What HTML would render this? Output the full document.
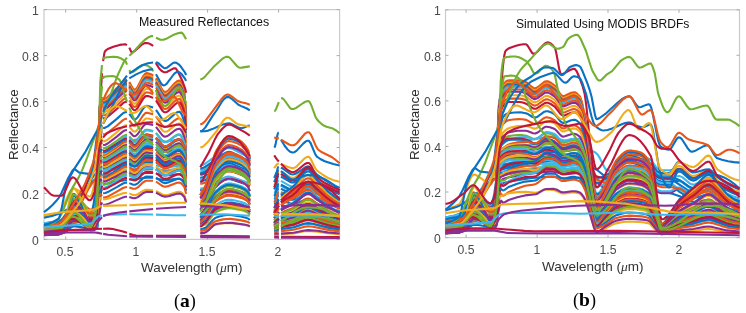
<!DOCTYPE html><html><head><meta charset="utf-8"><style>
html,body{margin:0;padding:0;background:#fff;width:746px;height:313px;overflow:hidden}
body{position:relative;font-family:"Liberation Sans",sans-serif;color:#262626}
.t{position:absolute;white-space:nowrap;line-height:1;will-change:transform}
.tk{font-size:12.2px;color:#4a4a4a}
svg{position:absolute;left:0;top:0}
svg g.l path{fill:none;stroke-width:2.1;stroke-linejoin:round;stroke-linecap:butt}
</style></head><body>
<svg width="746" height="313" viewBox="0 0 746 313">
<g><rect x="44.0" y="9.6" width="295.6" height="229.8" fill="none" stroke="#cacaca" stroke-width="1.2"/>
<path d="M65.7 239.4V236.4M65.7 9.6V12.6" stroke="#aaaaaa" stroke-width="1"/>
<path d="M136.7 239.4V236.4M136.7 9.6V12.6" stroke="#aaaaaa" stroke-width="1"/>
<path d="M207.6 239.4V236.4M207.6 9.6V12.6" stroke="#aaaaaa" stroke-width="1"/>
<path d="M278.6 239.4V236.4M278.6 9.6V12.6" stroke="#aaaaaa" stroke-width="1"/>
<path d="M44.0 239.4H47.0M339.6 239.4H336.6" stroke="#aaaaaa" stroke-width="1"/>
<path d="M44.0 193.4H47.0M339.6 193.4H336.6" stroke="#aaaaaa" stroke-width="1"/>
<path d="M44.0 147.5H47.0M339.6 147.5H336.6" stroke="#aaaaaa" stroke-width="1"/>
<path d="M44.0 101.5H47.0M339.6 101.5H336.6" stroke="#aaaaaa" stroke-width="1"/>
<path d="M44.0 55.6H47.0M339.6 55.6H336.6" stroke="#aaaaaa" stroke-width="1"/>
<path d="M44.0 9.6H47.0M339.6 9.6H336.6" stroke="#aaaaaa" stroke-width="1"/></g><g><rect x="445.5" y="9.8" width="294.0" height="227.8" fill="none" stroke="#cacaca" stroke-width="1.2"/>
<path d="M466.1 237.6V234.6M466.1 9.8V12.8" stroke="#aaaaaa" stroke-width="1"/>
<path d="M537.1 237.6V234.6M537.1 9.8V12.8" stroke="#aaaaaa" stroke-width="1"/>
<path d="M608.0 237.6V234.6M608.0 9.8V12.8" stroke="#aaaaaa" stroke-width="1"/>
<path d="M679.0 237.6V234.6M679.0 9.8V12.8" stroke="#aaaaaa" stroke-width="1"/>
<path d="M445.5 237.6H448.5M739.5 237.6H736.5" stroke="#aaaaaa" stroke-width="1"/>
<path d="M445.5 192.0H448.5M739.5 192.0H736.5" stroke="#aaaaaa" stroke-width="1"/>
<path d="M445.5 146.5H448.5M739.5 146.5H736.5" stroke="#aaaaaa" stroke-width="1"/>
<path d="M445.5 100.9H448.5M739.5 100.9H736.5" stroke="#aaaaaa" stroke-width="1"/>
<path d="M445.5 55.3H448.5M739.5 55.3H736.5" stroke="#aaaaaa" stroke-width="1"/>
<path d="M445.5 9.8H448.5M739.5 9.8H736.5" stroke="#aaaaaa" stroke-width="1"/></g>
<g class="l"><path d="M44 223.5 53.7 221.8 61.1 219.9 66.7 217.7 70.1 215.6 73 212.2 76.4 206.3 87.2 182.6 91.8 174.1 94 171 95.7 169.3 98 167.9 102 166.3M103.1 165.9 114.5 162.9 127 160.3M129.3 159.9 146.3 157.4 150.9 157.2 153.1 157.4M156 158.2 161.1 159.8 164.5 160.4 168.5 160.2 176.5 159 179.9 158.9 182.1 160.4 186.1 165.1M200.3 177.8 202.6 177.4 205.4 176.2 223.1 165.2 225.9 163.9 228.2 163.3 230.5 163.4 233.3 164.3 245.2 169.6 249.8 172.4M274.2 196.5 274.8 196 275.4 194.7 277.6 186.4 278.2 185.2 278.8 185M281 185.5 289.6 190 291.3 190.6 293 190.7 294.7 190.5 297 189.7 304.9 185.7 307.2 185.1 308.9 185 311.2 186.1 316.3 190.4 322 193.5 330.5 197.4 339.6 200.8" stroke="#0A72C4"/>
<path d="M44 227.8 53.7 226.6 59.3 225.4 62.2 223.4 69.6 215.3 71.3 214 73 213.4 76.4 213.8 88.3 217.2 90.6 217.5 91.2 217.1 92.9 214.1 94 207.5 98.6 161 99.7 156.2 102 154.2M103.1 153.5 106 152.2 113.9 149.6 127 146.5M129.3 146 146.3 143.2 150.9 142.9 153.1 143.1M156 144 161.1 146 164.5 146.7 168.5 146.4 176.5 145 179.9 144.9 182.1 146.5 186.1 152M200.3 174.5 202.6 174.1 205.4 172.8 223.1 161.2 225.9 159.8 228.2 159.2 230.5 159.3 233.3 160.3 245.2 165.8 249.8 168.8M274.2 192.8 274.8 192.3 275.4 190.8 277.6 181.8 278.2 180.6 278.8 180.4M281 180.9 289.6 185.8 291.8 186.5 293.6 186.5 295.3 185.8 297 184.4 304.9 176.1 307.2 174.9 308.9 174.8 310 175.7 311.2 177.2 315.7 185.3 318 187.5 324.3 191 333.3 195.1 339.6 197.5" stroke="#3CB8EC"/>
<path d="M44 226 53.7 224.6 59.3 223.2 62.2 220.8 69.6 211.5 71.3 210 73 209.3 76.4 209.7 88.3 213.7 90.6 214 91.2 213.6 92.9 210.2 94 205.1 98.6 173.5 99.7 170.1 102 168.5M103.1 167.9 106 166.8 113.9 164.6 127 162M129.3 161.7 146.3 159.3 150.9 159 153.1 159.3M156 160 161.1 161.6 164.5 162.2 168.5 162 177 160.7 179.9 160.7 182.1 162.3 186.1 167M200.3 174.8 202.6 174.4 205.4 173.1 223.1 161.6 225.9 160.2 228.2 159.6 230.5 159.8 233.3 160.7 245.2 166.2 249.8 169.2M274.2 199.1 274.8 198.7 275.4 197.4 277.6 189.6 278.2 188.6 278.8 188.4M281 188.8 289.6 193 291.3 193.6 293 193.7 297 192.8 305.5 189 307.8 188.6 309.5 188.7 311.7 189.9 316.3 193.4 322.5 196.6 330.5 200 339.6 203.1" stroke="#0A72C4"/>
<path d="M44 223.4 54.2 221.5 62.2 219.4 67.9 217 70.7 214.8 73.6 210.8 76.4 205.3 87.2 179.5 91.8 170.2 94 166.8 95.7 164.9 98 163.5 102 161.7M103.1 161.3 114.5 158.1 127 155.4M129.3 155 146.3 152.3 150.9 152.1 153.1 152.3M156 153.1 161.1 154.9 164.5 155.5 168.5 155.2 177 153.9 179.9 153.9 181 154.6 182.1 155.8 186.1 161.1M200.3 165.4 202.6 165 205.4 163.5 216.8 155.3 223.1 150.4 225.9 148.7 228.2 148.1 230.5 148.2 233.3 149.3 245.2 155.6 249.8 159M274.2 187.5 274.8 186.9 275.4 185.3 277.6 175.3 278.2 173.9 278.8 173.6M281 174.2 289.6 179.7 291.8 180.5 293.6 180.4 295.3 179.6 297 178 304.9 168.3 307.2 166.8 308.9 166.8 310.6 168.7 315.2 178.1 316.3 179.9 317.4 181.1 320.3 183.2 323.7 185.2 332.8 189.7 339.6 192.7" stroke="#3CB8EC"/>
<path d="M44 231.2 53.7 230.4 59.3 229.5 62.2 228.1 69.6 222.3 71.3 221.5 73 221 76.4 221.3 88.3 223.7 90.6 223.9 91.2 223.6 92.9 221.6 94 217.4 98.6 189.1 99.7 186.2 102 184.9M103.1 184.4 113.9 181.9 127 180M129.3 179.7 146.3 177.8 153.1 177.8M156 178.4 161.1 179.6 164.5 180.1 168.5 179.9 177 178.9 179.9 178.9 182.1 180.1 186.1 183.8M200.3 190.5 202.6 190.2 205.4 189.3 223.1 180.6 225.9 179.5 228.2 179.1 230.5 179.2 233.3 179.9 245.2 184.1 249.8 186.3M274.2 208 274.8 207.6 275.4 206.6 277.6 200.6 278.2 199.7 278.8 199.6M281 199.9 289.6 203.2 293 203.8 297 203 304.9 199.9 307.2 199.5 308.9 199.4 311.2 200.3 316.3 203.5 321.4 205.6 329.9 208.5 339.6 211.1" stroke="#0A72C4"/>
<path d="M44 225.8 53.7 224.4 59.3 223 62.2 220.6 69.6 211.1 71.3 209.6 73 208.9 76.4 209.3 88.3 213.4 90.6 213.7 91.2 213.2 92.9 209.9 94 206 97.4 188.8 98.6 184.3 99.7 181.9 102 180.6M103.1 180.1 113.9 177.4 127 175.2M129.3 175 146.3 173 150.9 172.8 153.1 173M156 173.5 161.1 174.9 164.5 175.4 168.5 175.2 176.5 174.2 179.9 174.1 182.1 175.3 186.1 179.2M200.3 190.3 202.6 190 205.4 189 223.1 180.3 225.9 179.2 228.2 178.8 230.5 178.9 233.3 179.6 245.2 183.8 249.8 186M274.2 202.7 274.8 202.2 275.4 200.9 277.6 194 278.2 193.1 278.8 192.9M281 193.3 289.6 197.2 291.8 197.7 293.6 197.7 295.3 197.1 297 195.9 304.9 188.6 307.2 187.4 308.9 187.4 310 188.2 311.2 189.6 315.7 196.7 317.4 198.2 323.7 201.1 339.6 206.4" stroke="#8A2E96"/>
<path d="M44 228.8 54.2 227.5 62.8 226 68.4 224.3 70.7 222.8 73.6 219.1 76.4 213.8 87.8 186.7 91.8 178.7 94 175.4 95.7 173.6 98 172.2 102 170.7M103.1 170.3 114.5 167.5 127 165.1M129.3 164.8 146.3 162.4 150.9 162.2 153.1 162.4M156 163.1 161.1 164.6 164.5 165.2 168.5 165 177 163.8 179.9 163.8 182.1 165.3 186.1 169.8M200.3 178.6 202.6 178.2 205.4 177.1 223.1 166.2 225.9 164.9 228.2 164.3 230.5 164.5 233.3 165.3 245.2 170.5 249.8 173.3M274.2 204.5 274.8 204.1 275.4 203 277.6 196.3 278.2 195.4 278.8 195.2M281 195.6 289.6 199.3 291.8 199.8 293.6 199.8 297 198.6 304.9 193.8 307.2 193.1 308.9 193.1 311.2 194.4 315.7 199 318.6 200.7 327.1 204.1 339.6 208" stroke="#0A72C4"/>
<path d="M44 225.6 53.7 224.2 59.3 222.8 62.2 220.3 69.6 210.7 71.3 209.2 73 208.4 76.4 208.9 88.3 213 90.6 213.3 91.2 212.9 92.9 209.5 94 204.9 97.4 183.3 98.6 177.6 99.7 174.7 102 173.1M103.1 172.6 106 171.6 113.9 169.5 127 167.1M129.3 166.8 146.3 164.6 150.9 164.3 153.1 164.5M156 165.2 161.1 166.7 164.5 167.3 168.5 167.1 176.5 165.9 179.9 165.9 182.1 167.1 186.1 171.4M200.3 188.6 202.6 188.2 205.4 187.3 223.1 178.2 225.9 177.1 228.2 176.6 230.5 176.7 233.3 177.5 245.2 181.8 249.8 184.1M274.2 201.6 274.8 201 275.4 199.7 277.6 192.6 278.2 191.6 278.8 191.4M281 191.9 289.6 195.8 291.8 196.4 293.6 196.4 295.3 195.9 297 194.9 304.9 188.6 307.2 187.6 308.9 187.5 310 188.2 311.2 189.4 315.7 195.5 318 197.2 324.8 200.3 339.6 205.3" stroke="#3CB8EC"/>
<path d="M44 216.7 53.7 214.5 57.1 213.3 59.3 212.1 60.5 210.9 62.2 208.1 69.6 192.3 71.3 189.8 73 188.6 74.1 188.5 75.8 189.1 81 191.7 87.2 195.6 88.9 196.3 90.6 196.5 91.8 194.2 93.5 188.1 97.4 165.8 98.6 160.8 99.7 158.1 102 156.2M103.1 155.5 106.5 154 113.4 151.8 127 148.6M129.3 148.2 146.3 145.4 150.9 145.1 153.1 145.3M156 146.2 161.1 148.1 164.5 148.8 168.5 148.5 176.5 147.1 179.9 147 181 147.7 182.1 148.7 186.1 154.1M200.3 169.5 202.6 169.1 205.4 167.8 216.8 160 223.1 155.3 225.9 153.8 228.2 153.2 230.5 153.3 233.3 154.3 245.2 160.3 249.8 163.4M274.2 185.2 274.8 184.3 275.4 182.4 277.6 172.3 278.2 171 278.8 170.7M281 171.3 289.6 177 291.8 177.9 293.6 177.9 295.3 177.2 297 175.9 304.9 168.1 307.2 166.9 308.9 166.9 310 167.7 311.2 169.1 315.7 176.7 318.6 179.3 322 181.7 326.5 184.3 333.3 187.8 339.6 190.6" stroke="#F0AC1C"/>
<path d="M44 217.8 52 215.9 58.8 213.8 63.9 211.5 69 208.4 71.9 206.1 75.3 202.4 86.6 187.9 91.2 182.8 93.5 180.7 95.7 179.2 102 176.7M103.1 176.4 114.5 173.8 127 171.6M129.3 171.2 146.3 169.1 150.9 168.9 153.1 169.1M156 169.7 161.1 171.1 164.5 171.6 168.5 171.4 177 170.4 179.9 170.4 182.1 171.8 186.1 176M200.3 181.4 202.6 181.1 205.4 179.9 223.1 169.6 225.9 168.3 228.2 167.8 230.5 167.9 233.3 168.8 245.2 173.7 249.8 176.4M274.2 189.4 275.4 186.4 277.6 177.3 278.2 176.1 278.8 175.9M281 176.5 289.6 181.7 291.8 182.5 293.6 182.5 295.3 181.6 297 180.1 304.9 170.5 307.2 169 308.9 169 310.6 170.8 315.2 180.2 316.3 182 317.4 183.1 320.3 185.2 323.7 187.1 332.8 191.4 339.6 194.3" stroke="#0A72C4"/>
<path d="M44 229.6 54.8 228.5 59.9 227.4 62.8 225.4 69 219.5 70.7 218.3 72.4 217.6 75.8 217.7 88.9 220.8 90.6 220.9 91.8 220 92.9 218.1 94 210.9 98.6 157.2 99.1 153.5 99.7 151.6 102 149.5M103.1 148.8 106 147.4 113.9 144.7 127 141.4M129.3 140.9 146.3 137.9 150.9 137.6 153.1 137.9M156 138.8 161.1 140.8 164.5 141.6 168.5 141.3 176.5 139.8 179.9 139.7 181 140.3 182.1 141.4 186.1 147.2M200.3 171.2 202.6 170.8 205.4 169.4 216.8 161.8 223.1 157.3 225.9 155.8 228.2 155.2 230.5 155.3 233.3 156.3 245.2 162.1 249.8 165.2M274.2 196.1 274.8 195.7 275.4 194.3 277.6 185.9 278.2 184.8 278.8 184.6M281 185 289.6 189.6 291.8 190.3 293.6 190.3 295.3 189.7 297 188.8 304.9 182.7 307.2 181.8 308.9 181.7 310 182.3 311.2 183.4 315.7 189.3 318.6 191.4 326.5 195.4 339.6 200.4" stroke="#3CB8EC"/>
<path d="M44 224.8 53.7 223.4 59.3 221.8 62.2 219.2 69.6 209 71.3 207.5 73 206.7 74.7 206.7 76.4 207.2 88.3 211.5 90.6 211.8 91.2 211.4 92.9 207.7 94 201.8 98.6 164.4 99.7 160.5 102 158.6M103.1 157.9 106 156.7 113.9 154.2 127 151.2M129.3 150.8 146.3 148.1 150.9 147.8 153.1 148.1M156 148.9 161.1 150.8 164.5 151.4 168.5 151.2 177 149.7 179.9 149.7 181 150.4 182.1 151.5 186.1 156.8M200.3 168.6 202.6 168.1 205.4 166.7 216.8 158.8 223.1 154.1 225.9 152.6 228.2 151.9 230.5 152.1 233.3 153.1 245.2 159.2 249.8 162.4M274.2 182.2 275.4 179 277.6 168.5 278.2 167.1 278.8 166.9M281 167.5 283.3 168.9 289.6 173.5 291.3 174.3 293 174.5 294.7 174.1 297 173 304.9 167.5 307.2 166.6 308.9 166.6 311.2 168.1 316.3 174 321.4 177.9 329.9 183.1 339.6 187.9" stroke="#0A72C4"/>
<path d="M44 230.9 55.9 229.7 65 228.2 69 227.1 71.3 225 74.1 219.9 77 212.9 87.8 178.9 91.8 168.4 94 164 95.7 161.8 98 160.1 102 158.3M103.1 157.9 114.5 154.6 127 151.7M129.3 151.3 146.3 148.5 150.9 148.2 153.1 148.5M156 149.3 161.1 151.2 164.5 151.8 168.5 151.6 176.5 150.2 179.9 150.1 182.1 151.7 186.1 156.9M200.3 173.9 202.6 173.5 205.4 172.2 223.1 160.6 225.9 159.1 228.2 158.5 230.5 158.7 233.3 159.6 245.2 165.2 249.8 168.2M274.2 187.3 275.4 184.5 277.6 174.8 278.2 173.6 278.8 173.3M281 173.9 289.6 179.4 291.8 180.2 293.6 180.2 295.3 179.4 297 177.9 304.9 168.9 307.2 167.5 308.9 167.4 310 168.4 311.2 170 315.7 178.9 318 181.2 320.8 183.3 324.3 185.2 332.8 189.5 339.6 192.5" stroke="#C0163A"/>
<path d="M44 227 53.7 225.8 59.3 224.5 62.2 222.3 69.6 213.7 71.3 212.4 73 211.7 76.4 212.1 88.3 215.8 90.6 216 91.2 215.7 92.9 212.6 94 207.5 98.6 174.7 99.7 171.3 102 169.7M103.1 169.1 106 168 113.9 165.9 127 163.3M129.3 163 146.3 160.6 150.9 160.4 153.1 160.6M156 161.3 161.1 162.9 164.5 163.5 168.5 163.3 177 162.1 179.9 162.1 182.1 163.8 186.1 168.5M200.3 173.1 202.6 172.7 205.4 171.4 216.8 164 223.1 159.6 225.9 158.1 228.2 157.6 230.5 157.7 233.3 158.6 245.2 164.3 249.8 167.3M274.2 195.8 274.8 195.3 275.4 193.9 277.6 185.5 278.2 184.3 278.8 184.1M281 184.6 289.6 189.2 291.3 189.8 293 189.9 294.7 189.7 297 188.9 305.5 184.7 307.8 184.2 309.5 184.4 311.7 185.7 316.3 189.6 322 192.8 330.5 196.7 339.6 200.1" stroke="#0A72C4"/>
<path d="M44 231.3 54.8 230.4 59.9 229.4 62.8 227.8 69 222.9 72.4 221.3 75.8 221.4 88.9 224 90.6 224.1 91.8 223.3 92.9 221.7 94 216.8 98.6 181.1 99.7 177.4 102 175.9M103.1 175.3 113.9 172.4 127 170.1M129.3 169.8 146.3 167.7 150.9 167.4 153.1 167.6M156 168.3 161.1 169.7 164.5 170.3 168.5 170.1 177 168.9 179.9 169 182.1 170.5 186.1 174.8M200.3 179.3 202.6 178.9 205.4 177.7 223.1 167 225.9 165.7 228.2 165.2 230.5 165.3 233.3 166.2 245.2 171.3 249.8 174M274.2 202.6 274.8 202.3 275.4 201.1 277.6 194 278.2 193 278.8 192.9M281 193.2 289.6 197.1 291.8 197.7 293.6 197.7 295.3 197 297 195.7 304.9 188 307.2 186.8 308.9 186.8 310 187.6 311.2 189.1 315.7 196.6 317.4 198.1 323.1 200.8 339.6 206.3" stroke="#3CB8EC"/>
<path d="M44 226.9 54.2 225.4 62.2 223.8 67.9 221.9 70.7 220.1 73.6 216.9 76.4 212.4 87.2 191.3 91.8 183.6 94 180.8 95.7 179.3 98 178.2 102 176.8M103.1 176.4 114.5 173.9 127 171.7M129.3 171.3 146.3 169.2 150.9 169 153.1 169.2M156 169.8 161.1 171.2 164.5 171.7 168.5 171.5 177 170.4 179.9 170.4 182.1 171.8 186.1 175.9M200.3 183.9 202.6 183.5 205.4 182.4 223.1 172.6 225.9 171.3 228.2 170.8 230.5 170.9 233.3 171.7 245.2 176.5 249.8 179M274.2 202.3 274.8 201.9 275.4 200.7 277.6 193.5 278.2 192.5 278.8 192.4M281 192.8 289.6 196.7 291.8 197.3 293.6 197.3 297 196 304.9 191 307.2 190.2 308.9 190.1 311.2 191.6 315.7 196.5 318.6 198.3 327.1 201.8 339.6 206" stroke="#E8561A"/>
<path d="M44 234.3 58.8 233.3 61.1 232.5 63.3 231 66.2 228 69.6 217 71.9 212.1 73 210.6 73.6 210.4 77 211.6 81 214.3 84.4 217.2 88.3 222.3 89.5 223.3 90.6 223.7 92.9 223.5 97.4 222.6 98 219.7 98.6 207.6 100.8 121.7 101.4 105.4 102 97.2M103.1 99 103.7 99.1 104.8 98.9 107.7 97.1 116.8 88.1 123 81.4 125.3 79.9 127 79.7M129.3 82.1 132.7 88.2 133.8 89.4 135 89.6 136.1 88.8 137.8 86.6 142.9 76.7 145.2 73.7 146.3 73.1 148 73.2 150.3 73.9 153.1 75.3M156 78.2 162.2 89.8 163.9 91.6 165.1 92 166.8 91.5 168.5 90.3 174.7 83.2 177 81.3 179.3 80.5 180.4 81.4 182.1 85 184.4 93.1 186.1 113.1M200.3 197.5 204.9 197.7 205.4 197.5 206.6 196.1 208.9 190.5 214 173.5 215.7 169.6 221.9 161.7 224.2 159.5 226.5 158.1 228.8 157.5 232.7 158 239 160.1 242.4 161.9 245.2 164.5 248.1 168.3 248.6 169.6 249.8 174.4M274.2 215.3 275.9 213.1 278.8 208.4M281 205.4 284.5 202.9 293 198.4 295.3 196.6 303.8 188.4 306.1 187 308.3 186.5 310 187 311.7 188.1 316.3 192.5 327.1 201.5 333.3 205.5 339.6 208.9" stroke="#E8561A"/>
<path d="M44 234.8 57.6 234.1 62.8 233.1 66.2 231.4 69.6 226.1 71.9 223.8 73 223.1 79.2 222.1 84.4 220.8 90 218.9 95.7 217.9 96.3 217.7 96.9 216.8 98 192.1 100.3 110.5 100.8 99.8 101.4 97.8 102 98.5M103.1 100.1 105.4 99.7 107.7 98.1 116.8 89.2 123 82.6 125.3 81.1 127 80.8M129.3 83.3 132.7 89.3 133.8 90.5 135 90.6 136.1 89.9 137.8 87.7 142.9 77.9 145.2 74.9 146.3 74.3 148 74.4 150.3 75.1 153.1 76.5M156 79.3 162.2 90.9 163.9 92.7 165.1 93.1 166.8 92.6 168.5 91.4 174.7 84.4 177 82.4 179.3 81.7 180.4 82.5 182.1 86.1 184.4 94.2 186.1 114M200.3 195 204.9 189.2 206.6 185.6 208.3 180.3 213.4 161.6 215.7 155.6 221.4 146.8 223.6 144.1 225.9 142.1 227.6 141.3 228.8 141.1 232.2 141.5 237.8 143.6 241.8 145.9 245.2 149.4 248.1 154 248.6 155.6 249.8 161.2M274.2 213 278.8 205.5M281 202.2 284.5 199.5 293 194.6 295.3 192.6 301.5 185.8 303.8 183.6 306.1 182.2 308.3 181.6 310 182.1 311.7 183.4 316.3 188.1 327.1 197.9 333.3 202.4 339.6 206.1" stroke="#E8561A"/>
<path d="M44 229.1 57.6 227.4 61.1 226.5 63.9 225.2 66.2 223.5 69.6 216 71.9 212.6 73 211.6 73.6 211.4 77 212.7 81 215.4 84.4 218.4 88.3 223.6 90 224.9 92.3 224.9 95.2 224.3 96.3 224 96.9 223 98 197.3 100.3 112.2 100.8 100.9 101.4 98.8 102 99.5M103.1 101.1 105.4 100.7 107.7 99.2 116.8 90.3 123 83.7 125.3 82.3 127 82M129.3 84.4 132.7 90.4 133.8 91.6 135 91.7 136.1 91 137.8 88.8 142.9 79.1 145.2 76.1 146.3 75.5 148 75.6 150.3 76.3 153.1 77.7M156 80.5 162.2 92 163.9 93.8 165.1 94.1 166.8 93.6 168.5 92.4 174.7 85.5 177 83.6 179.3 82.8 180.4 83.6 182.1 87.2 184.4 95.2 186.1 114.9M200.3 194.6 204.9 187.2 206.6 183.2 212.8 160.3 215.1 153.5 217.4 149.3 221.4 143.2 223.6 140.3 225.9 138.3 227.6 137.4 228.8 137.2 232.2 137.6 237.8 139.8 241.8 142.2 245.2 145.9 248.1 150.6 248.6 152.3 249.8 158.1M274.2 209.9 278.8 201.5M281 197.9 284.5 194.9 293 189.4 295.3 187.2 301.5 179.5 303.8 177.1 306.1 175.4 308.3 174.8 310 175.4 311.7 176.8 316.3 182.1 327.1 193.1 333.3 198 339.6 202.1" stroke="#F0AC1C"/>
<path d="M44 227.6 53.1 226.5 58.2 225.5 61.1 224.5 63.9 222.4 66.2 219.7 69.6 208 71.9 202.7 73 201.1 73.6 200.9 77 201.7 81 203.5 84.4 205.4 89.5 209.4 92.3 209.5 96.3 208.6 96.9 207.3 97.4 198.5 100.3 110 100.8 101.1 101.4 99.9 102 100.6M103.1 102.2 105.4 101.7 107.7 100.2 116.8 91.4 123 84.8 125.3 83.4 127 83.2M129.3 85.6 132.7 91.5 133.8 92.6 135 92.8 136.1 92.1 137.8 89.9 142.9 80.3 145.2 77.3 146.3 76.7 148 76.8 150.3 77.5 153.1 78.9M156 81.7 162.2 93 163.9 94.8 165.1 95.2 166.8 94.7 168.5 93.5 174.7 86.6 177 84.7 179.3 84 180.4 84.8 182.1 88.3 184.4 96.3 186.1 115.9M200.3 197.6 204.9 196.3 206 195.1 208.3 189.9 212.8 174.6 215.1 168.3 216.2 166.3 221.4 159.6 224.2 156.8 226.5 155.3 228.8 154.7 232.7 155.2 239 157.3 242.4 159.3 245.2 161.9 248.1 165.8 248.6 167.2 249.8 172.1M274.2 211.4 278.8 203.5M281 200 284.5 197.2 293 192 295.3 189.9 301.5 182.6 303.8 180.4 306.1 178.8 308.3 178.2 310 178.7 311.7 180.1 316.3 185.1 327.1 195.5 333.3 200.2 339.6 204.1" stroke="#E8561A"/>
<path d="M44 232.1 53.1 231.5 58.8 230.7 61.1 229.8 63.3 228.1 65 226.4 66.2 224.7 69.6 212.3 71.9 206.8 73 205 73.6 204.8 74.7 205.2 77 206.9 81 211.4 84.4 216.2 88.3 224.7 89.5 226.4 90 226.8 91.8 226.9 95.7 225.8 96.3 221.3 96.9 207.8 99.7 107.2 100.3 100.9 100.8 101 102 102.2M103.1 103.2 105.4 102.7 107.7 101.2 116.8 92.5 123 86 125.3 84.6 127 84.3M129.3 86.7 132.7 92.6 133.8 93.7 135 93.9 136.1 93.2 137.8 91 142.9 81.4 145.2 78.5 146.3 77.9 148 78 150.3 78.7 153.1 80.1M156 82.8 162.2 94.1 163.9 95.9 165.1 96.3 166.8 95.8 168.5 94.6 174.7 87.7 177 85.8 179.3 85.1 180.4 85.9 182.1 89.4 184.4 97.3 186.1 116.8M200.3 195.3 204.9 188 206.6 183.9 212.8 161.4 215.1 154.7 217.4 150.6 221.4 144.5 223.6 141.7 225.9 139.7 227.6 138.8 228.8 138.6 232.2 139.1 237.8 141.2 241.8 143.6 245.2 147.2 248.1 151.9 248.6 153.5 249.8 159.2M274.2 208.3 278.8 199.4M281 195.6 284.5 192.5 293 186.7 295.3 184.3 301.5 176.2 303.8 173.7 306.1 172 308.3 171.3 310 171.9 311.7 173.4 316.3 179 327.1 190.6 333.3 195.8 339.6 200.1" stroke="#0A72C4"/>
<path d="M44 231 58.2 229.5 61.1 228.8 63.9 227.5 66.2 225.8 69.6 218.2 71.9 214.8 73 213.8 73.6 213.6 77 215 81 217.9 84.4 221.1 88.3 226.6 89.5 227.7 90.6 228.1 91.8 228 95.7 227 96.3 223.1 96.9 210.2 99.7 109.1 100.3 102 100.8 102 102 103.2M103.1 104.2 105.4 103.7 107.7 102.3 116.8 93.6 123 87.1 125.3 85.7 127 85.5M129.3 87.8 132.7 93.7 133.8 94.8 135 95 136.1 94.3 137.8 92.2 142.9 82.6 145.2 79.7 146.3 79.1 148 79.2 150.3 79.9 153.1 81.3M156 84 162.2 95.2 163.9 97 165.1 97.3 166.8 96.9 168.5 95.7 174.7 88.9 177 87 179.3 86.3 180.4 87.1 182.1 90.6 184.4 98.4 186.1 117.7M200.3 195.3 204.9 187.1 206.6 182.9 212.8 160 215.1 153.2 216.2 150.9 220.8 143.7 223.1 140.7 225.3 138.4 227 137.4 228.2 137 231.6 137.2 236.7 139 239.6 140.4 241.8 142 245.2 145.6 248.1 150.4 248.6 152.1 249.8 157.9M274.2 213.3 278.8 205.9M281 202.6 284.5 200 293 195.2 295.3 193.2 303.8 184.3 306.1 182.8 308.3 182.2 310 182.7 311.7 184 316.3 188.7 327.1 198.4 333.3 202.8 339.6 206.4" stroke="#E8561A"/>
<path d="M44 229 57.6 227.3 61.6 226.3 64.5 225.1 66.2 223.9 69.6 217.5 71.9 214.7 73 213.8 88.9 212.7 93.5 212.2 95.7 211.5 96.3 209.5 96.9 199.8 99.7 111.5 100.3 103.6 100.8 103 102 104.2M103.1 105.2 105.4 104.8 107.7 103.3 116.8 94.7 123 88.3 125.3 86.9 127 86.6M129.3 89 132.7 94.8 133.8 95.9 135 96.1 136.1 95.4 137.8 93.3 142.9 83.8 145.2 80.9 146.3 80.3 148 80.4 150.3 81.1 153.1 82.4M156 85.2 162.2 96.3 163.9 98 165.1 98.4 166.8 97.9 168.5 96.8 174.7 90 177 88.1 179.3 87.4 180.4 88.2 182.1 91.7 184.4 99.5 186.1 118.6M200.3 198.7 204.9 197.3 206 196.1 208.3 191 212.8 176 215.1 169.9 216.2 167.9 221.4 161.4 224.2 158.7 226.5 157.2 228.8 156.6 232.7 157.1 239 159.2 242.4 161.1 245.2 163.7 248.1 167.5 248.6 168.9 249.8 173.6M274.2 217.7 275.9 215.8 278.8 211.7M281 208.9 284.5 206.7 293 202.7 295.8 200.6 303.8 193.7 306.1 192.5 308.3 192 310 192.4 311.7 193.5 316.3 197.4 327.1 205.4 333.3 209 339.6 212" stroke="#3CB8EC"/>
<path d="M44 232.1 53.1 231.5 58.8 230.8 61.1 230 63.3 228.6 66.2 225.7 69.6 215.2 71.9 210.5 73 209 73.6 208.9 75.3 209.1 79.8 210.5 84.4 212.7 88.3 215.5 90 216.2 91.8 216.2 94 215.7 95.2 215.3 95.7 214.4 96.9 192 98.6 133.1 99.7 107 100.3 105 102 106.4M103.1 107.3 105.4 106.8 107.7 105.4 116.8 96.9 123 90.6 125.3 89.2 127 88.9M129.3 91.3 132.7 97 133.8 98.1 135 98.2 136.1 97.6 137.8 95.5 142.9 86.2 145.2 83.3 146.3 82.7 148 82.8 150.3 83.5 153.1 84.8M156 87.5 162.2 98.5 163.9 100.2 165.1 100.5 166.8 100.1 168.5 98.9 174.7 92.3 177 90.4 179.3 89.7 180.4 90.5 182.1 93.9 184.4 101.6 186.1 120.4M200.3 197.5 204.9 191.4 206.6 187.8 213.4 164.7 215.7 158.9 221.4 150.6 223.6 148 225.9 146.1 227.6 145.3 228.8 145.1 232.2 145.5 237.3 147.3 241.8 149.8 245.2 153.2 248.1 157.5 248.6 159.1 249.8 164.4M274.2 214.9 278.8 208M281 205 284.5 202.5 293 198 295.8 195.6 303.8 187.8 306.1 186.4 308.3 185.9 310 186.3 311.7 187.5 316.3 191.9 327.1 201 333.3 205.1 339.6 208.5" stroke="#E8561A"/>
<path d="M44 234 53.7 233.5 58.8 232.9 61.1 231.7 63.3 229.1 65.6 225.4 66.2 223.9 69.6 205.3 71.9 196.9 73 194.3 73.6 194 74.7 194.6 77 196.9 78.7 199.3 81 203.3 84.4 210.3 88.3 222.3 89.5 224.7 90 225.4 91.8 225.5 94.6 224.8 95.7 224 96.3 216.2 96.9 201.1 98.6 138.4 99.7 109.7 100.3 107.1 102 108.5M103.1 109.3 105.4 108.8 107.7 107.4 116.8 99.1 123 92.9 125.3 91.5 127 91.3M129.3 93.5 132.7 99.2 133.8 100.3 135 100.4 136.1 99.8 137.8 97.7 142.9 88.5 145.2 85.7 146.3 85.1 148 85.2 150.3 85.9 153.1 87.2M156 89.9 162.2 100.6 163.9 102.3 165.1 102.7 166.8 102.2 168.5 101.1 174.7 94.5 177 92.7 179.3 92 180.4 92.8 182.1 96.1 184.4 103.7 186.1 122.2M200.3 198.3 204.9 192.4 206.6 188.9 213.4 166.2 215.7 160.6 221.4 152.4 223.6 149.9 225.9 148.1 227.6 147.3 228.8 147.1 232.2 147.5 237.3 149.3 241.8 151.7 245.2 155 248.1 159.2 248.6 160.7 249.8 166M274.2 218.3 275.9 216.4 278.8 212.4M281 209.8 284.5 207.6 293 203.7 295.8 201.7 303.8 194.9 306.1 193.7 308.3 193.3 310 193.7 311.7 194.7 316.3 198.5 327.1 206.3 333.3 209.8 339.6 212.8" stroke="#8A2E96"/>
<path d="M44 227.3 53.1 226.2 58.2 225.2 61.1 224.1 63.9 221.9 66.2 219.1 69.6 206.7 71.9 201.2 73 199.5 73.6 199.3 74.7 199.6 77 201.2 81 205.4 84.4 210 88.3 217.9 89.5 219.6 90 220 91.8 220.1 95.7 219 96.3 216.4 96.9 205.8 99.7 117.5 100.3 110.5 100.8 110.3 102 111.4M103.1 112.3 105.4 111.9 107.7 110.5 116.8 102.4 123 96.3 125.3 95 127 94.7M129.3 97 132.7 102.5 133.8 103.5 135 103.7 136.1 103 137.8 101 142.9 92 145.2 89.3 146.3 88.7 148 88.9 150.3 89.5 153.1 90.8M156 93.4 162.2 103.9 163.9 105.5 165.1 105.9 166.8 105.4 168.5 104.3 174.7 97.9 177 96.2 179.3 95.5 180.4 96.2 182.1 99.5 184.4 106.9 186.1 125M200.3 201.1 204.9 198.8 206.6 196.4 208.9 190.6 213.4 176.3 215.7 171.1 221.4 164 223.6 161.8 225.9 160.2 228.8 159.4 232.2 159.8 237.3 161.3 241.8 163.4 245.2 166.3 248.1 170 248.6 171.3 249.8 175.9M274.2 218.5 275.9 216.7 278.8 212.7M281 210.1 284.5 208.1 293 204.2 295.8 202.2 303.8 195.5 306.1 194.3 308.3 193.9 310 194.3 311.7 195.3 316.3 199 327.1 206.7 333.3 210.2 339.6 213.1" stroke="#F0AC1C"/>
<path d="M44 235.3 58.8 234.5 60.5 233.8 62.8 231.9 65 228.8 66.2 226.6 69.6 210.4 71.9 203.2 73 200.9 73.6 200.6 74.7 201.1 77 203.1 78.7 205 81 208.4 84.4 214.2 88.3 224.3 89.5 226.3 90 226.9 91.2 227 93.5 226.7 95.7 226 96.3 223.8 96.9 213.5 99.7 121.9 100.3 113.9 100.8 113.3 102 114.4M103.1 115.4 105.4 115 107.7 113.6 116.8 105.7 123 99.7 125.3 98.4 127 98.2M129.3 100.4 132.7 105.7 133.8 106.8 135 106.9 136.1 106.3 137.8 104.3 142.9 95.6 145.2 92.9 146.3 92.4 148 92.5 150.3 93.1 153.1 94.3M156 96.9 162.2 107.1 163.9 108.8 165.1 109.1 166.8 108.6 168.5 107.6 174.7 101.3 177 99.6 179.3 98.9 180.4 99.7 182.1 102.9 184.4 110.1 186.1 127.7M200.3 203 204.9 202.5 206 201.7 208.3 197.2 213.4 182.1 215.7 177.2 221.9 170.2 224.2 168.3 226.5 167.1 228.8 166.6 232.7 167 239 168.9 242.4 170.6 245.2 172.8 248.1 176.2 249.8 181.6M274.2 212.8 278.8 205.4M281 202.2 284.5 199.6 293 194.7 295.8 192.1 301.5 185.8 303.8 183.6 306.1 182.1 308.3 181.5 310 182 311.7 183.3 316.3 188 327.1 197.8 333.3 202.3 339.6 205.9" stroke="#E8561A"/>
<path d="M44 234.9 58.8 234.1 61.1 233.2 63.3 231.5 66.2 228 69.6 215.5 71.9 209.9 73 208.2 73.6 207.9 77 209 81 211.4 84.4 214 88.3 218.5 89.5 219.4 90.6 219.7 92.3 219.6 95.7 218.6 96.3 216.5 96.9 207 99.7 124 100.3 116.9 100.8 116.4 102 117.5M103.1 118.4 105.4 118 107.7 116.7 116.8 109 123 103.2 125.3 101.9 127 101.7M129.3 103.8 132.7 109 133.8 110 135 110.2 136.1 109.6 137.8 107.7 142.9 99.1 145.2 96.5 146.3 96 148 96.1 150.3 96.7 153.1 97.9M156 100.4 162.2 110.4 163.9 112 165.1 112.3 166.8 111.9 168.5 110.8 174.7 104.7 177 103 179.3 102.4 180.4 103.1 182.1 106.2 184.4 113.2 186.1 130.4M200.3 204.7 204.9 204.9 205.4 204.7 206.6 203.5 208.9 198.8 214 184.4 215.7 181.1 221.9 174.6 224.2 172.9 226.5 171.7 228.8 171.2 232.7 171.6 239 173.4 242.4 175 245.2 177.1 248.1 180.2 249.8 185.3M274.2 212.9 278.8 205.6M281 202.5 284.5 199.9 293 195.1 295.8 192.5 301.5 186.2 303.8 184 306.1 182.5 308.3 182 310 182.5 311.7 183.7 316.3 188.4 327.1 198.2 333.3 202.5 339.6 206.2" stroke="#C0163A"/>
<path d="M44 234.6 57.6 233.8 63.9 232.8 66.2 232 69.6 228.4 73 226.3 79.8 226.9 90 229 94 228.7 97.4 227.9 98 223.3 98.6 211.6 100.8 141.4 101.4 129.9 102 125.6M103.1 128 104.8 127.9 107.7 126.4 116.8 118.9 123 113.3 125.3 112.1 127 111.9M129.3 113.8 132.7 118.5 133.8 119.4 135 119.5 136.1 118.9 137.8 117.1 142.9 108.9 145.2 106.4 146.3 105.9 148 106 153.1 107.6M156 109.8 162.2 119.2 163.9 120.6 165.1 120.9 166.8 120.6 168.5 119.6 174.7 113.9 177 112.3 179.3 111.7 180.4 112.4 182.1 115.3 184.4 121.8 186.1 137.8M200.3 205.3 204.9 200 206.6 196.9 212.8 179 215.1 173.7 216.2 171.9 220.8 166.5 223.1 164.3 225.3 162.6 228.2 161.6 231.6 161.7 236.7 163.2 241.8 165.5 245.2 168.2 248.1 171.8 249.8 177.5M274.2 217.8 278.8 212M281 209.5 284.5 207.4 293 203.5 295.8 201.4 303.8 194.5 306.1 193.2 308.3 192.8 310 193.2 311.7 194.2 316.3 197.9 327.7 206.2 333.9 209.7 339.6 212.4" stroke="#0A72C4"/>
<path d="M44 232.4 58.8 231.2 61.6 230.4 63.9 229.3 66.2 227.6 69.6 220.4 71.9 217.1 73 216.1 90.6 215.4 94 215 96.3 214.4 96.9 212.6 97.4 204.8 100.3 137.8 100.8 132.2 101.4 132 102 132.8M103.1 134.3 105.4 134 107.7 132.7 116.8 125.5 123 120.1 125.3 118.9 127 118.7M129.3 120.5 132.7 124.9 133.8 125.7 135 125.8 136.1 125.3 137.8 123.5 142.9 115.7 145.2 113.3 146.3 112.8 148 112.9 153.1 114.3M156 116.4 162.2 125.3 163.9 126.7 165.1 127 166.8 126.6 168.5 125.7 174.7 120.3 177 118.8 179.3 118.3 180.4 118.9 182.1 121.6 184.4 127.8 186.1 143M200.3 205.2 206 192.8 212.8 171.6 215.1 166 220.2 158.8 222.5 156.2 224.8 154.1 227.6 152.7 231 152.7 235.6 154 241.3 156.6 244.7 159.5 247.5 163.2 248.6 165.5 249.8 170.3M274.2 220.4 278.8 215.3M281 213.2 284.5 211.3 293 207.9 295.8 206.1 303.8 200 306.1 198.9 308.3 198.5 310 198.9 311.7 199.7 316.3 203 327.7 210.3 333.9 213.4 339.6 215.7" stroke="#E8561A"/>
<path d="M44 228.2 55.9 226.7 65 224.8 66.7 223.8 70.1 219.9 72.4 218.3 73.6 218 77 218.7 81 220.1 84.4 221.7 88.3 224.4 90 225.1 94 224.9 97.4 224 98 219.9 98.6 209.9 100.8 150.9 101.4 141.4 102 138.1M103.1 141.2 104.8 141.1 107.7 139.6 116.8 132.2 123 126.7 125.3 125.5 127 125.2M129.3 126.8 132.7 130.7 133.8 131.5 135 131.6 136.1 131 137.8 129.2 142.9 121.4 145.2 118.9 146.3 118.5 148 118.5 153.1 119.7M156 121.6 162.2 130.2 163.9 131.5 165.1 131.8 166.8 131.5 168.5 130.6 174.7 125.4 177 124 179.3 123.5 180.4 124.1 182.1 126.7 184.4 132.6 186.1 147.1M200.3 209.6 204.9 205 206.6 202.3 212.8 186.3 215.1 181.6 216.2 180 220.8 175.3 223.1 173.4 225.3 172 228.2 171 231.6 171.2 236.7 172.5 241.8 174.6 245.2 177 248.1 180.1 249.8 185.1M274.2 222.1 278.8 217.6M281 215.7 284.5 214 293 211 295.8 209.3 303.8 203.8 306.1 202.8 308.3 202.4 310 202.7 311.7 203.5 316.3 206.5 327.7 213 333.9 215.8 339.6 217.9" stroke="#F0AC1C"/>
<path d="M44 230.2 53.1 229.4 58.8 228.5 61.1 227.5 63.3 225.7 65 223.8 66.2 222 69.6 208.5 71.9 202.5 73 200.6 73.6 200.4 74.7 200.7 77 201.9 81 205.4 84.4 209.1 88.3 215.6 89.5 216.9 90.6 217.4 91.8 217.3 95.7 216.3 96.3 214 96.9 206.3 99.7 146.5 100.3 142.3 100.8 142.4 102 143.9M103.1 145.1 105.4 144.7 107.7 143.5 116.8 136.6 123 131.4 125.3 130.2 127 130M129.3 131.6 132.7 135.3 133.8 136.1 135 136.2 136.1 135.6 137.8 134 142.9 126.6 145.2 124.3 146.3 123.8 148 123.9 153.1 125.1M156 126.9 162.2 135.1 163.9 136.4 165.1 136.6 166.8 136.3 168.5 135.4 174.7 130.5 177 129.2 179.3 128.7 180.4 129.2 182.1 131.7 184.4 137.4 186.1 151.2M200.3 209.9 206 200.4 212.8 182.1 215.1 177.2 220.2 171.2 222.5 169 224.8 167.4 227.6 166.2 231 166.2 235.6 167.3 241.3 169.6 244.7 172 247.5 175.1 248.6 177 249.8 181.1M274.2 218.1 278.8 212.6M281 210.3 284.5 208.3 293 204.6 295.8 202.5 303.8 195.7 306.1 194.5 308.3 194 310 194.4 311.7 195.4 316.3 199 327.7 207.1 333.9 210.4 339.6 213" stroke="#8A2E96"/>
<path d="M44 234.1 58.8 233.1 61.1 232.4 63.3 231 66.2 228.2 69.6 218.1 71.9 213.6 73 212.2 73.6 212 77 212.8 81 214.5 84.4 216.4 89.5 220.3 90.6 220.5 92.9 220.3 95.2 219.5 95.7 219.1 96.3 214.2 96.9 204.8 98.6 165.8 99.7 148 100.3 146.3 102 147.8M103.1 148.6 105.4 148.2 107.7 147.2 116.8 140.9 123 136.1 125.3 135.1 127 134.9M129.3 136.4 132.7 140.2 133.8 140.9 135 141 136.1 140.5 137.8 139 142.9 132.2 145.2 130.1 146.3 129.7 148 129.7 153.1 131M156 132.8 162.2 140.5 163.9 141.7 165.1 142 166.8 141.7 168.5 140.8 174.7 136.2 177 134.9 179.3 134.4 180.4 134.9 182.1 137.3 184.4 142.7 186.1 155.7M200.3 211.7 206 201.8 212.8 184 215.1 179.3 220.2 173.5 224.8 169.9 227.6 168.7 231 168.7 235.6 169.8 241.3 172.1 244.7 174.4 247.5 177.4 248.6 179.3 249.8 183.1M274.2 220.6 278.8 215.9M281 213.9 284.5 212.2 293 208.9 295.8 207.2 303.8 201.1 306.1 200.1 308.3 199.7 310 200 311.7 200.8 327.7 211 333.9 214 339.6 216.2" stroke="#72B030"/>
<path d="M44 233.9 53.7 233.4 58.8 232.9 61.1 231.7 63.3 229.1 65.6 225.3 66.2 223.9 69.6 205.2 71.9 196.8 73 194.2 73.6 193.9 74.7 194.5 77 197.3 78.7 200 81 204.7 84.4 212.8 88.3 226.8 89.5 229.6 90 230.4 91.2 230.6 93.5 230.2 95.7 229.3 96.3 224.6 96.9 214.6 98.6 171.5 99.7 150.8 100.3 148.4 100.8 148.8 102 150.3M103.1 151.5 105.4 151.2 107.7 150 116.8 143.2 123 138.1 125.3 137 127 136.8M129.3 138.2 132.7 141.6 133.8 142.3 135 142.3 136.1 141.8 137.8 140.2 142.9 133 145.2 130.8 146.3 130.4 148 130.4 153.1 131.4M156 133.1 162.2 140.9 163.9 142.1 165.1 142.3 166.8 142 168.5 141.2 174.7 136.6 177 135.3 179.3 134.8 180.4 135.3 182.1 137.7 184.4 143.1 186.1 156M200.3 214.2 204.9 211.4 206.6 209.4 208.3 206.2 213.4 194.8 215.7 191.2 221.4 186.4 225.3 184.1 228.2 183.4 231.6 183.5 236.7 184.7 241.8 186.4 245.2 188.3 248.1 190.9 249.8 194.9M274.2 223.4 278.8 219.5M281 217.7 284.5 216.3 293 213.5 295.8 212 303.8 206.9 306.1 206 308.3 205.6 310 205.9 311.7 206.6 327.7 215.3 333.9 217.8 339.6 219.7" stroke="#3CB8EC"/>
<path d="M44 229.3 57.1 227.8 61.6 226.8 64.5 225.7 66.2 224.7 69.6 218.9 71.9 216.4 73 215.6 75.3 215.6 79.8 216.4 84.4 217.5 90 219.5 92.9 219.3 95.7 218.5 96.3 217.5 96.9 211.9 99.7 155.8 100.3 150.2 100.8 149.5 102 150.3M103.1 151 105.4 150.7 107.7 149.7 123 139.8 125.3 138.8 127 138.7M129.3 140.2 132.7 144 133.8 144.8 135 144.9 136.1 144.4 137.8 143 142.9 136.7 145.2 134.8 146.3 134.4 148 134.5 153.1 135.8M156 137.6 162.2 144.9 163.9 146.1 165.1 146.3 166.8 146 168.5 145.2 174.7 140.8 177 139.6 179.3 139.1 180.4 139.6 182.1 141.9 184.4 147 186.1 159.4M200.3 216.3 204.9 214.8 206.6 213.3 208.9 209.5 213.4 200.1 215.7 196.8 221.4 192.6 225.9 190.4 228.8 190 232.2 190.2 237.3 191.3 241.8 192.6 245.2 194.4 248.1 196.6 249.8 200.2M274.2 222.7 278.8 218.5M281 216.8 284.5 215.3 293 212.4 295.8 210.8 303.8 205.5 306.1 204.5 308.3 204.1 310 204.4 311.7 205.1 327.7 214.2 333.9 216.8 339.6 218.8" stroke="#C0163A"/>
<path d="M44 234.4 58.8 233.5 61.1 232.7 63.3 231 66.2 227.7 69.6 215.9 71.9 210.6 73 208.9 73.6 208.7 74.7 209 77 210.1 81 213 84.4 216.2 88.3 221.7 89.5 222.8 90.6 223.2 92.3 223.1 96.3 222.1 96.9 218.8 97.4 210.6 100.3 153.5 100.8 150.5 102 151.3M103.1 152.2 105.4 151.9 107.7 150.9 116.8 145.2 123 140.9 125.3 139.9 127 139.8M129.3 141.3 132.7 145 133.8 145.7 135 145.8 136.1 145.3 137.8 143.9 142.9 137.6 145.2 135.7 146.3 135.3 148 135.4 153.1 136.7M156 138.4 162.2 145.7 163.9 146.9 165.1 147.1 166.8 146.8 168.5 146 174.7 141.6 177 140.4 179.3 139.9 180.4 140.4 182.1 142.7 184.4 147.8 186.1 160.1M200.3 215.8 204.9 212.5 206.6 210.5 208.3 207.3 213.4 196.3 215.7 192.9 221.4 188.3 225.3 186.1 228.2 185.5 231.6 185.6 236.7 186.7 241.8 188.3 245.2 190.3 248.1 192.7 249.8 196.6M274.2 222.6 278.8 218.5M281 216.8 284.5 215.3 293 212.4 295.8 210.8 303.8 205.4 306.1 204.5 308.3 204.1 310 204.4 311.7 205.1 327.7 214.2 333.9 216.8 339.6 218.8" stroke="#0A72C4"/>
<path d="M44 232.4 53.1 231.8 58.8 231.2 61.1 230.5 63.3 229.2 66.2 226.6 69.6 217.2 71.9 213 73 211.7 74.7 211.7 79.8 212.7 84.4 214.1 88.3 216 90 216.5 93.5 216.3 96.9 215.2 97.4 211.6 98 203.8 100.3 160.8 100.8 154.4 101.4 152.6 102 153.4M103.1 155.6 105.4 155.3 107.7 154.2 116.8 147.6 123 142.7 125.3 141.6 127 141.4M129.3 142.7 132.7 145.9 133.8 146.5 135 146.6 136.1 146.1 137.8 144.5 142.9 137.6 145.2 135.4 146.3 135 148 135.1 153.1 136M156 137.6 162.2 145 163.9 146.2 165.1 146.4 166.8 146.1 168.5 145.4 174.7 140.9 177 139.7 179.3 139.2 180.4 139.7 182.1 142 184.4 147.1 186.1 159.5M200.3 216.2 204.9 214.5 206.6 212.9 208.9 209 213.4 199.5 215.7 196.2 221.4 192 225.9 189.8 228.8 189.3 232.2 189.5 237.3 190.6 241.8 192 245.2 193.8 248.1 196.1 249.8 199.6M274.2 226 278.8 222.8M281 221.4 284.5 220.2 293 217.9 303.8 212.3 306.1 211.6 308.3 211.3 311.7 212.1 327.7 219.3 339.6 223" stroke="#E8561A"/>
<path d="M44 226.7 53.1 225.6 58.8 224.3 61.6 222.9 63.9 220.8 66.2 217.5 69.6 203.5 71.9 197.2 73 195.2 73.6 195 74.7 195.4 77 197.6 78.7 199.7 81 203.3 84.4 209.5 88.3 220.4 89.5 222.5 90 223.1 91.2 223.3 93.5 223 95.7 222.2 96.3 219.9 96.9 212.9 99.7 158.4 100.3 154.7 100.8 154.8 102 155.9M103.1 156.8 105.4 156.5 107.7 155.5 116.8 149.7 123 145.3 125.3 144.3 127 144.1M129.3 145.5 132.7 148.9 133.8 149.5 135 149.6 136.1 149.2 137.8 147.7 142.9 141.4 145.2 139.5 146.3 139.1 148 139.1 153.1 140.2M156 141.9 162.2 148.9 163.9 150.1 165.1 150.3 166.8 150 168.5 149.3 174.7 145 177 143.8 179.3 143.4 180.4 143.9 182.1 146 184.4 151 186.1 162.8M200.3 215.4 206 207.3 212.8 191.7 215.1 187.6 220.2 182.7 224.8 179.6 227.6 178.7 231 178.7 235.6 179.7 241.3 181.6 244.7 183.6 247.5 186.2 248.6 187.8 249.8 191.1M274.2 223.1 278.8 219.2M281 217.6 284.5 216.1 293 213.4 295.8 211.8 303.8 206.6 306.1 205.7 308.3 205.3 310 205.6 311.7 206.3 327.7 215 333.9 217.5 339.6 219.5" stroke="#F0AC1C"/>
<path d="M44 235 58.8 234.2 60.5 233.6 62.8 231.7 65 228.7 66.2 226.6 69.6 211 71.9 204 73 201.8 73.6 201.5 74.7 201.9 77 203.5 81 207.8 84.4 212.4 88.3 220.5 89.5 222.1 90.6 222.7 92.3 222.6 95.2 221.9 96.3 221.1 97.4 207.6 99.7 162.8 100.3 156.9 100.8 155.7 102 157M103.1 158.4 105.4 158.1 107.7 157 116.8 150.9 123 146.2 125.3 145.2 127 145M129.3 146.3 132.7 149.5 133.8 150.1 135 150.2 136.1 149.7 137.8 148.2 142.9 141.7 145.2 139.7 146.3 139.3 148 139.3 153.1 140.3M156 141.9 162.2 149 163.9 150.1 165.1 150.3 166.8 150 168.5 149.3 174.7 145 177 143.8 179.3 143.4 180.4 143.9 182.1 146.1 184.4 151 186.1 162.8M200.3 215.4 206 207.4 212.8 191.8 215.1 187.7 220.2 182.8 224.8 179.7 227.6 178.7 231 178.8 235.6 179.7 241.3 181.7 244.7 183.7 247.5 186.2 248.6 187.8 249.8 191.1M274.2 222.7 278.8 218.6M281 216.9 284.5 215.5 293 212.6 295.8 211.1 303.8 205.7 306.1 204.7 308.3 204.4 310 204.6 311.7 205.4 327.7 214.3 333.9 216.9 339.6 218.9" stroke="#8A2E96"/>
<path d="M44 233.1 58.2 232 61.1 231.5 63.9 230.5 66.2 229.3 69.6 223.9 71.9 221.5 73.6 220.6 77 221.1 81 222.1 84.4 223.2 88.3 225.1 90 225.6 93.5 225.4 96.9 224.5 97.4 221.5 98 213.8 100.8 159.6 101.4 156.7 102 157.2M103.1 159 105.4 158.8 107.7 157.8 116.8 151.9 123 147.5 125.3 146.5 127 146.3M129.3 147.6 132.7 150.9 133.8 151.5 135 151.6 136.1 151.1 137.8 149.7 142.9 143.4 145.2 141.5 146.3 141.1 148 141.2 153.1 142.2M156 143.8 162.2 150.7 163.9 151.8 165.1 152 166.8 151.7 168.5 151 174.7 146.8 177 145.7 179.3 145.2 180.4 145.7 182.1 147.9 184.4 152.7 186.1 164.3M200.3 217.1 204.9 213 206.6 210.7 212.8 197.8 215.1 194.1 220.2 189.7 224.8 187.1 227.6 186.2 231 186.2 235.6 187.1 241.3 188.8 244.7 190.6 247.5 192.8 248.6 194.2 249.8 197.1M274.2 225.9 278.8 222.7M281 221.3 284.5 220.1 293 217.9 303.8 212.3 306.1 211.5 308.3 211.2 311.7 212 327.7 219.2 339.6 222.9" stroke="#72B030"/>
<path d="M44 233.2 53.7 232.6 58.8 232 61.1 231.1 63.3 229.4 65.6 226.8 66.2 225.8 69.6 212.9 71.9 207.1 73 205.4 73.6 205.1 74.7 205.5 77 207.1 81 211.4 84.4 216 88.3 224.1 89.5 225.7 90.6 226.3 92.3 226.2 95.2 225.8 97.4 225 98 220.8 98.6 212.4 100.8 167 101.4 160.5 102 158.8M103.1 160.7 104.8 160.6 107.7 159.5 123 149.9 125.3 149 127 148.8M129.3 150.1 132.7 153.4 133.8 154 135 154.1 136.1 153.6 137.8 152.3 142.9 146.3 145.2 144.5 146.3 144.1 148 144.2 153.1 145.2M156 146.8 162.2 153.5 163.9 154.6 165.1 154.8 166.8 154.5 168.5 153.8 174.7 149.8 177 148.6 179.3 148.2 180.4 148.7 182.1 150.8 184.4 155.4 186.1 166.6M200.3 217.5 206 210.5 212.8 196.1 215.1 192.3 220.2 187.9 224.8 185.1 227.6 184.3 231 184.3 235.6 185.2 241.3 187 244.7 188.8 247.5 191.1 248.6 192.6 249.8 195.6M274.2 226.4 278.8 223.4M281 222.1 284.5 221 293 218.8 303.8 213.4 306.1 212.7 308.3 212.4 311.7 213.2 327.7 220.1 339.6 223.6" stroke="#3CB8EC"/>
<path d="M44 230.1 53.1 229.3 58.8 228.4 61.1 227.4 63.3 225.6 65 223.6 66.2 221.8 69.6 208.1 71.9 202 73 200.1 73.6 199.9 74.7 200.2 77 201.7 81 205.9 84.4 210.3 88.3 218 89.5 219.6 90.6 220.1 91.8 220 95.7 219 96.3 216.1 96.9 209.4 99.7 163.1 100.3 160.8 102 161.9M103.1 162.7 105.4 162.4 107.7 161.5 123 152.2 125.3 151.3 127 151.2M129.3 152.5 132.7 155.7 133.8 156.3 135 156.4 136.1 156 137.8 154.7 142.9 149 145.2 147.2 146.3 146.8 148 146.9 153.1 148M156 149.5 162.2 156 163.9 157 165.1 157.2 166.8 157 168.5 156.3 174.7 152.3 177 151.3 179.3 150.8 180.4 151.3 182.1 153.3 184.4 157.8 186.1 168.7M200.3 219.9 204.9 217.5 206.6 215.8 208.3 213.2 213.4 203.8 215.7 200.8 220.8 197.5 225.3 195.4 228.2 194.9 231.6 195 236.1 195.8 241.8 197.3 245.2 198.9 248.1 201 249.8 204.1M274.2 223.2 278.8 219.4M281 217.9 284.5 216.5 293 213.8 295.8 212.3 303.8 207.1 306.1 206.1 308.3 205.8 310 206 311.7 206.7 327.7 215.3 333.9 217.8 339.6 219.7" stroke="#C0163A"/>
<path d="M44 230.2 56.5 228.8 62.2 227.9 65 227.2 66.7 226.2 70.1 222.5 72.4 220.9 73.6 220.7 77 221.2 81 222.2 84.4 223.4 88.3 225.4 90 226 93.5 225.8 96.9 224.9 97.4 222.7 98 215.9 100.8 165.2 101.4 161.9 102 162.3M103.1 164.5 105.4 164.2 107.7 163.3 116.8 157.4 123 153.1 125.3 152.1 127 151.9M129.3 153.1 132.7 156 133.8 156.6 135 156.6 136.1 156.2 137.8 154.8 142.9 148.6 145.2 146.7 146.3 146.4 148 146.4 153.1 147.3M156 148.7 162.2 155.3 163.9 156.4 165.1 156.6 166.8 156.3 168.5 155.6 174.7 151.7 177 150.6 179.3 150.2 180.4 150.6 182.1 152.6 184.4 157.2 186.1 168.2M200.3 218 206 210.8 212.8 196.5 215.1 192.8 220.2 188.4 224.8 185.7 227.6 184.8 231 184.9 235.6 185.8 241.3 187.6 244.7 189.3 247.5 191.6 248.6 193.1 249.8 196M274.2 224.1 278.8 220.5M281 219.1 284.5 217.7 293 215.2 295.8 213.8 303.8 208.9 306.1 208 308.3 207.6 310 207.9 311.7 208.5 327.7 216.6 339.6 220.8" stroke="#0A72C4"/>
<path d="M44 228.2 52.5 227.2 58.2 226.2 61.6 225.2 64.5 223.7 66.2 222.3 69.6 214.4 71.9 210.9 73 209.8 75.3 209.8 79.8 211 84.4 212.8 88.3 215.1 90 215.7 92.9 215.6 96.3 214.6 96.9 212.7 97.4 207.2 100.3 165.6 100.8 162.9 102 163.5M103.1 164.4 105.4 164.1 107.7 163.3 123 154.6 125.3 153.8 127 153.6M129.3 154.9 132.7 158.1 133.8 158.7 135 158.8 136.1 158.4 137.8 157.2 142.9 151.8 145.2 150.1 146.3 149.8 148 149.8 153.1 150.9M156 152.4 162.2 158.7 163.9 159.7 165.1 159.9 166.8 159.6 168.5 159 174.7 155.2 177 154.1 179.3 153.7 180.4 154.2 182.1 156.1 184.4 160.5 186.1 171M200.3 220.7 204.9 217.9 206.6 216.1 212.8 205.2 215.1 202 220.2 198.5 224.8 196.3 227.6 195.7 231 195.7 235.6 196.4 241.3 197.9 244.7 199.3 247.5 201.1 248.6 202.3 249.8 204.7M274.2 225.1 278.8 221.8M281 220.5 284.5 219.3 293 217 295.8 215.6 303.8 211 306.1 210.2 308.3 209.9 311.7 210.7 327.7 218.2 339.6 222" stroke="#E8561A"/>
<path d="M44 227 53.1 225.9 58.8 224.7 61.6 223.2 63.9 221.2 66.2 218 69.6 204 71.9 197.8 73 195.9 73.6 195.6 74.7 195.9 77 197.2 81 200.7 84.4 204.4 88.3 211 89.5 212.3 90 212.7 91.8 212.7 96.3 211.7 96.9 210.7 97.4 206.4 100.3 168.5 100.8 165.2 101.4 165.1 102 165.7M103.1 167 105.4 166.8 107.7 165.9 123 156.7 125.3 155.8 127 155.7M129.3 156.8 132.7 159.8 133.8 160.3 135 160.4 136.1 160 137.8 158.7 142.9 153.1 145.2 151.4 146.3 151 148 151.1 153.1 152M156 153.4 162.2 159.7 163.9 160.7 165.1 160.9 166.8 160.6 168.5 160 174.7 156.2 177 155.2 179.3 154.8 180.4 155.2 182.1 157.1 184.4 161.5 186.1 171.8M200.3 220.4 204.9 216.5 206 215.2 208.3 211.5 212.8 202.9 215.1 199.5 220.2 195.8 224.8 193.6 227.6 192.8 231 192.9 235.6 193.7 241.3 195.2 244.7 196.7 247.5 198.7 248.6 199.9 249.8 202.4M274.2 225.1 278.8 221.9M281 220.6 283.9 219.6 293 217.1 295.8 215.8 303.8 211.2 306.1 210.4 308.3 210.1 311.7 210.9 327.7 218.3 339.6 222.1" stroke="#F0AC1C"/>
<path d="M44 234.9 58.8 234.1 61.1 233.3 63.3 231.6 66.2 228.3 69.6 216.5 71.9 211.2 73 209.5 73.6 209.3 77 210.4 81 212.8 84.4 215.3 88.3 219.8 90 220.9 92.3 220.9 94.6 220.5 96.3 220 96.9 219.3 98 207.9 100.3 172.2 100.8 167.8 101.4 167.1 102 167.8M103.1 169.5 105.4 169.2 107.7 168.3 116.8 162.9 123 158.8 125.3 157.9 127 157.8M129.3 158.9 132.7 161.6 133.8 162.1 135 162.2 136.1 161.8 137.8 160.5 142.9 154.7 145.2 153 146.3 152.6 148 152.7 153.1 153.5M156 154.8 162.2 161 163.9 162 165.1 162.2 166.8 161.9 168.5 161.3 174.7 157.6 177 156.5 179.3 156.2 180.4 156.6 182.1 158.5 184.4 162.7 186.1 172.9M200.3 220.6 206 214.6 212.8 201.8 215.1 198.5 220.2 194.7 224.8 192.4 227.6 191.7 231 191.7 235.6 192.5 241.3 194.1 244.7 195.7 247.5 197.7 248.6 199 249.8 201.5M274.2 225.4 278.8 222.2M281 221 283.9 220 293 217.6 295.8 216.2 303.8 211.7 306.1 210.9 308.3 210.6 311.7 211.4 327.7 218.7 339.6 222.4" stroke="#8A2E96"/>
<path d="M44 234.5 58.8 233.5 61.1 232.4 63.3 230.1 65.6 226.7 66.2 225.4 69.6 208.6 71.9 201.1 73 198.8 73.6 198.5 74.7 199 77 201.2 78.7 203.4 81 207.1 84.4 213.5 88.3 224.6 89.5 226.8 90 227.4 91.2 227.6 94 227.2 96.3 226.5 96.9 225.4 97.4 220.2 100.3 172.7 100.8 168.5 101.4 168.2 102 168.7M103.1 169.9 105.4 169.6 107.7 168.8 123 160.2 125.3 159.4 127 159.2M129.3 160.4 132.7 163.3 133.8 163.8 135 163.9 136.1 163.5 137.8 162.3 142.9 157 145.2 155.4 146.3 155.1 148 155.1 153.1 156.1M156 157.4 162.2 163.4 163.9 164.3 165.1 164.5 166.8 164.3 168.5 163.6 174.7 160.1 177 159.1 179.3 158.7 180.4 159.1 182.1 160.9 184.4 165.1 186.1 174.9M200.3 223 204.9 221.8 206.6 220.5 208.9 217.6 213.4 210.4 215.7 207.9 220.8 205.2 225.3 203.6 228.2 203.2 231.6 203.3 241.8 205.3 245.2 206.5 248.1 208.2 249.8 210.7M274.2 226.8 278.8 224.1M281 223 293 220 295.8 218.8 303.8 214.8 306.1 214 308.3 213.7 311.7 214.4 327.7 221 339.6 224.3" stroke="#72B030"/>
<path d="M44 227.2 57.1 225.3 62.2 224.2 65 223.1 66.7 221.7 69.6 217 71.9 214.5 73 213.8 79.2 214 90.6 215.1 94.6 214.6 96.3 214.1 96.9 213.5 98 203.9 100.3 173.6 100.8 169.7 101.4 169.1 102 169.5M103.1 170.5 105.4 170.2 107.7 169.4 123 161.5 125.3 160.7 127 160.6M129.3 161.8 132.7 164.7 133.8 165.3 135 165.4 136.1 165 137.8 163.9 142.9 158.9 145.2 157.4 146.3 157.1 148 157.1 153.1 158.1M156 159.5 162.2 165.3 163.9 166.2 165.1 166.4 168.5 165.5 174.7 162.1 177 161.1 179.3 160.7 180.4 161.1 182.1 162.9 184.4 166.9 186.1 176.5M200.3 223 204.9 220.2 206.6 218.5 212.8 208.4 215.1 205.5 220.2 202.3 224.8 200.4 227.6 199.9 231 199.9 235 200.5 241.3 202 244.7 203.2 247.5 204.9 248.6 205.9 249.8 208M274.2 227.7 278.8 225.2M281 224.2 293 221.4 303.8 216.6 306.1 215.9 308.3 215.6 311.7 216.2 327.7 222.3 339.6 225.3" stroke="#3CB8EC"/>
<path d="M44 230.5 53.1 229.8 58.8 228.9 61.1 227.7 63.3 225.5 65 223.1 66.2 220.9 69.6 204.3 71.9 196.9 73 194.6 73.6 194.3 74.7 194.8 77 197.2 78.7 199.6 81 203.7 84.4 210.7 88.3 222.8 89.5 225.3 90 226 91.2 226.2 94 225.8 96.3 225.1 96.9 224.1 97.4 219.4 100.3 175.6 100.8 171.6 101.4 171.3 102 172.1M103.1 173.6 105.4 173.4 107.7 172.5 123 163.4 125.3 162.5 127 162.4M129.3 163.4 132.7 165.9 133.8 166.4 135 166.5 136.1 166.1 137.8 164.8 142.9 159.4 145.2 157.7 146.3 157.4 148 157.4 153.1 158.1M156 159.4 162.2 165.2 163.9 166.1 165.1 166.3 168.5 165.5 174.7 162 177 161 179.3 160.7 180.4 161.1 182.1 162.9 184.4 166.9 186.1 176.5M200.3 223.8 204.9 223 206.6 222 208.9 219.3 213.4 212.4 215.7 210.1 220.8 207.6 225.3 206.1 228.2 205.7 231.6 205.8 241.8 207.6 245.2 208.8 248.1 210.4 249.8 212.7M274.2 229.8 278.8 227.8M281 227 293 224.7 303.8 220.7 308.3 219.9 311.7 220.4 327.7 225.4 339.6 227.9" stroke="#C0163A"/>
<path d="M44 235.1 58.8 234.3 60.5 233.5 62.8 231.3 65 227.8 66.2 225.3 69.6 206.7 71.9 198.4 73 195.8 73.6 195.5 74.7 196 77 198.3 78.7 200.6 81 204.4 84.4 211 88.3 222.5 89.5 224.9 90 225.5 91.2 225.7 93.5 225.3 95.7 224.6 96.3 223.6 96.9 219.1 99.7 177.4 100.3 173.6 100.8 173.4 102 175.8M103.1 177.9 105.4 177.6 107.7 176.4 116.8 169.9 123 164.9 125.3 163.8 127 163.6M129.3 164.3 133.2 166.3 134.4 166.5 135.5 166.3 137.8 164.6 142.9 158 145.2 155.9 146.9 155.5 153.1 155.8M156 156.8 162.2 162.9 163.9 164 165.1 164.2 166.8 163.9 168.5 163.3 174.7 159.7 177 158.7 179.3 158.3 180.4 158.7 182.1 160.6 184.4 164.7 186.1 174.6M200.3 222.8 204.9 221.4 206.6 220.1 208.9 217.1 213.4 209.8 215.7 207.3 220.8 204.6 225.3 202.9 228.2 202.5 231.6 202.6 241.8 204.6 245.2 205.9 248.1 207.6 249.8 210.1M274.2 227.7 278.8 225.2M281 224.2 293 221.3 303.8 216.5 306.1 215.8 308.3 215.5 311.7 216.2 327.7 222.2 339.6 225.3" stroke="#0A72C4"/>
<path d="M44 230.2 53.1 229.4 58.2 228.7 61.1 227.9 63.9 226.6 66.2 224.8 69.6 217.1 71.9 213.6 73 212.6 73.6 212.4 77 213.5 81 216 84.4 218.6 88.3 223.2 89.5 224.1 90.6 224.5 92.3 224.4 96.3 223.4 96.9 222.3 97.4 217.7 100.3 178.8 100.8 175.5 101.4 175.6 102 176.6M103.1 178.8 105.4 178.5 107.7 177.5 116.8 171.9 123 167.6 125.3 166.6 127 166.5M129.3 167.3 133.2 169.6 134.4 169.8 135.5 169.6 137.8 168 142.9 162.2 145.2 160.4 146.9 160.1 153.1 160.5M156 161.6 162.2 167.4 163.9 168.3 165.1 168.5 168.5 167.7 174.7 164.3 177 163.3 179.3 163 180.4 163.4 182.1 165.1 184.4 169 186.1 178.3M200.3 222.8 206 216.6 212.8 204.5 215.1 201.4 219.7 198.3 224.2 196.1 227.6 195.3 230.5 195.3 235 196 241.3 197.6 244.7 199.1 247.5 200.9 248.6 202.1 249.8 204.4M274.2 227.1 278.8 224.6M281 223.5 293 220.7 295.8 219.5 303.8 215.5 306.1 214.8 308.3 214.5 310 214.7 312.3 215.4 327.7 221.5 339.6 224.7" stroke="#E8561A"/>
<path d="M44 228.3 53.1 227.4 58.8 226.3 61.1 225 63.3 222.5 65 219.9 66.2 217.5 69.6 199.2 71.9 191.1 73 188.5 73.6 188.2 74.7 188.8 77 191.6 78.7 194.4 81 199.1 84.4 207.2 88.3 221.2 89.5 224.1 90 224.8 90.6 225 93.5 224.8 96.3 224 96.9 223.5 97.4 220 100.3 182.2 100.8 178.1 101.4 177.4 102 178.1M103.1 179.7 105.4 179.4 107.7 178.6 123 170.3 125.3 169.5 127 169.3M129.3 170.3 132.7 172.5 133.8 173 135 173 136.1 172.7 137.8 171.5 142.9 166.5 145.2 165 146.3 164.7 148 164.7 153.1 165.3M156 166.5 162.2 171.8 163.9 172.6 165.1 172.8 168.5 172 174.7 168.9 177 168 179.3 167.6 180.4 168 182.1 169.6 184.4 173.3 186.1 182M200.3 226 204.9 224.6 206.6 223.4 208.3 221.5 213.4 214.4 215.7 212.3 220.8 210.1 224.8 208.9 227.6 208.5 231 208.5 241.8 210.3 245.2 211.4 248.1 212.8 249.8 214.9M274.2 229.8 278.8 228M281 227.2 293 225 303.8 221.1 308.3 220.3 312.3 220.9 327.7 225.6 339.6 228" stroke="#F0AC1C"/>
<path d="M44 235 58.8 234.2 61.1 233.7 63.3 232.8 66.2 230.9 69.6 224.3 71.9 221.3 73 220.4 73.6 220.2 77 220.9 81 222.5 84.4 224.2 89.5 227.8 90.6 228 92.9 227.7 95.2 227 95.7 226.6 96.9 217.1 98.6 191.8 99.7 180.4 100.3 179.4 102 180.8M103.1 181.6 105.4 181.4 107.7 180.6 123 172.6 125.3 171.8 127 171.7M129.3 172.6 132.7 174.8 133.8 175.3 135 175.3 136.1 175 137.8 173.9 142.9 169.1 145.2 167.6 146.3 167.3 148 167.3 153.1 168M156 169.1 162.2 174.2 163.9 175 165.1 175.2 168.5 174.4 177 170.5 179.3 170.2 180.4 170.6 182.1 172.1 184.4 175.7 186.1 184M200.3 225.8 206 221 212.8 210.8 215.1 208.2 219.1 206 223.6 204.2 227 203.4 230.5 203.4 234.4 203.9 240.7 205.3 244.1 206.3 246.9 207.7 248.6 209 249.8 210.8M274.2 229.3 278.8 227.5M281 226.7 293.6 224.4 303.8 220.4 306.1 219.8 308.3 219.5 312.3 220.2 327.7 225 339.6 227.6" stroke="#8A2E96"/>
<path d="M44 231.1 53.7 230.4 58.8 229.6 61.1 228.4 63.3 226.1 65 223.7 66.2 221.5 69.6 204.7 71.9 197.2 73 194.9 73.6 194.6 74.7 194.9 77 196.4 81 200.6 84.4 205 88.3 212.8 89.5 214.3 90.6 214.9 92.3 214.8 97.4 213.8 98 212.9 98.6 209.8 100.8 187.8 101.4 183.7 102 181.6M103.1 184.5 103.7 184.7 104.8 184.5 107.7 183.5 116.8 178.4 123 174.5 125.3 173.7 127 173.5M129.3 174.3 133.2 176.3 134.4 176.5 135.5 176.4 137.8 174.9 142.9 169.7 145.2 168.1 146.9 167.7 153.1 168.2M156 169.1 162.2 174.3 163.9 175.2 165.1 175.3 168.5 174.6 177 170.7 179.3 170.4 180.4 170.7 182.1 172.3 184.4 175.8 186.1 184.2M200.3 226.5 204.9 224.4 206.6 223 212.8 214.6 215.1 212.2 219.7 210 224.2 208.5 227.6 207.9 231 208 241.3 209.7 244.7 210.7 247.5 212.1 248.6 212.9 249.8 214.5M274.2 228.3 278.8 226.3M281 225.5 293.6 222.8 303.8 218.4 306.1 217.8 308.3 217.5 312.3 218.2 327.7 223.6 339.6 226.3" stroke="#72B030"/>
<path d="M44 228.3 52.5 227.3 57.6 226.4 61.1 225.5 63.9 223.9 66.2 221.9 69.6 213 71.9 209 73 207.7 73.6 207.6 74.7 207.9 77 209.1 81 212.4 84.4 215.9 88.3 222.1 89.5 223.3 90.6 223.8 92.3 223.7 96.9 222.7 97.4 221.5 98 217.6 100.8 186 101.4 183.7 102 184.2M103.1 187.7 104.8 187.6 107.7 186.5 116.8 180.8 123 176.4 125.3 175.5 127 175.3M129.3 175.9 133.2 177.5 135.5 177.5 137.8 175.9 142.9 170.2 145.2 168.5 146.3 168.1 153.1 168.3M156 169.1 162.2 174.3 163.9 175.2 165.1 175.4 168.5 174.7 177 170.7 179.3 170.4 180.4 170.8 182.1 172.3 184.4 175.9 186.1 184.2M200.3 226.2 206 222.2 208.3 219.3 212.8 212.6 215.1 210.1 219.7 207.7 224.2 206.1 227.6 205.5 231 205.5 241.3 207.4 244.7 208.5 247.5 209.9 248.6 210.8 249.8 212.5M274.2 231.4 278.8 229.9M281 229.3 293.6 227.5 303.8 224.3 308.3 223.6 312.3 224.1 327.7 228 339.6 230" stroke="#3CB8EC"/>
<path d="M44 226.6 52.5 225.5 57.6 224.5 61.1 223.4 63.9 221.7 66.2 219.3 69.6 209.1 71.9 204.6 73 203.2 73.6 203 74.7 203.3 77 204.8 81 208.7 84.4 213 88.3 220.4 89.5 221.9 90.6 222.4 92.3 222.3 97.4 221.3 98 220.7 98.6 217.6 100.8 193.5 102 185.9M103.1 188.9 104.3 189.1 107.1 188.2 116.8 182.9 123 179 125.3 178.1 127 178M129.3 178.6 133.2 180.3 135.5 180.4 137.8 179 142.9 173.8 145.2 172.2 146.9 171.9 153.1 172.2M156 173 162.2 177.9 163.9 178.8 165.1 178.9 168.5 178.2 177 174.5 179.3 174.2 180.4 174.6 182.1 176 184.4 179.4 186.1 187.2M200.3 227 206 222 212.3 212.9 214.5 210.1 217.4 208.3 223.1 206 226.5 205.2 229.9 205.1 233.9 205.5 240.1 206.8 244.1 208 246.9 209.3 248.6 210.5 249.8 212.2M274.2 229.3 278.8 227.6M281 226.9 293.6 224.6 303.8 220.6 306.1 220 308.3 219.7 312.3 220.4 327.7 225.1 339.6 227.6" stroke="#C0163A"/>
<path d="M44 229 53.1 228 58.2 227.2 61.1 226.3 63.9 224.7 66.2 222.7 69.6 213.6 71.9 209.6 73 208.3 73.6 208.2 74.7 208.4 77 209.6 81 212.9 84.4 216.4 88.3 222.5 89.5 223.7 90.6 224.1 92.3 224 96.3 222.9 96.9 221 97.4 217 99.1 199.4 100.3 190.9 100.8 189.8 102 191.4M103.1 193.2 105.4 193 107.7 192.1 116.8 187.2 123 183.5 125.3 182.7 127 182.6M129.3 183.1 133.2 184.7 135.5 184.7 137.8 183.3 142.9 178.4 145.2 176.9 146.9 176.6 153.1 176.8M156 177.6 162.2 182.2 163.9 182.9 165.1 183.1 168.5 182.4 177 179 179.3 178.7 180.4 179 182.1 180.4 184.4 183.5 186.1 190.8M200.3 229.6 204.9 228.1 206.6 227 212.8 220 215.1 218.1 219.1 216.6 223.6 215.5 227 215 230.5 215 240.7 216.4 246.9 218.1 248.6 218.9 249.8 220.1M274.2 230.8 278.8 229.5M281 229 293.6 227.2 303.8 223.8 308.3 223.1 312.9 223.7 328.2 227.6 339.6 229.5" stroke="#0A72C4"/>
<path d="M44 230.6 53.1 229.9 58.8 229 61.6 227.9 63.9 226.4 66.2 224.1 69.6 213.9 71.9 209.3 73 207.9 74.7 207.8 79.8 209 84.4 210.7 88.3 212.9 90 213.4 92.9 213.2 95.7 212.4 96.3 211.7 96.9 209.8 99.7 195 100.3 193.9 100.8 194.1 102 196M103.1 197.6 105.4 197.4 107.7 196.6 116.8 191.7 123 188 125.3 187.2 127 187M129.3 187.5 133.2 188.7 135.5 188.7 137.8 187.4 142.9 182.5 145.2 181.1 146.3 180.8 153.1 180.8M156 181.5 162.2 185.8 163.9 186.5 165.1 186.7 168.5 186.1 177 182.8 179.3 182.6 180.4 182.9 182.1 184.2 184.4 187.1 186.1 193.8M200.3 231.2 204.9 230.1 206.6 229.2 212.8 223.1 215.1 221.4 218.5 220.4 223.1 219.4 227 219 230.5 218.9 240.1 220.1 246.9 221.6 248.6 222.3 249.8 223.3M274.2 232.3 278.8 231.5M281 231.1 293.6 229.7 303.8 226.9 308.3 226.3 312.9 226.8 328.2 229.9 339.6 231.4" stroke="#E8561A"/>
<path d="M44 230.8 53.1 230 58.2 229.3 61.1 228.5 63.9 227 66.2 225.1 69.6 216.7 71.9 212.9 73 211.8 73.6 211.6 74.7 211.9 77 213 81 216 84.4 219.3 88.3 224.9 89.5 226.1 90.6 226.5 91.8 226.4 95.7 225.4 96.3 224.2 96.9 221.2 99.7 199.4 100.3 198 102 198.9M103.1 199.5 105.4 199.3 107.7 198.8 123 193.3 127 192.7M129.3 193.4 132.7 194.9 135 195.2 137.8 194.2 142.9 190.9 145.2 189.9 148 189.7 153.1 190.2M156 191 162.2 194.5 165.1 195.2 168.5 194.7 177 192 179.3 191.7 180.4 192 182.1 193.1 184.4 195.5 186.1 201.1M200.3 233.3 204.9 232.5 206.6 231.7 212.8 226.1 215.1 224.6 220.2 223.6 227 223 232.7 223.2 245.2 224.9 248.1 225.6 249.8 226.6M274.2 234.4 278.8 234.2M281 234.1 293.6 233.4 304.4 231.3 308.3 230.9 317.4 231.6 327.7 233.1 339.6 234.1" stroke="#F0AC1C"/>
<path d="M44 231.7 53.1 231 58.8 230.3 61.1 229.4 63.3 227.7 65 226 66.2 224.3 69.6 212.1 71.9 206.6 73 204.9 73.6 204.7 74.7 205 77 206.2 81 209.8 84.4 213.6 88.3 220.2 89.5 221.5 90.6 222 92.3 221.9 97.4 220.9 98 220.3 98.6 218.5 100.8 205.9 102 202.3M103.1 204.8 104.8 204.9 107.7 204.1 123 197.4 125.3 196.8 127 196.7M129.3 197.1 133.2 198.2 135.5 198.1 137.8 197.1 142.9 193.3 145.2 192.2 146.3 191.9 153.1 192M156 192.6 162.2 196.1 165.1 196.8 168.5 196.3 177 193.7 179.3 193.5 180.4 193.7 182.1 194.7 184.4 197.1 186.1 202.5M200.3 233.4 204.9 232.6 206 232.1 208.3 230.4 214 225 215.7 224.1 219.1 223.5 226.5 222.8 232.2 222.9 245.2 224.8 248.1 225.5 249.8 226.4M274.2 233.7 278.8 233.6M281 233.6 293.6 232.8 304.4 230.5 308.3 230.1 317.4 230.8 327.7 232.4 339.6 233.5" stroke="#8A2E96"/>
<path d="M44 227.9 58.8 227.9 59.9 227.7 62.8 226 69.6 219.9 71.3 219 73 218.7 74.7 219 77 220.1 86.1 226.8 88.3 227.7 90 227.9 91.8 227.2 92.9 226 94.6 223 95.7 220.2 96.9 216.6 97.4 207.9 99.7 109.4 102 73.2M103.1 61.2 104.3 53.6 104.8 51.7 106 50.3 107.7 49 113.4 46.7 119.6 44.9 125.3 44.3 127 45.1M129.3 47.6 131 51.4 131.5 52.1 133.2 51.7 135 50.8 141.8 44.7 144.6 43.1 146.9 43 149.2 43.6 151.4 44.7 153.1 46M156 62.4 156.6 64.4 159.4 68.7 161.7 71 163.9 72.2 165.1 72.3 166.8 72 173.6 68.4 174.7 68.2 175.9 68.6 177.6 71 182.7 81.8 185 88 186.1 92.7M200.3 181.9 201.5 181.6 203.2 179.3 206.6 172.3 210.6 165.1 217.9 149.5 221.4 143.1 224.2 139 227 136.5 228.8 136 232.2 136.5 235 137.9 237.8 140 240.7 142.8 243.5 146.3 246.4 150.4 249.8 156M274.2 207.7 276.5 204.7 278.8 202.4M281 200.4 291.3 190.9 297.5 186 300.4 184.3 303.2 182.9 306.1 182.2 308.3 182 312.3 182.2 316.3 183 320.3 184.2 324.3 186.1 328.2 188.6 332.2 191.7 336.2 195.4 339.6 199.2" stroke="#C0163A"/>
<path d="M44 228.1 50.3 225.1 54.8 222.1 58.8 218.5 61.1 215 63.3 209.8 70.1 192.3 72.4 187.9 78.7 177.4 82.7 168.9 87.2 157.3 98.6 125.8 102 117M103.1 114.3 108.8 100.1 115.1 82 117.9 74.6 123.6 62.5 125.3 59.7 127 57.6M129.3 55.8 132.7 52.7 141.2 43.3 145.2 39.5 149.2 36.9 151.4 36.1 153.1 36.1M156 37.7 160.5 39.7 163.4 39.8 166.2 38.8 173 35.1 178.7 33 181.6 32.6 182.1 32.9 183.3 34.3 186.1 39.3M200.3 79.5 202 79 204.3 77.4 213.4 67.1 221.9 59.2 224.2 57.6 225.9 56.9 228.2 56.9 229.9 57.9 236.7 65.8 239 67.5 240.1 67.7 241.8 67.6 249.8 66.4M274.2 111.2 274.8 111 275.9 109.4 278.8 102.1M281 98.2 282.2 98.2 283.9 99.5 289.6 107.4 290.7 108.5 291.8 109 293.6 109 295.8 108.1 303.2 103 305.5 101.7 307.8 101.1 308.9 101.2 310 102.6 311.2 105 315.7 117.3 316.9 119.2 319.1 121.7 322 124.3 324.3 125.8 326.5 126.8 331.1 127.9 333.3 128.8 336.2 130.5 339.6 133.3" stroke="#72B030"/>
<path d="M44 230 54.2 228.7 58.8 227.9 59.9 227.3 62.8 224.1 69 214.5 70.7 212.7 72.4 211.9 74.1 212.1 76.4 213.4 78.7 215.6 84.9 222.9 86.6 224.3 88.3 225.3 90 225.6 91.2 225 92.3 223.4 93.5 220.7 95.2 214.5 96.9 205.3 97.4 194.4 100.3 81.5 102 65.1M103.1 59.4 103.7 58.1 104.3 57.8 107.1 57.2 113.4 56.7 117.3 57.1 121.3 58.6 125.3 61.1 125.9 61.8 127 64.6M129.3 70.1 130.4 72 131 72.3 132.7 72 135 70.6 140.6 65.9 142.3 65 144 64.8 147.5 65.7 150.9 67.8 152 69.1 153.1 71.4M156 90 157.7 95.5 160.5 101.8 162.8 105 163.9 105.8 165.1 106.1 166.8 105.3 168.5 103.4 174.2 93 176.5 89.6 178.2 88 179.3 87.7 179.9 87.9 181 89.2 182.1 91.5 186.1 103.3M200.3 204.9 202 204.6 203.7 203.7 207.1 200.1 210.6 195 220.8 177.3 224.2 173 227 170.9 228.8 170.5 231.6 170.7 234.4 171.3 237.8 172.6 243.5 176 249.8 181.6M274.2 226.1 278.8 223.1M281 221.6 291.3 214.2 297 210.6 302.1 208.4 307.2 207.3 315.2 207.7 323.7 209.5 331.6 212.5 339.6 216.9" stroke="#72B030"/>
<path d="M44 232.3 53.7 231.1 58.8 230.2 59.9 229.7 62.8 226.9 69 218.7 70.7 217.2 72.4 216.4 74.7 216.8 77 218.2 84.4 225.1 87.8 227.4 89.5 227.9 90.6 227.6 92.3 225 94 219.8 95.7 211.9 96.9 205.3 97.4 197.3 100.3 104.2 102 86.2M103.1 78.8 103.7 77 104.3 76.7 108.2 76.2 112.8 76 114.5 76.4 116.2 77.2 119.6 79.9 121.3 83.4 124.7 95.2 127 101.6M129.3 107.7 134.4 120.1 138.4 127.3 144 135.1 153.1 145.4M156 148.6 161.1 153.6 165.1 156.7 167.9 158.2 175.9 161.4 178.2 162.8 179.9 164.3 181 166.3 182.7 171.1 186.1 184.6M200.3 215.2 203.2 213.2 206.6 209.9 216.8 197.4 220.2 193.6 223.6 190.8 226.5 189.3 228.2 188.9 231 188.9 233.9 189.4 237.3 190.4 243.5 193.3 249.8 197.7M274.2 229.6 278.8 227.6M281 226.4 290.7 221.5 296.4 219 301.5 217.3 306.6 216.5 315.2 216.7 323.7 217.7 331.6 219.5 339.6 222.2" stroke="#72B030"/>
<path d="M44 212.1 48.5 208.6 52.5 205 55.9 201.3 58.8 197.8 61.6 192.8 68.4 177.7 72.4 170.8 73.6 169.5 74.1 169.3 75.3 169.6 78.7 172.2 79.8 172.7 88.9 173.9 91.2 173.9 91.8 173.3 92.9 167.9 96.9 136.3 99.7 122.9 102 114.7M103.1 111.7 106.5 104.4 110.5 97.6 113.9 92.7 127 75.6M129.3 73.6 136.7 68.5 142.9 65 148 63.2 153.1 62.5M156 62.5 157.1 62.5 158.3 63.1 162.8 67.2 163.9 67.9 165.1 68.2 167.4 67.4 173 63 174.7 62.5 176.5 62.8 178.7 64.3 181 66.8 185 72.5 186.1 75M200.3 131.4 202.6 130.4 205.4 127.4 212.8 115.6 216.8 110 221.9 101.7 224.2 98.8 226.5 97.1 228.2 97 229.9 97.6 232.2 99.2 238.4 104.7 240.7 105.9 246.9 108.5 249.8 110.4M274.2 147.5 274.8 146.9 275.4 145.1 277.6 134.3 278.2 132.8 278.8 132.7M281 139.8 284.5 145.5 287.3 149.2 290.1 151.7 292.4 152.5 294.1 152.3 296.4 150.9 303.2 143.6 305.5 141.6 307.2 140.8 308.9 140.8 310.6 143 315.2 154.1 316.9 156.7 320.3 159 324.8 161.2 333.3 164 339.6 165.5" stroke="#0A72C4"/>
<path d="M44 225 48.5 223.8 53.1 222 58.2 219 59.3 217.6 61.1 211.3 65.6 187.5 69 178.8 74.1 169.1 84.9 152.7 95.2 134.1 97.4 130.7 102 125.3M103.1 123.8 108.2 114.8 120.7 89 124.2 83.4 127 80M129.3 78.3 136.1 74.4 142.3 71.6 148 69.9 153.1 69.3M156 74.3 161.1 83.5 162.2 84.8 163.4 85.4 165.1 85 166.8 83.7 173.6 74.5 175.3 72.8 177 71.8 178.7 71.8 181 73.5 185 78.7 186.1 80.9M200.3 131.4 204.9 131.3 208.3 130.6 212.3 129.1 221.9 124.8 227 123.5 229.3 123.4 231 123.7 238.4 127.4 241.3 128.2 243.5 127.8 248.1 125.8 249.8 125.4M274.2 177.9 276.5 172.5 277.6 170.9 278.8 170.5M281 171.2 283.3 172.9 289 178.1 290.7 179.1 292.4 179.6 296.4 179 303.8 176 307.2 175.1 312.9 175.4 319.1 176.8 324.3 178.9 329.4 181.9 334.5 185.7 339.6 190.5" stroke="#0A72C4"/>
<path d="M44 227.4 50.3 226.1 57.1 223.9 59.9 222.6 62.2 220.7 66.7 214.7 77.5 197.4 81.5 190.7 84.9 184.1 90 171.7 92.9 163 94.6 156.8 96.3 146.1 100.3 113.4 102 103.5M103.1 100.2 106 93.8 108.8 88.6 111.6 85 113.9 83.4 116.2 83.2 119 84.4 121.9 86.5 127 91.2M129.3 93 132.1 94.4 133.8 94.6 135 94.3 137.2 92.7 142.9 87.2 144.6 86.3 145.8 86.1 147.5 86.7 149.2 88.1 153.1 93.3M156 97.3 158.8 100.4 160.5 101.4 161.7 101.5 164.5 100.9 171.9 97.3 173.6 96.9 174.7 97.1 175.9 98.2 177 100 182.1 111.1 183.3 112.8 186.1 115.7M200.3 124.5 202.6 123.6 205.4 120.9 221.9 98.7 224.2 96.2 225.9 95 227.6 94.6 229.3 95 231.6 96.3 236.1 99.9 238.4 101.3 241.3 102.3 246.9 103.6 249.8 104.8M274.2 137.6 278.8 138.4M281 139.7 289 144.5 291.3 145.2 293.6 145.3 295.3 144.5 297 143 304.9 133.7 307.2 132.3 308.9 132.2 310 133.2 311.2 135.1 315.7 145.7 318 149.5 322 152.3 331.1 156.7 335.1 159.5 339.6 163.3" stroke="#E8561A"/>
<path d="M44 227.7 51.4 226.9 58.8 225.6 60.5 224.9 62.8 223.4 67.3 218.8 74.7 209.4 78.7 203.8 82.7 197.3 86.1 190.8 88.9 184.5 92.3 175.6 94.6 168.7 96.3 160 100.3 134.4 102 126.3M103.1 123.3 106 117 108.8 111.8 111.1 108.7 113.4 106.7 115.6 106.1 118.5 106.7 121.3 107.8 127 111M129.3 112.1 132.7 113 135 112.7 137.2 111.5 142.9 107 144.6 106.2 145.8 106.1 147.5 106.6 149.2 107.9 153.1 112.5M156 116.1 157.7 117.9 159.4 119.3 161.1 119.9 162.2 119.8 165.1 118.5 171.3 113.9 173 113.2 174.7 113.1 175.9 113.7 177.6 115.5 186.1 128.5M200.3 147.5 202 147.1 203.7 146.1 207.1 142.8 216.2 131.7 223.1 120.9 224.8 119 226.5 117.8 228.2 117.7 229.9 118.3 236.1 123.1 238.4 124.4 249.8 126.7M274.2 168.2 276.5 164.8 277.6 163.8 278.8 163.6M281 163.9 289.6 167.6 291.8 168.1 293.6 168.1 295.3 167.4 297 166.1 304.9 158.1 307.2 156.9 308.9 156.8 310.6 158.7 315.2 168.2 316.9 170.5 323.1 175 328.8 178.3 334.5 180.6 339.6 181.8" stroke="#F0AC1C"/>
<path d="M44 227.4 82.1 224.5 91.2 223.3 92.9 222.3 97.4 216.9 98.6 216.3 102 215.4M103.1 215.2 108.2 214.6 127 214.2M129.3 214.2 153.1 214.5M156 214.6 173.6 215.2 186.1 215.2M200.3 214.7 224.8 214.2 249.8 215.8M274.2 216.3 278.8 216.1M281 216 308.9 215.3 323.7 215.5 339.6 216.3" stroke="#3CB8EC"/>
<path d="M44 231.7 53.7 230.7 62.2 230.3 94 230.2 94.6 229.9 95.2 229 98 221.5 102 217.2M103.1 216.4 105.4 215.3 112.2 213.6 119 212.5 127 211.6M129.3 211.4 153.1 209M156 208.8 170.8 207.7 186.1 207M200.3 206.4 224.2 206.1 249.8 206.9M274.2 206.9 278.8 206.6M281 206.4 295.8 205.3 305.5 204.9 323.1 205.1 339.6 205.9" stroke="#8A2E96"/>
<path d="M44 215.1 54.8 213.3 65 211.9 86.1 210.5 93.5 209.6 95.7 208.9 99.7 206.5 102 206M103.1 205.9 127 205.2M129.3 205.2 153.1 203.9M156 203.7 172.5 202.8 186.1 202.7M200.3 203.3 225.9 205.4 249.8 209.5M274.2 213.9 278.8 214.1M281 214.1 314 214.2 325.4 214.9 339.6 216.1" stroke="#F0AC1C"/>
<path d="M44 233.4 54.8 231.4 63.9 230.3 102 228.7M103.1 228.7 108.8 228.6 112.8 229 123 231.5 127 232.8M129.3 233.7 133.2 235 136.1 235.5 153.1 235.7M156 235.7 186.1 235.8M200.3 235.9 249.8 236.4M274.2 236.6 278.8 236.6M281 236.7 339.6 237.1" stroke="#C0163A"/>
<path d="M44 234 55.4 232.9 65 232.5 94.6 232.5 98 232.9 102 233.7M103.1 233.9 108.2 234.8 127 236.3M129.3 236.4 153.1 236.8M156 236.8 186.1 237M200.3 237.1 249.8 237.4M274.2 237.5 278.8 237.6M281 237.6 339.6 238" stroke="#8A2E96"/>
<path d="M44 187.3 49.1 192.8 50.8 194.3 52.5 195.3 54.2 195.7 61.6 195.7 62.8 195.1 64.5 192.5 69 182.1 70.7 179 72.4 177.4 73.6 177.5 75.3 178.7 77.5 181.7 83.8 193.7 86.1 197.5 88.3 199.8 89.5 200.3 90.6 200 91.8 198.6 92.9 196.4 94.6 191.5 95.7 183.5 99.1 149.9 100.3 143.4 102 139.7M103.1 137.7 104.8 135.4 106.5 133.7 110.5 131.4 117.9 128.6 127 126.3M129.3 125.9 146.3 122.6 150.9 122.2 153.1 122.5M156 123.6 161.1 125.9 164.5 126.8 168.5 126.5 176.5 124.7 179.9 124.6 181 125.2 182.7 127 186.1 132.8M200.3 167.3 208.9 152.2 215.1 138.9 217.4 134.7 222.5 128.5 225.9 125.5 227.6 124.7 228.8 124.5 230.5 124.7 232.2 125.3 245.2 132.4 249.8 135.6M274.2 155.3 277.1 159.6 278.8 161.5M281 163.8 285 167.8 287.9 170.3 290.7 171.8 293 172.2 294.7 171.8 297 170.5 304.9 164 307.2 163 308.9 163 310 164 311.2 165.8 315.7 175.4 316.9 176.9 318.6 178.5 322 181.1 326.5 183.8 333.9 187.6 339.6 190" stroke="#C0163A"/></g>
<g class="l"><path d="M445.5 217.6 454 215.7 460.9 213.6 466.5 211.1 470.5 208.3 473.4 205.1 476.8 199.8 487 180.6 490.4 174.8 493.8 170.2 496.7 167.6 500.1 166 504.1 164.6 517.2 161.2 531.4 158.5 549 156.1 553.5 156.3 561.5 158.7 564.9 159.3 568.9 159 577.4 157.8 580.3 157.8 582.5 159.5 587.7 165.3 589.9 166.7 596.8 169.7 604.2 175.7 605.9 176.7 607.6 177.2 609.3 177.1 611.6 176.1 618.4 171.3 626.3 166.5 629.2 165.7 632 166.1 645.7 170.7 649.7 172.4 651.9 174 656.5 179.3 657.6 180.1 660.5 181.3 661.6 181.5 669.6 181.5 679.8 180.9 682.6 182.2 690 187.8 692.9 188.8 696.9 188.5 705.9 186.7 709.4 186.5 711.6 187.6 716.8 191.9 723.6 195.6 731 198.8 739.5 201.6" stroke="#0A72C4"/>
<path d="M445.5 223.1 455.2 221.6 459.1 220.6 460.3 220 463.1 217.1 470 207.7 471.7 206.2 473.4 205.4 475.1 205.4 476.8 205.8 488.7 210.1 491 210.4 491.6 210 493.3 206.4 494.4 200.3 499 159.5 500.1 155.1 501.8 153.5 504.1 152.1 506.3 151.1 518.9 147.3 530.2 144.9 548.4 142 551.3 141.9 553.5 142.2 561.5 145 564.4 145.6 567.8 145.5 576.3 144 579.7 143.8 581.4 144.3 583.1 145.7 586.5 150.4 588.2 153.4 588.8 154.9 590.5 163 594.5 187.8 595.6 192.1 596.2 193.2 596.8 193.5 599 193 601.3 191.7 604.2 189.3 608.7 184.7 611 181.2 616.7 170.5 618.9 167.5 622.4 164.8 625.2 163 627.5 162.1 629.7 161.9 633.7 162.8 645.7 167.1 649.1 168.6 651.9 170.6 657 176.6 661 178.4 670.1 178.4 676.9 176.3 679.8 176.1 682.6 177.4 690 183.6 691.7 184.4 693.4 184.6 695.1 184.3 697.4 183.3 705.4 178.5 707.7 177.7 709.4 177.8 710.5 178.6 711.6 180 716.2 187.2 718.5 189.2 721.9 191.3 726.4 193.5 733.8 196.6 739.5 198.5" stroke="#3CB8EC"/>
<path d="M445.5 220.8 455.2 219 459.1 217.9 460.3 217.2 463.1 213.8 470 203 471.7 201.2 473.4 200.3 475.1 200.3 476.8 200.8 488.7 205.8 491 206.1 491.6 205.6 493.3 201.6 494.4 197 497.8 177 499 171.7 500.1 168.9 502.4 167.3 505.2 166 509.2 164.8 520 162.2 531.9 160.2 549 158 553.5 158.1 561.5 160.5 564.4 161 567.8 160.9 576.3 159.7 579.7 159.5 581.4 159.9 583.1 161.1 586.5 165 588.8 168.7 590.5 175.2 594.5 194.8 595.6 198.2 596.2 199.1 596.8 199.3 597.9 199 599 198.3 601.9 194.9 609.8 182.3 615.5 172.3 618.4 168.4 622.4 165.2 625.2 163.4 627.5 162.5 629.7 162.3 633.7 163.1 645.7 167.4 649.7 169.3 651.9 170.9 656.5 176.4 657.6 177.3 659.9 178.4 661.6 178.8 669.6 178.9 671.8 179.6 686.6 189.4 690 191.2 692.3 191.7 694.6 191.7 705.9 190 708.8 189.8 709.9 190 712.2 191.2 716.8 194.7 723.6 198.2 731 201.2 739.5 203.8" stroke="#0A72C4"/>
<path d="M445.5 217.5 454.6 215.4 462 213 467.7 210.2 469.4 209.1 471.1 207.5 473.9 203.7 476.8 198.8 487 177.6 490.4 171.2 493.8 166.1 496.7 163.3 499.5 161.8 503.5 160.2 516.6 156.6 530.2 153.8 547.9 151.2 551.3 151 553.5 151.3 561.5 153.8 564.4 154.4 568.3 154.2 579.1 152.7 580.8 152.9 582.5 154 586 157.9 588.2 161.4 588.8 162.7 590.5 169.5 594.5 189.7 595.6 193.2 596.2 194.1 596.8 194.3 597.9 193.9 599 193 601.3 189.7 615 163.6 617.8 159.1 620.6 156.2 624.6 153 626.9 151.8 629.2 151.3 631.5 151.6 633.7 152.3 645.7 157.3 649.1 159 650.8 160.1 651.9 161.3 656.5 167.6 657.6 168.5 659.9 169.8 661.6 170.3 669.6 170.3 676.9 169.1 679.8 169.1 682.6 170.6 689.5 177 692.3 178.5 694 178.5 695.7 178 698 176.7 705.4 171.3 707.7 170.4 709.4 170.4 710.5 171.4 711.6 173 716.2 181.4 718.5 183.7 721.9 186 725.9 188.2 733.2 191.7 739.5 194" stroke="#3CB8EC"/>
<path d="M445.5 227.3 455.2 226.3 460.3 225.1 463.1 223.1 470 216.5 471.7 215.4 473.4 214.8 476.8 215.1 488.7 218.2 491 218.4 491.6 218.1 493.3 215.6 494.4 211.7 499 187.4 500.1 184.8 501.8 183.8 506.3 182.3 518.9 179.9 530.2 178.3 548.4 176.5 553.5 176.6 564.4 178.7 568.3 178.7 579.1 177.6 580.8 177.8 582.5 178.5 586 181.3 588.8 184.6 590.5 189.2 594.5 202.7 595.6 205 596.2 205.6 596.8 205.8 597.9 205.6 599.6 204.8 602.5 202.6 609.3 195.7 615.5 188.1 618.4 185.3 625.2 181.5 627.5 180.8 629.7 180.6 633.7 181.3 645.7 184.5 649.7 185.9 651.9 187.2 656.5 191.3 659.3 192.6 661.6 193.1 669.6 193.2 672.4 193.7 680.4 196.6 687.8 200.4 690.6 201.5 692.9 201.9 695.1 201.8 705.4 200.3 709.4 200.1 711.6 200.9 716.8 204.1 723 206.7 730.4 209 739.5 211.2" stroke="#0A72C4"/>
<path d="M445.5 220.5 455.2 218.8 459.1 217.6 460.3 216.9 463.1 213.5 470 202.6 471.7 200.7 473.4 199.8 476.2 200.1 481.3 202.1 487.6 205 491 205.7 492.1 204 493.8 199.7 497.8 185.6 499 182.4 500.1 180.6 502.4 179.3 505.2 178.3 509.2 177.2 520 175.1 531.9 173.4 549 171.6 553.5 171.7 561.5 173.6 564.9 174.1 568.9 173.9 577.4 172.9 580.3 172.9 582.5 174.3 587.7 179 596.8 182.6 599 184 604.2 188 605.9 189 607.6 189.5 609.3 189.4 611.6 188.6 624.6 181.6 626.9 180.7 629.2 180.3 633.7 181 649.1 185.4 651.9 186.9 657 191.5 661 192.9 670.1 192.8 671.8 192.2 676.9 189.5 679.2 189.1 680.9 189.4 682.6 190.2 690 195 691.7 195.7 693.4 195.9 695.1 195.6 697.4 194.7 705.4 190.2 708.8 189.5 709.9 189.9 711.1 190.9 715.6 197.2 716.8 198.4 718.5 199.5 721.9 201.2 725.9 202.7 733.2 205.1 739.5 206.8" stroke="#8A2E96"/>
<path d="M445.5 224.3 455.2 222.8 463.1 221 468.8 219 471.1 217.3 473.9 213.8 477.3 207.8 487 186.7 490.4 179.9 493.8 174.7 496.7 171.9 499.5 170.5 503.5 169.1 517.2 165.9 531.4 163.3 549 161.1 553.5 161.2 561.5 163.5 564.4 164 568.3 163.9 579.1 162.5 580.8 162.7 582.5 163.7 585.4 166.5 588.8 171.2 590.5 176.4 594.5 191.4 595.6 194 596.2 194.6 596.8 194.8 598.5 194.4 600.2 193.5 604.2 189.9 609.3 184.6 616.1 175 618.9 172 622.9 169.2 625.8 167.6 628 166.8 630.3 166.7 633.7 167.5 645.7 171.6 649.7 173.3 651.9 174.9 656.5 180 659.9 181.9 661.6 182.3 669 182.3 670.1 182.5 672.4 184.3 676.9 189.7 678.7 191.3 684.9 195.2 688.9 197.1 691.7 197.8 694.6 197.8 697.4 197.3 705.4 194.8 709.4 194.4 711.6 195.7 716.8 200.4 720.2 202.1 728.7 205.3 739.5 208.3" stroke="#0A72C4"/>
<path d="M445.5 220.3 455.2 218.5 459.1 217.3 460.3 216.6 463.1 213.2 470 202.1 471.7 200.2 473.4 199.2 476.2 199.6 481.3 201.6 487.6 204.5 491 205.2 492.1 203.6 493.8 198.9 497.8 180 499 175.8 500.1 173.4 502.4 171.9 505.2 170.7 509.2 169.6 520 167.2 531.9 165.3 549 163.2 553.5 163.4 561.5 165.5 564.4 166 568.3 165.9 578.6 164.6 580.3 164.7 582 165.4 585.4 168.5 588.8 173.1 590.5 177.8 594.5 191.5 595.6 193.8 596.2 194.4 596.8 194.5 605.9 194.1 608.1 193.9 609.3 193.5 611.6 191.6 616.7 184.9 618.9 182.7 625.8 179 628 178.4 630.3 178.3 633.7 179 645.7 182.4 649.7 183.8 651.9 185.1 657 189.8 661 191.3 670.1 191.2 671.8 190.6 676.9 187.9 679.2 187.6 680.9 187.9 682.6 188.7 690 193.7 691.7 194.4 693.4 194.5 697.4 193.6 705.4 190 707.7 189.5 709.4 189.5 711.6 191.2 716.2 196.7 719 198.6 727 202 739.5 205.8" stroke="#3CB8EC"/>
<path d="M445.5 209.2 455.2 206.3 459.1 204.3 460.3 203.1 463.1 197.5 470 179.2 471.7 176.2 473.4 174.6 474.5 174.6 476.2 175.2 481.3 178.5 487.6 183.3 489.3 184.2 491 184.5 491.6 183.5 496.7 165.2 498.4 160.1 500.1 157 502.9 154.8 505.8 153.4 509.8 152 520.6 149 531.9 146.8 549 144.2 553.5 144.3 561.5 147.1 564.4 147.7 568.3 147.5 578.6 145.9 580.3 146 582 146.9 584.8 150 588.8 156.5 590.5 162.1 594.5 178.1 595.6 180.8 596.2 181.5 596.8 181.7 599 181.4 601.9 180.4 608.7 176.4 611 173.8 616.7 164.9 618.9 162.2 625.2 157.4 627.5 156.4 629.7 156.1 633.7 157.1 645.7 161.7 649.1 163.4 650.8 164.4 651.9 165.5 657 172 661 173.9 669 174 670.1 173.8 671.8 172.5 676.4 167.3 677.5 166.4 678.7 165.9 680.4 166.2 682.1 167.2 689.5 174.3 691.2 175.4 692.9 175.9 694.6 175.8 696.9 175.1 705.9 170.5 707.7 170 709.4 170.1 710.5 170.8 711.6 172.2 716.2 179.1 719.6 182.1 723.6 184.7 728.1 187.2 734.4 190.1 739.5 192.1" stroke="#F0AC1C"/>
<path d="M445.5 210.5 456.3 207.1 459.7 205.6 463.1 203.6 472.8 196.7 489.3 182.2 493.3 179.4 497.2 177.3 505.2 174.7 518.3 171.9 531.9 169.7 549 167.7 553.5 167.9 561.5 169.9 564.4 170.4 568.3 170.3 578.6 169.1 580.3 169.1 582 169.8 584.8 172.1 588.8 176.9 589.9 179.4 594.5 191.9 595.6 193.8 596.8 194.4 599.6 193.6 603.6 190.7 609.3 185.6 616.1 177.6 618.9 175 625.2 171.1 627.5 170.2 629.2 170 631.5 170.2 633.7 170.8 645.7 174.6 649.1 176 651.9 177.8 657 183.1 659.9 184.5 661.6 184.8 669 184.9 670.1 184.4 671.8 182.2 676.4 173.6 677.5 172.1 678.7 171.4 680.4 171.6 682.1 172.5 689.5 179.1 691.2 180.1 692.9 180.6 694.6 180.4 696.3 179.7 704.8 173.7 707.1 172.6 708.8 172.3 709.9 172.9 711.1 174.2 715.6 182.5 716.8 184.1 718.5 185.5 721.9 187.8 725.9 189.9 733.2 193.2 739.5 195.6" stroke="#0A72C4"/>
<path d="M445.5 225.4 455.2 224.1 459.1 223.3 460.3 222.7 463.1 220.3 470 212.5 471.7 211.1 473.4 210.5 476.8 210.8 488.7 214.5 491 214.7 491.6 214.4 493.3 211.3 494.4 204.5 498.4 160.5 499.5 152.4 500.1 150.6 502.4 148.5 504.6 147.1 516 143.2 528.5 140.2 548.4 136.8 551.3 136.7 553.5 136.9 561.5 139.9 564.9 140.6 568.3 140.4 578 138.7 579.7 138.6 580.8 139.1 582.5 140.8 587.7 148.1 589.9 149.7 595.1 152.4 597.3 154.2 599.6 157.7 604.7 167.8 606.4 170 607.6 170.7 609.3 170.6 611.6 169.6 618.4 164.2 626.3 158.9 628.6 158.1 631.5 158.3 645.7 163.5 650.2 165.8 651.9 167.2 656.5 173 658.7 174.5 661.6 175.5 669.6 175.6 671.8 176.2 680.4 181.2 687.2 186.1 690 187.7 692.3 188.3 695.1 188.2 698 187.3 705.4 184.3 707.7 183.8 709.4 183.9 711.6 185.5 716.2 190.9 719.6 193.3 728.1 197.3 739.5 201.3" stroke="#3CB8EC"/>
<path d="M445.5 219.3 455.2 217.4 459.1 216.2 460.3 215.4 463.1 211.8 470 200 471.7 198 473.4 197 475.1 197.1 476.8 197.6 488.7 203 491 203.4 491.6 202.8 493.3 198.5 494.4 193.2 497.8 169 499 162.7 500.1 159.3 501.8 157.9 504.1 156.5 506.3 155.6 518.3 152.1 529.1 149.9 547.3 147 551.3 146.8 553.5 147.1 561.5 149.7 564.9 150.4 568.3 150.2 578 148.7 580.3 148.7 581.4 149.2 584.3 152 588.8 158.7 594.5 175.3 595.6 177.3 596.8 178 599 177.7 601.9 177 608.7 173.7 611 171.5 616.7 163.6 618.9 161.1 625.8 156 628 155.1 629.7 155 633.7 155.9 645.7 160.7 649.1 162.3 650.8 163.4 651.9 164.5 657 171.1 659.3 172.4 661 173 669 173.1 670.1 172.8 671.8 171 676.4 163.8 677.5 162.5 678.7 161.9 680.4 162.2 682.1 163.2 689.5 170.7 691.2 171.9 692.3 172.4 695.7 172.2 705.4 169.6 709.4 169.3 711.6 170.8 716.8 176.6 723 181.2 730.4 185.5 739.5 189.6" stroke="#0A72C4"/>
<path d="M445.5 226.9 456.3 225.5 464.8 223.9 469.4 222.4 471.7 220.2 474.5 215.4 477.3 208.7 487 180.1 490.4 170.8 493.8 163.7 495.5 161.2 496.7 160.1 499.5 158.4 502.9 157 516 153.2 529.7 150.2 546.7 147.5 550.7 147.2 553 147.4 562.1 150.3 564.9 150.8 568.3 150.6 578 149.1 580.3 149.1 581.4 149.6 584.3 152.4 588.8 159 593.4 171 595.1 174.8 596.2 176.2 599.6 177.3 605.3 178.2 608.1 178.3 609.3 178 611.6 176.1 616.7 169.3 618.9 166.9 625.8 162.2 628 161.3 630.3 161.3 633.7 162.1 645.7 166.5 649.1 168 651.9 170 657 176.1 659.9 177.6 661.6 178 669 178 670.1 177.7 671.8 176.2 676.4 170.2 677.5 169.2 678.7 168.7 680.4 168.9 682.1 169.8 689.5 176.7 691.2 177.8 692.9 178.3 694.6 178.1 696.9 177.2 703.7 172.6 705.9 171.4 707.7 170.8 709.4 170.9 710.5 171.8 711.6 173.3 716.2 181.2 719 183.8 722.4 186.1 727 188.5 733.8 191.7 739.5 193.8" stroke="#C0163A"/>
<path d="M445.5 222.1 455.2 220.5 459.1 219.4 460.3 218.8 463.1 215.7 470 205.8 471.7 204.1 473.4 203.3 475.1 203.3 476.8 203.8 488.7 208.3 491 208.6 491.6 208.2 493.3 204.5 494.4 199.8 497.8 178.6 499 173 500.1 170.1 501.8 168.8 506.3 166.9 518.9 163.7 529.7 161.8 547.9 159.4 551.3 159.3 553.5 159.5 561.5 161.8 564.9 162.3 568.3 162.2 578 160.9 580.3 160.9 581.4 161.3 583.7 163.2 588.2 168.6 589.9 171.5 594.5 181.2 595.6 182.6 596.8 183.1 599 182.7 601.3 181.6 608.7 176.4 617.8 166.9 624.1 162.3 626.3 161 628 160.4 629.7 160.3 631.5 160.5 645.1 165.4 649.7 167.5 651.9 169.2 656.5 174.8 657.6 175.7 659.9 176.8 661.6 177.3 670.7 177.4 675.2 178.6 680.4 180.5 688.9 186.6 692.3 187.9 696.3 187.7 706.5 185.8 708.8 185.7 709.9 185.9 712.2 187.3 716.8 191.1 723.6 194.9 731 198.1 739.5 201" stroke="#0A72C4"/>
<path d="M445.5 227.4 455.2 226.4 460.3 225.3 463.1 223.3 470 216.7 471.7 215.6 473.4 215.1 476.8 215.4 488.7 218.4 491 218.6 491.6 218.3 493.3 215.8 494.4 211.1 499 179.5 500.1 176.1 501.8 174.9 506.3 173.1 518.9 170.3 529.7 168.6 547.9 166.4 553.5 166.5 561.5 168.5 564.9 169 568.9 168.8 577.4 167.7 579.7 167.7 580.8 167.9 583.7 169.9 588.2 174.8 589.9 177.2 593.9 184.3 595.6 186.2 596.8 186.5 599 186.2 601.3 185.5 608.7 181.6 611 179.9 617.8 173.5 625.2 168.7 628.6 167.5 631.5 167.7 645.1 172.1 649.7 174 651.9 175.5 656.5 180.7 659.3 182.3 661.6 182.9 669 182.9 671.3 183.5 678.7 188.8 686.6 193.7 690.6 195.4 693.4 195.8 695.7 195.3 698 194.2 705.4 189.8 707.7 189.1 709.4 189.1 710.5 189.8 711.6 191.2 716.2 197.8 717.9 199.1 721.3 200.9 725.3 202.5 733.2 205.1 739.5 206.8" stroke="#3CB8EC"/>
<path d="M445.5 221.9 454.6 220.3 462 218.4 467.7 216.2 471.1 214 473.9 211 476.8 207 487 189.4 490.4 184.1 493.8 179.9 496.7 177.7 503.5 175.2 517.2 172.2 531.4 169.9 549 167.8 553.5 168 561.5 170 564.9 170.5 568.9 170.3 577.4 169.2 580.3 169.2 582 170.2 586.5 174.8 588.8 176.3 603.6 182.3 607.6 183.2 609.3 183 611.6 182.2 618.4 177.9 626.3 173.5 629.2 172.8 632 173.1 645.7 177.3 650.2 179.1 651.9 180.3 656.5 185 659.3 186.5 661.6 187.1 671.8 187.2 679.2 188.6 682.1 189.8 688.9 194.1 691.7 195.2 693.4 195.4 695.7 195.1 705.4 192 707.7 191.6 709.4 191.7 711.6 193 716.8 198 720.2 199.8 728.7 203.3 739.5 206.4" stroke="#E8561A"/>
<path d="M445.5 232.4 459.1 231.6 461.4 230.8 463.7 229.3 466.5 226.3 470 215.5 472.2 210.6 473.4 209 473.9 208.8 477.3 210 481.3 212.7 485.3 216.2 488.1 219.9 489.9 221.6 491 222 492.7 221.9 495 221.4 496.7 220.7 497.2 214.2 497.8 200.2 500.1 118.1 501.2 95.2 502.4 87.2 502.9 85.2 504.1 83.5 505.8 81.6 506.9 80.8 508.6 80.4 520 80.4 522.8 80.9 526.8 82.5 531.9 87 533.6 88 534.8 88.2 535.9 88.1 537.6 87.2 544.4 81.8 546.2 81.2 547.9 81.3 550.7 82.7 554.7 85.6 556.4 87.9 560.4 94.2 562.1 95.8 563.2 96.1 564.9 95.8 571.2 92.8 574 92.2 575.2 92.4 576.9 93.4 579.7 96.2 580.8 98.6 582 102.5 584.8 116.3 586 125.2 588.8 153.1 592.2 178.1 594.5 191.8 595.6 195.8 596.2 196.9 596.8 197.1 600.2 196.9 605.9 195.9 607 194.7 608.1 192.9 613.8 180.1 616.1 176.3 621.2 171.7 625.2 169.1 628.6 168.1 632.6 168.2 639.4 169.3 642.3 170.3 644.5 171.8 646.2 173.3 648.5 175.9 649.1 177 650.8 183 654.2 199.2 658.7 217.2 660.5 222.1 661.6 223.6 663.3 223.6 665 223 669.6 220.3 671.8 217.8 677.5 209.8 679.8 207.6 683.8 204.8 694 198.5 703.1 191.1 705.4 189.8 707.7 189 709.9 189.1 712.2 190.4 719 196.2 725.9 202.8 728.1 204.6 734.4 208.1 739.5 210.2" stroke="#E8561A"/>
<path d="M445.5 233 458 232.3 463.1 231.3 466.5 229.7 470 224.5 472.2 222.2 473.4 221.4 480.8 220.2 491 217.1 495.5 216 496.1 212.5 496.7 201 499 122.5 500.1 97.8 501.2 91.4 502.9 86.3 505.8 82.9 507.5 81.8 508.6 81.5 520 81.5 522.8 82 526.8 83.7 531.9 88.1 533.6 89.1 534.8 89.3 535.9 89.1 537.6 88.3 544.4 83 546.2 82.3 547.9 82.5 550.7 83.8 554.7 86.7 556.4 88.9 560.4 95.2 562.1 96.9 563.2 97.1 564.9 96.8 571.2 93.9 574 93.2 575.2 93.4 576.9 94.4 579.7 97.2 580.8 99.6 582 103.5 584.8 117.2 586 126 588.8 153.7 592.2 178.6 594.5 192.2 595.6 196.2 596.2 197.2 596.8 197.5 597.9 197.2 599.6 195.8 601.9 192.9 605.9 186.8 608.1 182 613.3 169.2 616.1 163.9 621.2 158.5 624.6 155.7 628 154.2 631.5 154.1 638.8 155.4 642.3 156.8 644.5 158.6 646.2 160.4 648.5 163.5 649.1 164.8 650.8 171.9 653.6 188.3 658.7 215 660.5 221.7 661.6 223.7 662.7 223.7 664.4 223 669.6 218.5 671.8 215.7 676.9 208 680.4 204.4 684.3 201.3 694 194.9 703.7 186.4 705.9 185.1 707.7 184.5 709.9 184.6 712.2 186 719 192.3 725.9 199.6 728.1 201.5 734.4 205.3 739.5 207.7" stroke="#E8561A"/>
<path d="M445.5 227.2 458.6 225.6 462 224.6 464.8 223.2 466.5 221.9 467.1 221 470 214.4 471.7 211.9 472.8 210.4 473.9 209.9 477.3 211.1 481.3 213.8 485.3 217.4 488.1 221.2 489.9 222.9 491 223.3 492.1 223.2 495.5 222.2 496.1 218.6 496.7 206.6 499 124.6 500.1 98.9 501.2 92.5 502.9 87.4 505.8 84 507.5 82.9 508.6 82.7 520 82.7 522.8 83.2 526.8 84.8 531.9 89.2 533.6 90.2 534.8 90.4 535.9 90.2 537.6 89.4 544.4 84.1 546.2 83.5 547.9 83.6 550.7 84.9 554.7 87.8 556.4 90 560.4 96.3 562.1 97.9 563.2 98.2 564.9 97.8 571.2 94.9 574 94.3 575.2 94.5 576.9 95.4 579.7 98.3 580.8 100.6 582 104.4 584.8 118.1 586 126.8 588.8 154.3 592.2 179.1 594.5 192.6 595.6 196.6 596.2 197.6 596.8 197.9 597.3 197.7 598.5 197 600.2 194.9 601.9 192 606.4 183.5 613.3 166.3 616.1 161 620.6 155.9 624.1 152.8 627.5 151 630.3 150.8 636 151.5 641.1 152.9 643.4 154.4 645.1 156.1 648.5 160.6 649.7 163.9 650.8 169.2 654.2 189.5 659.3 217.3 660.5 221.6 661.6 223.8 662.2 224 663.3 223.5 665.6 221.3 670.7 214.6 676.9 204.4 679.8 201 683.8 197.5 694 189.9 703.1 180.8 705.4 179.2 707.7 178.3 709.9 178.4 712.2 179.9 719 187 725.9 195.2 728.1 197.3 734.4 201.6 739.5 204.2" stroke="#F0AC1C"/>
<path d="M445.5 225.7 454 224.7 459.1 223.7 462 222.5 464.3 220.8 466.5 218.1 470 206.5 472.2 201.3 473.4 199.6 473.9 199.4 477.3 200.2 481.3 201.9 485.3 204.2 489.9 207.8 492.1 208 495.5 207 496.1 203 496.7 191.9 499 120.6 500.1 99.4 501.2 93.4 502.9 88.5 505.8 85.1 507.5 84 508.6 83.8 520 83.8 522.8 84.3 526.8 85.9 531.9 90.3 533.6 91.3 534.8 91.5 535.9 91.3 537.6 90.5 544.4 85.2 546.2 84.6 547.9 84.7 550.7 86 554.7 88.9 556.4 91.1 560.4 97.3 562.1 98.9 563.2 99.2 564.9 98.9 571.2 96 574 95.3 575.2 95.6 576.9 96.5 579.7 99.3 580.8 101.6 582 105.4 584.8 119 586 127.6 588.8 155 592.2 179.5 594.5 193 595.6 197 596.2 198 597.3 198.2 600.2 197.5 603 196.1 605.9 194.2 607 192.7 608.7 189.5 614.4 176.7 616.1 174.1 618.4 171.9 622.4 168.5 625.2 166.7 628 165.7 630.9 165.6 637.1 166.4 641.7 167.7 645.1 170 648.5 173.8 650.2 178.6 654.2 197.8 658.7 217 660.5 222.4 661.6 224 662.7 224 664.4 222.9 669.6 217.3 676.9 206.2 680.4 202.4 684.3 199.2 694 192.4 703.7 183.4 705.9 182 707.7 181.4 709.9 181.5 712.2 182.9 719 189.7 725.9 197.4 728.1 199.4 734.4 203.5 739.5 205.9" stroke="#E8561A"/>
<path d="M445.5 230.3 454 229.7 459.1 229 461.4 228.1 464.3 225.9 466.5 223.1 470 210.8 472.2 205.3 473.4 203.6 473.9 203.3 475.1 203.7 477.3 205.3 481.3 209.8 485.3 215.6 488.1 221.8 489.9 224.7 491 225.3 492.7 225 494.4 224.3 495 223.4 496.1 199.2 497.8 134.9 499 103.9 500.1 96.7 501.8 91.6 502.9 89.6 505.2 86.9 506.9 85.5 508.6 84.9 520 84.9 522.8 85.4 526.8 87 531.9 91.4 533.6 92.4 534.8 92.6 535.9 92.4 537.6 91.6 544.4 86.3 546.2 85.7 547.9 85.8 550.7 87.1 554.7 90 556.4 92.2 560.4 98.3 562.1 99.9 563.2 100.2 564.9 99.9 571.2 97 574 96.4 575.2 96.6 576.9 97.5 579.7 100.3 580.8 102.6 582 106.4 584.8 119.8 586 128.4 588.8 155.6 592.2 180 594.5 193.4 595.6 197.4 596.2 198.4 596.8 198.6 597.3 198.5 598.5 197.7 600.2 195.6 601.9 192.7 606.4 184.2 613.3 167.3 616.1 162 620.6 157 624.1 154 627.5 152.2 630.3 151.9 636 152.7 641.1 154.1 643.4 155.6 645.1 157.2 648.5 161.6 649.7 164.9 650.8 170.2 659.3 217.6 660.5 221.9 661.6 224.1 662.2 224.2 663.3 223.7 665 221.8 670.7 213.2 676.4 203.4 679.2 199.6 683.8 195.3 694 187.3 703.1 177.8 705.4 176 707.1 175.2 709.4 175 711.6 176.3 719 184.3 724.7 191.5 727.6 194.6 733.8 199.2 739.5 202.4" stroke="#0A72C4"/>
<path d="M445.5 229.1 458.6 227.8 461.4 227.1 464.3 225.8 466.5 224.1 470 216.6 472.2 213.3 473.4 212.2 473.9 212 475.1 212.3 477.3 213.4 481.3 216.3 485.3 220.1 488.1 224.1 489.9 226 491 226.4 492.7 226.2 494.4 225.5 495 224.8 495.5 216.9 496.1 201.7 497.8 137.6 499 105.7 499.5 100.4 500.7 95.8 501.8 92.7 502.9 90.7 505.2 88 506.9 86.6 508.6 86.1 520 86.1 522.8 86.6 526.8 88.2 531.9 92.5 533.6 93.4 534.8 93.7 535.9 93.5 537.6 92.7 544.4 87.5 546.2 86.9 547.9 87 550.7 88.3 554.7 91.1 556.4 93.3 560.4 99.4 562.1 101 563.2 101.2 564.9 100.9 571.2 98.1 574 97.4 575.2 97.7 576.9 98.6 579.7 101.3 580.8 103.6 582 107.4 584.8 120.7 586 129.2 588.8 156.2 592.2 180.5 594.5 193.8 595.6 197.7 596.2 198.7 596.8 199 597.3 198.8 598.5 198 601.3 193.5 607 181.9 613.3 166 616.1 160.8 621.2 155.1 624.6 152.2 627.5 150.8 630.9 150.5 637.1 151.5 640 152.2 641.7 153 644 154.7 645.7 156.4 647.9 159.5 649.1 161.7 650.8 169 658.7 214.7 660.5 222 661.6 224.2 662.7 224.2 664.4 223.4 669.6 218.7 671.8 215.8 676.9 208.2 680.4 204.7 684.3 201.7 694 195.4 703.7 186.9 705.9 185.6 707.7 185.1 709.9 185.2 712.2 186.5 719 192.9 725.9 200 728.1 201.9 734.4 205.7 739.5 208" stroke="#E8561A"/>
<path d="M445.5 227.1 458 225.6 462 224.6 464.8 223.5 466.5 222.3 470 216 472.2 213.1 473.4 212.2 489.9 211.1 492.7 210.7 495 209.8 495.5 204.7 496.1 192.8 498.4 121 499 108.3 499.5 102 500.7 97.1 502.4 92.7 505.8 88.6 507.5 87.5 508.6 87.2 520 87.2 522.8 87.7 526.8 89.3 531.9 93.6 533.6 94.5 534.8 94.7 535.9 94.6 537.6 93.8 544.4 88.6 546.2 88 547.9 88.1 550.7 89.4 554.7 92.2 556.4 94.4 560.4 100.4 562.1 102 563.2 102.3 564.9 102 571.2 99.1 574 98.5 575.2 98.7 576.9 99.6 579.7 102.4 580.8 104.6 582 108.4 584.8 121.6 586 130 588.8 156.8 592.2 180.9 594.5 194.2 595.6 198.1 596.2 199.1 596.8 199.4 597.9 199.3 600.2 198.6 603 197.1 605.9 195.1 608.1 191.7 613.3 180.3 615 177.1 616.1 175.5 619.5 172.4 623.5 169.3 626.3 167.8 628.6 167.3 632.6 167.4 639.4 168.5 642.3 169.6 644.5 171.1 646.2 172.6 648.5 175.2 649.1 176.3 650.8 182.3 654.2 198.7 658.7 217.5 660.5 222.8 661.6 224.4 662.7 224.4 665 224 669.6 222 671.8 220 677.5 212.7 679.8 210.7 683.8 208.2 694 202.6 703.7 195.6 705.9 194.5 707.7 194.1 709.9 194.2 712.2 195.3 719 200.5 725.9 206.5 728.1 208.1 734.4 211.2 739.5 213.1" stroke="#3CB8EC"/>
<path d="M445.5 230.3 454 229.7 459.1 229.1 462 228 464.3 226.5 466.5 224.1 470 213.7 472.2 209 473.4 207.5 473.9 207.3 477.3 208 481.3 209.5 485.3 211.4 489.9 214.4 492.1 214.5 494.4 213.6 495 210.4 495.5 199.8 497.8 127.3 499 104.9 500.7 98.4 502.4 94.8 505.8 90.9 507.5 89.8 508.6 89.5 520 89.5 522.8 90 526.8 91.5 531.9 95.7 533.6 96.7 534.8 96.9 535.9 96.7 537.6 95.9 544.4 90.9 546.2 90.3 547.9 90.4 550.7 91.6 554.7 94.4 556.4 96.5 560.4 102.5 562.1 104 563.2 104.3 564.9 104 571.2 101.2 574 100.6 575.2 100.8 576.9 101.7 579.7 104.4 580.8 106.6 582 110.3 584.8 123.4 586 131.7 588.8 158 592.2 181.9 594.5 195 595.6 198.9 596.2 199.9 596.8 200.1 597.9 199.8 599.6 198.3 605.9 188.8 608.1 184.1 613.3 171.9 616.1 166.9 621.2 161.7 624.6 159 628 157.6 631.5 157.5 638.8 158.7 642.3 160.1 644.5 161.8 646.2 163.5 648.5 166.5 649.1 167.8 650.8 174.5 658.7 216.1 660.5 222.6 661.6 224.6 662.7 224.6 664.4 223.9 669.6 219.9 671.8 217.2 676.9 210.1 680.4 206.8 684.3 204 694 198.1 703.7 190.2 705.9 189 707.7 188.4 709.9 188.5 712.2 189.8 719 195.7 725.9 202.5 728.1 204.2 734.4 207.8 739.5 209.9" stroke="#E8561A"/>
<path d="M445.5 232.1 459.1 231.2 461.4 230 463.7 227.5 465.4 224.8 466.5 222.3 470 203.9 472.2 195.6 473.4 193 473.9 192.6 475.1 193.1 477.3 195.4 479.1 197.8 481.3 201.8 485.3 210.1 488.1 219 489.9 223 490.4 223.7 491 223.9 492.7 223.6 494.4 222.8 495 219.9 495.5 209.1 497.8 131.8 499 107.3 500.7 100.6 502.4 97 505.8 93.1 507.5 92 508.6 91.8 520 91.8 522.8 92.2 526.8 93.8 531.9 97.9 533.6 98.9 534.8 99.1 535.9 98.9 537.6 98.1 544.4 93.1 546.2 92.5 547.9 92.6 550.7 93.9 554.7 96.6 556.4 98.7 560.4 104.6 562.1 106.1 563.2 106.4 564.9 106.1 571.2 103.3 574 102.7 575.2 102.9 576.9 103.8 579.7 106.5 580.8 108.7 582 112.3 584.8 125.1 586 133.3 588.8 159.2 592.2 182.8 594.5 195.8 595.6 199.6 596.2 200.6 596.8 200.9 597.9 200.5 599.6 199.1 605.9 189.8 608.1 185.2 613.3 173.2 616.1 168.3 621.2 163.2 625.2 160.3 628 159.2 632 159.2 639.4 160.5 642.3 161.7 644.5 163.4 646.2 165.1 648.5 168 649.1 169.2 650.8 175.8 658.7 216.5 660.5 222.9 661.6 224.9 662.7 224.9 665 224.4 669.6 222.4 671.8 220.4 677.5 213.4 679.8 211.4 683.8 209 694 203.6 703.7 196.7 705.9 195.7 707.7 195.3 709.9 195.3 712.2 196.4 719 201.5 725.9 207.3 728.1 208.9 734.4 211.9 739.5 213.7" stroke="#8A2E96"/>
<path d="M445.5 225.5 454 224.4 459.1 223.4 462 222.1 464.3 220.3 466.5 217.5 470 205.3 472.2 199.8 473.4 198.1 473.9 197.8 475.1 198.2 477.3 199.7 481.3 203.9 485.3 209.3 488.1 215.2 489.9 217.9 491 218.5 492.1 218.4 493.8 217.9 495 217.1 495.5 211.1 496.1 198.4 498.4 126.4 499 114.3 499.5 108.9 500.7 104.4 502.4 100.4 505.8 96.5 507.5 95.4 508.6 95.2 520 95.2 522.8 95.7 526.8 97.2 531.9 101.2 533.6 102.1 534.8 102.3 535.9 102.1 537.6 101.4 544.4 96.5 546.2 95.9 547.9 96 550.7 97.3 554.7 99.9 556.4 102 560.4 107.7 562.1 109.2 563.2 109.4 564.9 109.1 571.2 106.4 574 105.9 575.2 106.1 576.9 106.9 579.7 109.5 580.8 111.7 582 115.2 584.8 127.8 586 135.7 588.8 161 592.2 184.2 594.5 197 595.6 200.8 596.2 201.8 596.8 202 597.9 201.8 600.2 200.9 603 198.9 605.9 196.4 608.1 192.9 614.4 180 616.1 177.6 618.4 175.5 622.4 172.3 625.8 170.3 628.6 169.6 632.6 169.7 639.4 170.8 642.3 171.8 646.2 174.7 648.5 177.2 649.1 178.3 650.8 184.1 654.2 199.9 658.7 218.5 660.5 223.7 661.6 225.3 663.3 225.2 665 224.7 669.6 222.5 671.8 220.5 677.5 213.6 679.8 211.8 683.8 209.3 694 204 703.7 197.3 705.9 196.2 707.7 195.8 709.9 195.9 712.2 197 719 202 725.9 207.7 728.1 209.3 734.4 212.2 739.5 214.1" stroke="#F0AC1C"/>
<path d="M445.5 233.5 459.1 232.7 461.4 231.7 463.7 229.5 466.5 225 470 209 472.2 201.7 473.4 199.5 473.9 199.2 475.1 199.6 477.3 201.5 479.1 203.5 481.3 206.8 485.3 213.8 488.1 221.2 489.9 224.6 490.4 225.2 491.6 225.3 493.3 224.9 495 224.1 495.5 218.6 496.1 206 498.4 131.3 499 118.3 499.5 112.2 500.7 107.7 502.4 103.7 505.8 99.9 507.5 98.8 508.6 98.6 520 98.6 522.8 99.1 526.8 100.5 531.9 104.5 533.6 105.4 534.8 105.6 535.9 105.4 537.6 104.7 544.4 99.9 546.2 99.3 547.9 99.4 550.7 100.6 554.7 103.3 560.4 110.8 562.1 112.3 563.2 112.5 564.9 112.2 571.2 109.6 574 109 575.2 109.2 576.9 110.1 579.7 112.6 580.8 114.7 582 118.1 584.8 130.4 586 138.2 588.8 162.9 592.2 185.6 594.5 198.2 595.6 201.9 596.2 202.9 597.3 203.1 600.2 202.6 603.6 201.4 605.9 200.3 608.1 197.4 613.8 186.2 616.1 182.9 620.6 179.3 624.1 177.1 627.5 175.8 630.3 175.6 636 176.1 641.1 177.2 645.1 179.4 648.5 182.6 650.2 186.8 654.2 203.3 658.7 219.7 660.5 224.3 661.6 225.6 662.2 225.7 663.3 225.3 665 223.8 670.7 216.7 676.9 207.7 679.8 204.7 683.8 201.6 694 194.9 703.7 186.3 705.9 185 707.7 184.4 709.9 184.5 712.2 185.9 719 192.3 725.9 199.6 728.1 201.6 734.4 205.4 739.5 207.7" stroke="#E8561A"/>
<path d="M445.5 233.1 459.1 232.3 461.4 231.5 463.7 229.8 466.5 226.4 470 214 472.2 208.4 473.4 206.7 473.9 206.4 477.3 207.5 481.3 209.8 485.3 212.9 488.1 216.2 489.9 217.7 491 218.1 492.1 217.9 495 216.8 495.5 211.7 496.1 200.2 498.4 132.5 499 120.8 499.5 115.3 500.7 110.9 502.4 107 505.8 103.3 507.5 102.3 508.6 102 520 102 522.8 102.5 526.8 103.9 531.9 107.7 533.6 108.6 534.8 108.8 535.9 108.7 537.6 107.9 544.4 103.3 546.2 102.7 547.9 102.8 550.7 104 554.7 106.6 560.4 113.9 562.1 115.3 563.2 115.6 564.9 115.3 571.2 112.7 574 112.2 575.2 112.4 576.9 113.2 579.7 115.7 580.8 117.7 582 121.1 584.8 133 586 140.6 588.8 164.7 592.2 187 594.5 199.4 595.6 203.1 596.2 204 596.8 204.3 600.2 204 605.9 202.8 608.1 200.3 613.8 189.5 616.1 186.4 620.6 183 624.1 180.9 627.5 179.7 630.3 179.6 636 180.1 641.1 181.1 645.1 183.1 648.5 186.1 650.2 190 654.2 205.5 658.7 220.6 660.5 224.8 661.6 226 662.2 226.1 663.3 225.6 665 224.1 670.7 216.8 676.4 208.7 679.2 205.5 683.8 201.9 694 195.2 703.7 186.7 705.9 185.4 707.7 184.8 709.9 184.9 712.2 186.3 719 192.7 725.3 199.4 728.1 201.9 734.4 205.6 739.5 207.9" stroke="#C0163A"/>
<path d="M445.5 232.8 458.6 232 464.8 230.9 466.5 230.3 470 226.7 473.4 224.6 480.2 225.2 490.4 227.3 493.3 227.1 496.1 226.3 496.7 225.2 497.2 217.7 500.1 137.7 500.7 127.6 501.2 123.3 502.4 118.5 502.9 117.2 505.2 114.7 508.1 113.2 514.3 112.5 520.6 112.3 525.7 113.2 528 114.1 532.5 117 534.8 117.6 535.9 117.4 537.6 116.7 544.4 111.7 546.2 111.2 547.9 111.2 550.7 112.2 554.7 114.4 556.4 116.2 560.4 121.4 562.1 122.7 563.2 122.9 564.9 122.7 571.2 120.3 574 119.7 575.2 119.9 576.9 120.7 579.7 123 580.8 124.9 582 128.1 584.8 139.3 586 146.4 588.8 169 592.8 193.7 594.5 202.2 595.6 205.8 596.2 206.7 596.8 206.9 597.9 206.6 599.6 205.3 605.3 197.6 607.6 193.8 613.3 182.5 616.1 178.3 621.2 174 624.6 171.8 627.5 170.7 630.9 170.5 637.1 171.2 641.7 172.5 645.7 175.1 647.9 177.4 649.1 179.1 650.8 184.7 658.7 219.7 660.5 225.2 661.6 226.9 663.3 226.7 666.1 224.7 670.7 220.5 676.9 213.2 679.8 210.8 683.8 208.3 694 202.8 703.7 195.8 705.9 194.7 707.7 194.3 709.9 194.4 712.2 195.5 719 200.8 725.3 206.3 728.1 208.3 734.4 211.4 739.5 213.2" stroke="#0A72C4"/>
<path d="M445.5 230.6 459.1 229.4 462 228.7 464.3 227.6 466.5 226 470 218.8 472.2 215.6 473.4 214.5 491 213.8 493.8 213.3 495.5 212.6 496.1 208.3 496.7 199 499.5 135.1 500.1 130.7 500.7 128.7 501.8 126 502.9 124.3 505.8 121.5 508.1 120.3 513.2 119.5 518.9 119.1 522.3 119.3 526.3 119.9 532.5 123.2 534.2 123.7 535.3 123.7 538.2 122.5 543.9 118.2 545.6 117.4 546.7 117.3 550.1 118 554.7 120.3 556.4 121.9 560.4 126.9 562.1 128.2 563.2 128.4 564.9 128.1 571.2 125.8 574 125.4 575.2 125.5 576.9 126.3 579.1 128 580.3 129.2 581.4 131.7 582.5 135.1 584.8 144 586 150.7 588.8 172.3 592.8 196.1 594.5 204.4 595.6 207.8 596.2 208.7 596.8 208.9 597.9 208.3 599.6 205.8 604.2 195 611.6 178.9 613.8 174.4 615.5 171.8 620.1 167.2 624.1 164.1 627.5 162.5 630.9 162.3 637.1 163.2 641.7 164.5 644 165.9 645.7 167.4 647.9 170 649.1 171.9 651.4 180.9 659.3 221.3 660.5 225.5 661.6 227.5 662.7 227.6 664.4 227 669.6 223.4 676.9 216.1 679.8 213.9 683.8 211.7 694 207 703.7 200.8 707.7 199.4 709.9 199.5 712.2 200.5 719 205.1 725.3 210 728.1 211.8 734.4 214.5 739.5 216.1" stroke="#E8561A"/>
<path d="M445.5 226.4 456.9 224.9 465.4 223.2 467.1 222.2 470.5 218.3 472.8 216.7 473.9 216.4 477.3 217.1 481.3 218.5 485.3 220.4 489.9 223.3 492.7 223.3 496.1 222.4 496.7 221.3 497.2 214.7 500.1 146.8 500.7 138.9 501.8 134.7 502.9 132.8 505.8 129.9 508.1 128.5 510.9 127.5 517.7 126.1 525.7 125.9 528 126.3 533.1 128.4 535.3 128.6 536.5 128.2 538.2 127.2 543.9 122.2 545.6 121.3 546.7 121.1 550.1 121.6 554.7 123.4 556.4 125 560.4 129.9 562.1 131.2 563.2 131.4 564.9 131.1 571.2 128.9 574 128.4 575.2 128.6 576.9 129.3 579.1 131 580.3 132.2 581.4 134.6 582.5 138 584.8 146.6 586 153.1 588.8 174 592.8 197.4 594.5 205.5 595.6 209 596.2 209.8 597.3 210 598.5 209.4 600.2 207.9 601.9 205.9 606.4 199.9 613.3 187.8 616.1 184.1 621.2 180.2 624.6 178.2 628 177.1 631.5 177 638.8 178 642.3 179.1 646.2 181.6 648.5 183.8 649.1 184.7 650.8 189.8 658.7 221.4 660.5 226.4 661.6 227.9 662.7 228 664.4 227.4 669.6 224.5 676.9 217.7 680.4 215.4 694 209.3 703.7 203.6 707.7 202.3 709.9 202.4 712.2 203.3 719 207.6 725.3 212.1 728.1 213.8 734.4 216.3 739.5 217.8" stroke="#F0AC1C"/>
<path d="M445.5 228.4 454 227.6 459.1 226.8 462 225.5 464.3 223.5 466.5 220.4 470 207.1 472.2 201 473.4 199.1 473.9 198.9 475.1 199.2 477.3 200.4 481.3 203.8 485.3 208.3 488.1 213.1 489.9 215.3 491 215.8 492.1 215.7 494.4 214.9 495 214.3 495.5 209.6 496.1 200.5 498.4 151.2 499 143.7 499.5 140.8 500.1 139.7 501.8 137.6 505.2 134.5 507.5 132.9 509.2 132.2 517.2 130.7 525.7 130.7 528 131.2 533.1 133.3 535.3 133.5 538.2 132.2 543.9 127.6 545.6 126.8 546.7 126.7 550.1 127.2 554.7 129 556.4 130.5 560.4 135.1 562.1 136.4 563.2 136.6 564.9 136.3 571.2 134.2 574 133.8 576.9 134.6 579.1 136.2 580.3 137.3 582.5 142.8 584.8 151 586 157.2 588.8 177.1 592.8 199.6 594.5 207.6 595.6 210.9 596.2 211.7 596.8 211.9 597.9 211.5 599.6 209.5 612.1 186.2 615.5 181 619.5 177.5 623.5 174.7 626.9 173.2 629.7 172.8 636 173.4 641.7 174.8 645.7 177.3 647.9 179.5 649.1 181.1 650.8 186.5 659.3 223.3 660.5 226.8 661.6 228.6 662.7 228.5 664.4 227.3 675.2 214.9 679.2 211.2 683.2 208.7 694 203.1 703.7 196.1 705.9 195 707.7 194.5 709.9 194.6 712.2 195.7 719 201 725.3 206.6 728.1 208.6 734.4 211.6 739.5 213.4" stroke="#8A2E96"/>
<path d="M445.5 232.3 459.1 231.4 461.4 230.7 463.7 229.3 466.5 226.6 470 216.6 472.2 212.1 473.4 210.6 473.9 210.4 477.3 211.2 481.3 212.9 485.3 215.1 489.9 218.6 491 218.9 492.1 218.7 494.4 217.8 495 215.9 495.5 209.1 498.4 151.4 499 145.9 499.5 144.3 500.7 142.2 502.4 140.2 505.8 137.4 508.1 136.2 512.6 135.5 517.7 135.1 521.7 135.1 526.3 135.7 532.5 138.5 535.3 138.9 538.2 137.8 543.9 134 546.7 133.2 550.1 133.8 554.7 135.7 556.4 137.2 560.4 141.4 562.1 142.6 563.2 142.8 564.9 142.6 571.2 140.6 574 140.1 576.9 140.9 579.1 142.4 580.3 143.5 582.5 148.6 584.8 156.3 586 162.1 588.8 180.8 592.8 202.3 594.5 210 595.6 213.2 596.2 214 596.8 214.2 597.9 213.7 599.6 211.6 604.2 202.8 611.6 189.5 613.8 185.7 615.5 183.6 619.5 180.3 623.5 177.6 626.9 176.1 629.7 175.8 636 176.4 641.7 177.7 645.7 180 647.9 182.1 649.1 183.6 651.4 191 659.3 224.2 660.5 227.6 661.6 229.3 662.7 229.3 664.4 228.3 675.8 217.4 679.2 214.7 683.2 212.6 694 207.8 703.7 201.7 707.7 200.3 709.9 200.4 712.2 201.4 719 206 725.3 210.8 728.1 212.5 734.4 215.1 739.5 216.7" stroke="#72B030"/>
<path d="M445.5 232.1 459.1 231.2 461.4 230 463.7 227.4 465.4 224.7 466.5 222.3 470 203.8 472.2 195.5 473.4 192.8 473.9 192.5 475.1 193.1 477.3 195.8 479.1 198.5 481.3 203.2 485.3 212.8 488.1 223.2 489.9 227.9 490.4 228.6 491 228.9 492.7 228.6 494.4 227.9 495 226.2 495.5 219 498.4 154.4 499 148.2 499.5 146.8 500.7 145.6 506.9 140.7 508.6 139.8 510.9 139.1 517.7 137.6 525.7 137.1 528 137.5 533.1 139.1 535.3 139.3 536.5 138.9 538.2 137.9 543.9 133.2 545.6 132.3 546.7 132.1 550.1 132.6 554.7 134.1 556.4 135.5 560.4 139.9 562.1 141.1 563.2 141.3 564.9 141.1 571.2 139.1 574 138.7 576.9 139.5 579.1 140.9 580.3 142.1 582.5 147.3 584.8 155.1 586 161 588.8 179.9 592.8 201.7 594.5 209.4 595.6 212.7 596.2 213.5 597.3 213.6 599.6 212.7 605.9 207.2 608.1 204.3 613.3 196.5 616.1 193.3 621.2 190 624.6 188.4 627.5 187.6 630.9 187.5 637.7 188.1 642.3 189.2 646.2 191.3 648.5 193.1 649.1 193.8 650.8 198 653.6 207.9 658.7 223.9 660.5 227.9 661.6 229.2 663.3 229 666.1 227.6 670.7 224.5 676.9 219.2 679.8 217.4 694 211.6 703.7 206.3 707.7 205.1 709.9 205.2 712.2 206 719 210 725.3 214.2 728.1 215.7 734.4 218 739.5 219.4" stroke="#3CB8EC"/>
<path d="M445.5 227.5 458 226 462 225.1 464.8 224.1 466.5 223 470 217.3 472.2 214.8 473.4 214 475.6 214 480.2 214.8 484.7 215.9 490.4 217.8 492.7 217.6 495 216.7 495.5 214 496.1 206.9 498.4 161.6 499.5 148.5 500.7 145.2 502.4 142.3 505.8 139.5 507.5 138.8 508.6 138.6 520 138.5 522.8 138.8 526.8 139.8 532.5 142.8 534.8 143.3 537.6 142.7 544.4 139.2 546.2 138.8 547.9 138.8 550.7 139.7 554.7 141.5 560.4 146.9 562.1 148 563.2 148.1 564.9 147.9 571.2 146 574 145.6 576.9 146.4 579.7 148.2 580.8 149.7 582 152.2 584.8 160.9 586 166.4 588.8 184 593.4 207.4 595.1 213.9 596.2 216 596.8 216.2 600.2 215.3 605.9 212 608.1 209.6 613.8 202.2 616.1 200 620.6 197.6 624.1 196.1 627.5 195.2 630.3 195.1 636.6 195.6 641.7 196.4 645.1 197.7 648.5 199.9 649.7 201.5 650.8 204.1 654.2 214 658.7 225.7 660.5 229 661.6 230 662.7 230 664.4 229.2 675.8 219.9 679.2 217.6 683.2 215.7 694 211.6 703.7 206.3 707.7 205.1 709.9 205.1 712.2 206 719 210 725.3 214.3 728.1 215.8 734.4 218 739.5 219.4" stroke="#C0163A"/>
<path d="M445.5 232.6 459.1 231.7 461.4 230.9 463.7 229.3 466.5 226.1 470 214.4 472.2 209.1 473.4 207.4 473.9 207.2 475.1 207.4 477.3 208.5 481.3 211.4 485.3 215.2 488.1 219.3 489.9 221.2 491 221.6 492.1 221.5 495 220.6 495.5 219.7 496.1 214.3 498.4 168.3 499.5 151.2 500.7 146.9 501.8 144.6 502.9 143.1 505.2 141.3 506.9 140.4 508.6 140 512 139.8 520.6 139.6 524 140.1 526.8 140.8 532.5 143.6 534.8 144.1 537.6 143.4 544.4 139.7 546.2 139.3 547.9 139.4 550.7 140.2 554.7 141.9 560.4 147.3 562.1 148.4 563.2 148.5 564.9 148.3 571.2 146.5 574 146.1 576.9 146.8 579.7 148.6 580.8 150.1 582 152.5 584.8 161.3 586 166.7 588.8 184.2 593.4 207.6 595.1 214 596.2 216.1 596.8 216.3 598.5 215.9 600.2 214.8 605.9 209.3 613.3 199.3 616.1 196.4 620.6 193.7 624.1 192.1 627.5 191.1 630.3 191 636.6 191.5 641.7 192.4 645.7 194.2 647.9 195.7 649.1 196.9 650.8 200.8 658.7 225.1 660.5 228.9 661.6 230.1 662.7 230 664.4 229.2 675.8 219.8 679.2 217.5 683.2 215.6 694 211.4 703.7 206.1 707.7 204.9 709.9 204.9 712.2 205.8 719 209.9 725.3 214.1 728.1 215.6 734.4 217.9 739.5 219.3" stroke="#0A72C4"/>
<path d="M445.5 230.6 454 230.1 459.1 229.4 462 228.5 464.3 227.1 466.5 225 470 215.7 472.2 211.5 473.4 210.2 475.1 210.1 480.2 211.1 484.7 212.5 488.7 214.4 490.4 214.9 492.7 214.7 495.5 213.9 496.1 212.6 496.7 207.1 499.5 157.2 500.1 152.2 500.7 150.8 501.8 149.5 506.3 145.8 508.1 144.7 510.9 143.7 517.7 142.2 525.1 141.6 528 141.9 533.1 143.3 535.3 143.5 538.2 142.1 543.9 137.4 545.6 136.5 546.7 136.3 550.1 136.8 554.7 138.2 556.4 139.5 560.4 143.7 561.5 144.6 562.6 145.1 564.9 144.9 571.2 142.9 574 142.5 576.9 143.3 579.1 144.7 580.3 145.8 582.5 150.8 584.8 158.3 586 164 588.8 182.2 592.8 203.3 594.5 210.9 595.6 214.1 596.2 214.9 597.3 215 599.6 214.4 601.9 213.1 605.9 210.3 608.1 207.8 613.8 199.9 616.7 197.3 621.8 194.5 625.2 193.1 628 192.5 632 192.5 638.8 193.3 642.3 194 646.2 195.9 649.1 198.2 650.8 202 654.2 212.5 658.7 225 660.5 228.6 661.6 229.6 664.4 229.3 669.6 227.3 677.5 221.8 680.4 220.4 694 215.8 703.7 211.4 707.7 210.4 709.9 210.4 712.2 211.1 728.1 219.3 734.4 221.2 739.5 222.3" stroke="#E8561A"/>
<path d="M445.5 224.9 454 223.8 459.1 222.7 462 221.2 464.3 219.2 466.5 216 470 202.1 472.2 195.8 473.4 193.8 473.9 193.5 475.1 194 477.3 196.1 479.1 198.2 481.3 201.8 485.3 209.2 488.1 217.2 489.9 220.9 491 221.6 492.7 221.4 494.4 220.7 495 220.2 495.5 215.7 499 155.7 499.5 153.1 500.7 151.1 502.4 149.3 505.2 147 506.9 146 508.6 145.4 516.6 144.3 523.4 144.3 526.8 144.7 532.5 146.9 535.3 147.3 538.2 146.2 543.9 142.6 546.7 141.8 550.1 142.3 554.7 144 556.4 145.4 560.4 149.3 562.1 150.3 563.2 150.5 564.9 150.3 571.2 148.5 574 148.1 576.9 148.8 579.1 150.2 580.3 151.2 582.5 155.9 584.8 163 586 168.3 588.8 185.4 593.4 208.4 595.1 214.8 596.2 216.9 596.8 217.1 597.9 216.6 599.6 214.9 612.1 195 615.5 190.7 619.5 187.9 623.5 185.6 626.9 184.3 629.7 184 636 184.6 641.7 185.7 645.7 187.7 647.9 189.5 649.1 190.8 650.8 195.2 659.3 225.9 660.5 228.8 661.6 230.3 662.7 230.3 664.4 229.4 675.2 220.5 678.7 218.1 683.2 216 694 211.9 703.7 206.6 707.7 205.4 709.9 205.5 712.2 206.3 719 210.3 725.3 214.5 728.1 216 734.4 218.2 739.5 219.6" stroke="#F0AC1C"/>
<path d="M445.5 233.2 459.1 232.5 461.4 231.5 463.7 229.3 466.5 225 470 209.5 472.2 202.6 473.4 200.4 473.9 200.1 475.1 200.4 477.3 202 481.3 206.2 485.3 211.8 488.1 217.7 489.9 220.4 490.4 220.9 491.6 221 495 219.9 495.5 217.9 496.1 211.4 499 159.3 499.5 154.8 500.1 153.8 501.2 152.4 506.3 148.5 508.1 147.6 510.3 146.9 517.2 145.5 525.7 145.2 528 145.6 533.1 147.2 535.3 147.4 538.2 146.1 543.9 141.9 545.6 141.2 546.7 141 550.1 141.5 554.7 142.9 556.4 144.2 560.4 148.2 562.1 149.3 563.2 149.5 564.9 149.3 571.2 147.4 574 147.1 576.9 147.8 579.1 149.1 580.3 150.2 582.5 155 584.8 162.1 586 167.5 588.8 184.8 592.8 205.3 594.5 212.6 595.6 215.7 596.2 216.5 596.8 216.7 597.9 216.2 599.6 214.5 612.1 194.4 615.5 190 619.5 187.1 623.5 184.8 626.9 183.5 629.7 183.2 636 183.7 641.7 184.9 645.7 186.9 647.9 188.7 649.1 190.1 650.8 194.6 659.3 225.7 660.5 228.7 661.6 230.2 662.7 230.1 664.4 229.2 674.7 220.2 678.7 217.2 683.2 215 694 210.7 703.7 205.2 707.7 203.9 709.9 204 712.2 204.9 719 209.1 725.3 213.5 728.1 215 734.4 217.4 739.5 218.7" stroke="#8A2E96"/>
<path d="M445.5 231.3 458.6 230.3 461.4 229.8 464.3 228.8 466.5 227.6 470 222.3 472.2 219.8 473.9 219 477.3 219.4 481.3 220.4 484.7 221.5 488.7 223.4 490.4 223.9 492.7 223.8 495.5 223 496.1 222.2 496.7 217.1 499 173.3 500.1 157.1 500.7 154.9 501.8 152.8 504.6 150 507.5 148.4 511.5 147.4 516 146.7 520 146.5 526.3 146.7 533.1 148.9 535.9 149 538.2 148 543.9 144.1 546.7 143.3 550.1 143.8 554.7 145.4 556.4 146.7 560.4 150.6 562.1 151.6 564.9 151.6 571.2 149.8 574 149.4 576.9 150.1 579.1 151.4 580.3 152.4 582.5 157.1 584.8 164 586 169.3 588.8 186.1 593.4 208.9 595.1 215.2 596.2 217.3 596.8 217.5 597.9 217.2 600.7 214.9 607 207.5 613.3 198.7 616.1 195.8 621.2 192.8 624.6 191.2 627.5 190.5 630.9 190.4 637.7 191 642.3 192 646.2 193.9 649.1 196.3 650.8 200.2 659.3 226.8 660.5 229.2 661.6 230.5 663.3 230.3 665.6 229.4 670.1 226.9 676.4 222.6 679.2 221.1 694 216.1 703.7 211.7 707.7 210.7 709.9 210.8 712.2 211.5 728.1 219.6 734.4 221.5 739.5 222.6" stroke="#72B030"/>
<path d="M445.5 231.4 454 230.9 459.1 230.3 461.4 229.4 463.7 227.7 466.5 224.2 470 211.4 472.2 205.7 473.4 203.9 473.9 203.6 475.1 204 477.3 205.5 481.3 209.8 485.3 215.3 488.1 221.3 489.9 224 491 224.6 492.1 224.6 496.1 223.6 496.7 222.1 497.2 216.3 500.1 164.1 500.7 158.5 501.2 156.3 502.4 153.7 504.6 151.5 507.5 150.1 511.5 149.3 516.6 148.8 521.1 148.8 526.3 149.2 532.5 151.5 535.3 151.9 538.2 150.9 543.9 147.5 546.7 146.8 550.1 147.3 554.7 148.9 560.4 153.9 562.1 154.9 564.9 154.9 571.7 153 574.6 152.8 576.3 153.2 578.6 154.4 579.7 155.1 580.8 156.5 583.1 161.7 585.4 169.1 588.8 188.1 593.4 210.3 595.1 216.5 596.2 218.5 596.8 218.7 597.9 218.3 599.6 216.8 612.1 199 615.5 195.1 620.1 192.2 624.1 190.2 627.5 189.2 630.9 189 637.7 189.7 642.3 190.7 646.2 192.7 648.5 194.4 649.1 195.1 650.8 199.2 659.3 226.9 660.5 229.5 661.6 230.9 663.3 230.7 665.6 229.8 679.2 221.9 693.4 217.5 703.1 213.3 707.7 212.2 709.9 212.2 712.2 212.9 727.6 220.4 734.4 222.3 739.5 223.4" stroke="#3CB8EC"/>
<path d="M445.5 228.3 454 227.6 459.1 226.7 462 225.4 464.3 223.3 466.5 220.2 470 206.7 472.2 200.6 473.4 198.7 473.9 198.4 475.1 198.8 477.3 200.3 481.3 204.3 485.3 209.6 488.1 215.3 489.9 217.9 490.4 218.3 491.6 218.4 494.4 217.5 495 216.6 495.5 212.1 497.8 174.5 499 160.9 499.5 159 500.7 157.1 502.9 154.8 505.8 152.9 508.1 151.9 513.2 151.3 518.9 151 526.3 151.6 532.5 154 535.3 154.3 538.2 153.4 543.9 150.3 546.7 149.6 550.1 150.1 554.7 151.8 560.4 156.6 562.1 157.6 564.9 157.5 571.7 155.7 574.6 155.5 576.3 155.9 578.6 157.1 579.7 157.8 580.8 159.1 583.1 164.1 585.4 171.3 588.8 189.7 593.4 211.4 595.1 217.5 596.2 219.5 597.3 219.6 599.6 218.8 605.3 214.5 607.6 212.3 613.3 205.5 616.1 203 623.5 199.6 626.3 198.8 629.2 198.5 634.9 198.8 641.1 199.6 645.1 201 648.5 202.9 649.7 204.3 650.8 206.7 654.2 215.8 659.3 228.3 660.5 230.2 661.6 231.2 662.7 231.1 663.9 230.5 669 225.5 675.2 220.6 678.7 218.4 683.2 216.4 693.4 212.7 703.1 207.5 705.4 206.6 707.7 206.1 709.9 206.1 712.2 207 727.6 216.3 734.4 218.7 739.5 220" stroke="#C0163A"/>
<path d="M445.5 228.3 457.4 227 465.4 225.5 467.1 224.5 470.5 220.9 472.8 219.3 473.9 219 477.3 219.5 481.3 220.6 485.3 222 489.9 224.2 492.7 224.2 495.5 223.3 496.1 222.8 496.7 218.5 499.5 168.7 500.1 162.5 500.7 160.3 501.2 159.5 503.5 157.4 506.3 155.4 508.1 154.5 510.9 153.7 517.7 152.4 525.7 151.9 528 152.2 533.1 153.6 535.3 153.7 538.2 152.5 543.9 148.4 545.6 147.7 546.7 147.5 550.1 147.9 554.7 149.2 556.4 150.4 560.4 154.2 562.1 155.2 564.9 155.2 571.7 153.3 574.6 153.1 576.3 153.5 578.6 154.7 579.7 155.4 580.8 156.8 583.1 162 585.4 169.4 588.8 188.3 593.4 210.4 595.1 216.6 596.2 218.6 596.8 218.8 597.9 218.4 599.6 216.8 612.1 198.3 615.5 194.4 619.5 191.8 623.5 189.6 626.9 188.5 629.7 188.2 636 188.7 641.7 189.8 645.7 191.6 647.9 193.2 649.1 194.5 651.4 200.3 659.3 226.8 660.5 229.5 661.6 230.9 662.7 230.8 664.4 229.9 669 225.9 675.2 221.1 678.7 218.9 683.2 216.9 693.4 213.3 703.1 208.2 705.4 207.3 707.7 206.8 709.9 206.9 712.2 207.7 727.6 216.8 734.4 219.1 739.5 220.4" stroke="#0A72C4"/>
<path d="M445.5 226.3 453.5 225.4 458.6 224.5 462 223.5 464.8 222.1 466.5 220.7 470 212.9 472.2 209.3 473.4 208.2 475.6 208.3 480.2 209.4 484.7 211.2 488.7 213.5 490.4 214.1 493.3 213.8 495 213.2 495.5 212.7 496.7 202.9 498.4 176.7 499.5 163.6 500.1 161.2 501.2 158.6 502.4 156.9 503.5 156 505.8 154.5 508.1 153.7 520.6 153.3 526.3 154.1 532.5 156.6 535.3 157 538.2 156.2 543.9 153.5 546.7 152.9 550.1 153.4 554.7 155.1 560.4 159.8 562.1 160.7 564.9 160.7 571.7 158.9 574.6 158.7 576.3 159.1 578.6 160.2 579.7 160.9 580.8 162.2 583.1 167 585.4 173.9 588.8 191.5 593.4 212.7 595.1 218.7 596.2 220.7 596.8 220.8 598.5 220.4 601.3 218.5 606.4 214 613.3 206.2 616.1 203.9 624.1 200.4 626.9 199.7 629.7 199.5 636 199.9 641.7 200.7 645.7 202.1 647.9 203.3 649.1 204.3 650.8 207.5 658.7 227.4 660.5 230.6 661.6 231.6 662.7 231.5 663.9 231 669 227 675.2 222.8 678.7 220.9 683.2 219.1 693.4 215.9 703.1 211.4 707.7 210.2 709.9 210.2 712.2 211 727.6 219.1 734.4 221.2 739.5 222.3" stroke="#E8561A"/>
<path d="M445.5 225.2 454 224.1 459.1 223 462 221.6 464.3 219.6 466.5 216.4 470 202.6 472.2 196.4 473.4 194.5 473.9 194.2 475.1 194.5 477.3 195.7 481.3 199.2 485.3 203.7 488.1 208.5 489.9 210.7 491 211.2 492.1 211.1 495.5 210 496.1 207.7 496.7 202.4 499.5 166.3 500.1 163.7 500.7 162.6 501.8 161 504.1 159.1 506.3 157.7 508.6 156.9 514.3 155.9 518.9 155.6 526.3 155.8 533.1 157.9 535.3 158 538.2 157.1 543.9 153.7 546.7 152.9 550.1 153.4 554.7 154.8 556.4 156 560.4 159.5 562.1 160.4 564.9 160.4 571.7 158.6 574.6 158.5 576.3 158.8 578.6 159.9 579.7 160.6 580.8 161.9 583.1 166.8 585.4 173.7 588.8 191.3 593.4 212.6 595.1 218.6 596.2 220.6 596.8 220.7 597.9 220.5 600.2 218.7 607 211.1 612.7 204 615.5 201.3 619.5 199 623.5 197.3 626.9 196.3 629.7 196.1 636 196.5 641.7 197.4 645.7 198.9 647.9 200.3 649.1 201.3 650.8 204.7 659.3 228.2 660.5 230.4 661.6 231.5 662.7 231.5 663.9 231 669 226.8 675.2 222.5 678.7 220.6 683.2 218.8 693.4 215.6 703.1 211 707.7 209.7 709.9 209.7 712.2 210.5 727.6 218.8 734.4 220.9 739.5 222" stroke="#F0AC1C"/>
<path d="M445.5 233.1 459.1 232.3 461.4 231.5 463.7 229.9 466.5 226.7 470 215 472.2 209.7 473.4 208 473.9 207.8 477.3 208.8 481.3 211.2 485.3 214.2 488.1 217.5 489.9 219 491 219.3 492.1 219.3 495.5 218.2 496.1 216.3 496.7 210.8 499.5 169.3 500.1 165.9 501.8 164 505.8 161.2 508.1 160 516 158.2 526.3 157.7 533.1 159.2 535.9 159.3 538.2 158.3 543.9 154.5 546.7 153.6 550.1 154 554.7 155.2 556.4 156.3 560.4 159.9 562.1 160.8 564.9 160.8 571.7 159.1 574.6 158.9 576.3 159.3 578.6 160.3 579.7 161 580.8 162.3 583.1 167.1 585.4 174 588.8 191.6 593.4 212.8 595.1 218.7 596.2 220.7 596.8 220.9 597.9 220.5 599.6 219.2 612.1 203.2 615.5 199.7 619.5 197.4 623.5 195.5 626.9 194.5 629.7 194.3 636 194.7 641.7 195.7 645.7 197.3 647.9 198.7 649.1 199.7 650.8 203.3 659.3 228 660.5 230.4 661.6 231.6 662.7 231.5 663.9 231 669 226.8 675.2 222.5 678.7 220.6 683.2 218.8 693.4 215.6 703.1 211 707.7 209.7 709.9 209.8 712.2 210.5 727.6 218.8 734.4 220.9 739.5 222" stroke="#8A2E96"/>
<path d="M445.5 232.6 459.1 231.8 461.4 230.7 463.7 228.4 466.5 223.8 470 207.2 472.2 199.7 473.4 197.4 473.9 197 475.1 197.5 477.3 199.7 479.1 201.8 481.3 205.5 485.3 213.1 488.1 221.3 489.9 225.1 490.4 225.7 491.6 225.9 493.8 225.4 495.5 224.7 496.1 221.9 496.7 215.5 499.5 170 500.1 166.8 501.8 163.8 503.5 162.3 505.8 160.9 509.2 159.9 516.6 159.1 523.4 159.1 526.8 159.5 532.5 161.4 535.3 161.7 538.2 160.8 543.9 157.8 546.7 157.2 550.1 157.6 554.7 159.1 560.4 163.5 562.1 164.4 564.9 164.4 571.7 162.7 574.6 162.5 576.3 162.9 578.6 163.9 579.7 164.6 580.8 165.8 583.1 170.4 585.4 177 593.4 214.2 595.1 220.1 596.2 222 597.3 222.2 599.6 221.6 605.9 218.3 608.1 216.4 613.3 211.3 616.1 209.2 624.1 206.2 627.5 205.6 630.3 205.5 636.6 205.9 642.3 206.7 646.2 207.9 649.1 209.5 650.8 212.2 654.2 219.7 658.7 228.7 660.5 231.3 661.6 232 662.7 232 663.9 231.6 669 228.1 675.2 224.4 678.7 222.8 683.2 221.2 693.4 218.5 703.1 214.5 707.7 213.3 709.9 213.4 712.2 214.1 727.6 221.3 734.4 223.1 739.5 224.1" stroke="#72B030"/>
<path d="M445.5 225.4 458 223.5 462.6 222.5 465.4 221.4 467.1 220.1 470 215.4 472.2 213 473.4 212.2 479.6 212.4 491 213.5 493.3 213.2 495.5 212.4 496.1 210.8 496.7 206.4 499 177.3 500.1 168.1 501.8 164.3 502.9 162.9 504.1 162.1 506.3 160.9 508.1 160.5 521.1 160.2 526.3 160.9 532.5 163.3 535.3 163.6 538.2 162.9 543.9 160.4 546.7 159.8 550.1 160.4 554.7 161.9 560.4 166.2 562.1 167 564.9 167 571.7 165.4 574.6 165.2 576.3 165.6 578.6 166.6 579.7 167.2 580.8 168.4 583.1 172.8 585.4 179.2 593.4 215.3 595.1 221.1 596.2 223 596.8 223.2 597.9 222.9 600.7 221.2 607 215.7 613.3 209.1 615.5 207.4 620.1 205.3 624.1 203.9 627.5 203.2 630.3 203.1 636.6 203.5 642.3 204.3 646.2 205.7 649.1 207.4 650.8 210.2 659.3 229.6 660.5 231.4 661.6 232.4 662.7 232.3 664.4 231.7 669 228.8 678.7 224 693.4 220.2 703.1 216.5 707.7 215.5 709.9 215.5 712.2 216.1 727.6 222.8 734.4 224.4 739.5 225.3" stroke="#3CB8EC"/>
<path d="M445.5 228.7 454 228 459.1 227.2 461.4 226 463.7 223.8 465.4 221.5 466.5 219.3 470 202.9 472.2 195.5 473.4 193.2 473.9 192.9 475.1 193.4 477.3 195.8 479.1 198.1 481.3 202.2 485.3 210.5 488.1 219.5 489.9 223.6 490.4 224.3 491.6 224.5 493.3 224.2 495.5 223.3 496.1 220.8 496.7 214.7 499 178.7 499.5 172.6 500.1 169.9 501.2 168.7 506.3 165.5 510.3 164 517.2 162.7 525.1 162.1 528 162.4 533.1 163.5 535.3 163.6 538.2 162.5 543.9 158.8 546.7 158 550.1 158.3 554.7 159.4 556.4 160.5 560.4 163.8 562.1 164.7 564.9 164.7 571.7 163 574.6 162.9 576.3 163.2 578.6 164.2 579.7 164.9 580.8 166.1 583.1 170.7 585.4 177.2 593.4 214.4 595.1 220.2 596.2 222.1 597.3 222.3 599.6 221.8 605.9 219.1 608.1 217.4 613.8 211.9 616.1 210.3 620.6 208.5 624.6 207.3 628 206.8 631.5 206.8 642.3 207.9 646.2 209.1 649.1 210.6 650.8 213.2 654.2 220.4 658.7 228.9 660.5 231.3 661.6 232.1 663.3 232 666.1 231.2 679.2 225.8 693.4 222.6 703.1 219.5 707.7 218.6 709.9 218.6 712.2 219.2 727.6 224.8 734.4 226.2 739.5 227" stroke="#C0163A"/>
<path d="M445.5 233.3 459.1 232.5 461.4 231.4 463.7 228.8 465.4 226.1 466.5 223.7 470 205.3 472.2 197.1 473.4 194.5 473.9 194.1 475.1 194.6 477.3 196.8 479.1 199.1 481.3 202.9 485.3 210.8 488.1 219.3 489.9 223.2 490.4 223.8 491.6 224 493.3 223.6 495 222.8 495.5 220.2 496.1 214.2 498.4 179.4 499 173.9 499.5 172 500.7 172.7 502.4 174.6 503.5 174.8 504.6 174.1 508.6 170.2 512.6 168 517.2 165.9 525.1 162.8 533.6 161.8 535.9 161.1 538.2 159.3 543.9 153.4 545.6 152.4 546.7 152.2 554.1 152.2 555.3 152.5 557 153.7 560.9 157.5 562.6 158.3 564.9 158.2 571.2 156.5 574 156.2 576.9 156.8 580.3 159 582.5 163.3 584.8 169.7 593.4 211.7 595.1 217.8 596.2 219.7 597.3 219.9 599.6 219.3 605.9 215.6 608.1 213.5 613.3 207.7 616.1 205.3 620.6 203.2 624.6 201.8 627.5 201.2 630.9 201.1 637.7 201.6 642.3 202.4 646.2 203.8 649.1 205.7 650.8 208.7 654.2 217.3 658.7 227.5 660.5 230.4 661.6 231.3 663.3 231.1 665 230.3 675.8 223.7 679.2 222 693.4 217.6 703.1 213.5 707.7 212.3 709.9 212.4 712.2 213 727.6 220.5 734.4 222.4 739.5 223.4" stroke="#0A72C4"/>
<path d="M445.5 228.4 453.5 227.7 459.1 226.8 462 226 464.8 224.6 466.5 223.2 467.1 222.2 470 215.5 471.7 212.9 472.8 211.4 473.9 210.9 477.3 211.9 481.3 214.4 485.3 217.5 488.1 220.9 489.9 222.5 491 222.8 492.1 222.7 495.5 221.6 496.1 218.9 496.7 213 499 180.5 499.5 175.5 500.1 174 503.5 174.5 504.6 173.9 508.1 171.1 509.8 170.2 514.9 168.4 522.8 166.2 525.1 165.8 535.9 165.7 538.2 164.4 543.9 159.6 545.6 158.7 546.7 158.5 554.7 159.2 556.4 160.2 560.9 164 562.6 164.7 565.5 164.5 571.7 162.9 574.6 162.7 576.3 163.1 578.6 164.1 579.7 164.8 580.8 166 583.1 170.6 585.4 177.1 593.4 214.3 595.1 220.2 596.2 222.1 596.8 222.3 597.9 221.9 599.6 220.4 604.2 213.9 611 205.2 615 200.9 618.9 198.5 623.5 196.4 626.9 195.4 629.7 195.2 635.4 195.6 641.7 196.6 645.7 198.1 647.9 199.5 649.1 200.5 651.4 205.5 659.3 228.5 660.5 230.9 661.6 232 662.7 232 663.9 231.5 669 227.6 675.2 223.7 678.7 222 683.2 220.4 693.4 217.5 703.1 213.3 707.7 212.1 709.9 212.2 712.2 212.9 727.6 220.5 734.4 222.4 739.5 223.4" stroke="#E8561A"/>
<path d="M445.5 226.5 454 225.6 459.1 224.6 461.4 223.3 464.3 220.1 466.5 215.9 470 197.9 472.2 189.8 473.4 187.2 473.9 186.8 475.1 187.4 477.3 190.2 479.1 192.9 481.3 197.6 485.3 207.2 488.1 217.6 489.9 222.3 490.4 223.1 491 223.4 493.3 223.1 495.5 222.3 496.1 220.7 496.7 215.9 499 184.9 499.5 179.2 500.1 176.2 501.2 175.1 506.3 172.2 510.3 170.8 517.2 169.5 524.5 169 527.4 169.1 533.1 170.1 535.3 170.2 538.2 169.2 543.9 165.7 546.7 164.9 550.1 165.2 554.7 166.2 556.4 167.1 560.4 170.2 562.1 171 564.9 171 571.7 169.5 574.6 169.3 576.3 169.7 578.6 170.6 579.7 171.2 580.8 172.3 583.1 176.5 585.4 182.5 593.4 217 595.1 222.6 596.2 224.4 597.3 224.6 599.6 223.9 605.3 220.7 607.6 219.1 613.3 214.1 616.1 212.2 624.1 209.6 627.5 209.1 630.3 209 636.6 209.3 642.3 210.1 646.2 211.1 649.1 212.5 650.8 214.9 658.7 229.8 660.5 232.1 661.6 232.9 662.7 232.8 664.4 232.3 669 230 678.7 226 693.4 222.8 703.1 219.7 707.7 218.8 709.9 218.8 712.2 219.3 727.6 225 734.4 226.4 739.5 227.1" stroke="#F0AC1C"/>
<path d="M445.5 233.2 459.1 232.4 462 231.8 464.3 230.8 466.5 229.3 470 222.6 472.2 219.7 473.4 218.7 473.9 218.6 477.3 219.3 481.3 220.9 485.3 222.9 489.9 226.1 492.1 226.1 494.4 225.2 495 223.8 495.5 219.1 497.8 187.6 499 178.4 500.1 177.4 506.9 174 510.3 172.9 517.2 171.8 525.1 171.3 528 171.5 533.1 172.5 535.3 172.6 538.2 171.6 543.9 168.3 546.7 167.6 550.1 167.9 554.7 168.9 556.4 169.8 560.4 172.8 562.1 173.5 564.9 173.5 571.7 172.1 574.6 171.9 576.3 172.3 578.6 173.1 579.7 173.7 580.8 174.8 583.1 178.8 585.4 184.6 593.4 218.1 595.1 223.6 596.2 225.4 596.8 225.6 597.9 225.3 599.6 224.1 604.2 219.1 611.6 211.6 615 208.7 618.9 206.8 623.5 205.2 626.9 204.4 629.7 204.3 635.4 204.6 641.7 205.4 645.7 206.6 649.1 208.4 651.4 212.3 659.3 230.4 660.5 232.2 661.6 233.2 663.9 232.7 669 229.6 678.1 225.7 693.4 222.3 703.1 219 707.7 218.1 709.9 218.1 712.2 218.7 727.6 224.6 734.4 226 739.5 226.7" stroke="#8A2E96"/>
<path d="M445.5 229.3 454 228.6 459.1 227.9 461.4 226.7 463.7 224.5 465.4 222.1 466.5 219.9 470 203.3 472.2 195.8 473.4 193.5 473.9 193.2 475.6 193.8 478.5 195.9 480.8 198.4 484.7 203.5 488.7 211.2 489.9 212.7 490.4 213.2 491.6 213.3 493.8 213 496.1 212.3 496.7 212.1 497.2 210.1 500.1 184.4 500.7 181.1 501.2 180.2 503.5 180.6 504.6 180.1 508.1 177.5 509.8 176.8 514.9 175.1 522.8 173.1 525.1 172.8 535.9 172.6 538.2 171.5 543.9 167.1 545.6 166.3 546.7 166.2 554.7 166.8 556.4 167.6 560.9 171.1 562.6 171.7 565.5 171.5 571.7 170.1 574.6 170 576.3 170.3 578.6 171.2 579.7 171.8 580.8 172.9 583.1 177.1 585.4 183 593.9 219.4 595.6 224 596.2 224.7 596.8 224.9 598.5 224.5 600.7 223.1 606.4 218.7 612.7 212.9 615.5 210.8 623.5 207.9 626.3 207.2 629.2 207 634.9 207.3 641.7 208.1 645.7 209.1 649.1 210.8 650.8 213.3 659.3 230.5 660.5 232.1 661.6 232.9 662.7 232.9 663.9 232.3 669 228.4 674.1 225.6 678.1 223.8 682.6 222.4 693.4 219.8 703.1 216 707.7 215 709.9 215 712.2 215.6 727.6 222.5 734.4 224.1 739.5 225" stroke="#72B030"/>
<path d="M445.5 226.4 453.5 225.5 459.1 224.5 462 223.6 464.8 221.9 466.5 220.3 467.1 219.2 470 211.5 471.7 208.4 472.8 206.7 473.9 206.1 475.1 206.3 477.3 207.5 481.3 210.8 485.3 215 488.1 219.6 489.9 221.6 491 222.1 492.1 222 495.5 221.1 496.1 220.8 496.7 218.3 499.5 187 500.1 183.2 500.7 182.3 502.4 184.8 502.9 185.3 503.5 185.2 504.6 184.6 508.6 181.2 517.2 177.2 525.1 174.3 533.6 173.1 535.9 172.5 538.2 170.9 542.7 166.6 545 165 546.7 164.6 554.1 164.4 556.4 165.3 560.4 168.6 562.1 169.5 564.9 169.6 571.7 168 574.6 167.9 576.3 168.2 578.6 169.1 579.7 169.8 580.8 170.9 583.1 175.2 585.4 181.3 593.4 216.4 595.1 222.1 596.2 223.9 596.8 224.1 597.9 223.8 600.2 222.3 612.7 209.6 615.5 207.3 620.1 205.2 624.1 203.8 627.5 203.1 630.9 203 637.1 203.5 642.3 204.3 646.2 205.6 649.1 207.3 650.8 210.1 659.3 229.9 660.5 231.7 661.6 232.7 663.3 232.6 665 232.1 679.2 226.9 693.4 224.1 703.1 221.2 707.7 220.4 709.9 220.4 712.2 220.9 727.6 226.1 739.5 228" stroke="#3CB8EC"/>
<path d="M445.5 224.8 453.5 223.8 459.1 222.6 462 221.5 464.8 219.6 466.5 217.8 467.1 216.5 470 207.7 471.7 204.2 472.8 202.3 473.9 201.5 475.1 201.8 477.3 203.2 481.3 207.1 485.3 212.2 488.1 217.7 489.9 220.2 491 220.7 492.1 220.7 496.7 219.6 497.2 217.9 497.8 213.8 500.1 189.6 500.7 185.7 501.2 184.3 502.9 185.9 503.5 185.8 504.6 185.3 508.6 182.3 517.2 179.2 525.1 177.1 533.6 176.5 535.9 176.2 538.2 174.9 543.9 170.3 545.6 169.6 547.3 169.4 554.1 169.6 555.3 169.9 560.9 173.8 562.6 174.5 565.5 174.3 571.7 172.9 574.6 172.8 576.3 173.1 578.6 174 579.7 174.5 580.8 175.6 583.1 179.6 585.4 185.2 593.9 220.5 595.6 225 596.2 225.7 596.8 225.9 597.9 225.5 599.6 224.2 604.7 217.9 611.6 210.7 615 207.8 618.4 206.1 622.9 204.3 626.3 203.4 629.2 203.2 634.9 203.5 641.7 204.4 645.7 205.5 649.1 207.4 651.4 211.5 659.3 230.3 660.5 232.3 661.6 233.2 662.7 233.2 663.9 232.7 669 229 677.5 225 682.1 223.7 693.4 221.1 703.1 217.6 707.7 216.6 709.9 216.7 712.2 217.2 727.6 223.6 734.4 225.2 739.5 225.9" stroke="#C0163A"/>
<path d="M445.5 227.1 453.5 226.3 458.6 225.5 461.4 224.6 464.3 223.1 466.5 221.1 470 212.1 472.2 208.1 473.4 206.8 473.9 206.6 475.1 206.9 477.3 208.1 481.3 211.3 485.3 215.5 488.1 220 489.9 222 490.4 222.3 491.6 222.4 495 221.4 495.5 220.7 496.1 217.7 498.4 195.4 499.5 188.6 500.1 188.4 502.4 190.2 503.5 190.4 504.6 189.9 508.6 187 517.2 183.8 525.1 181.6 533.6 180.8 535.9 180.4 538.2 179 543.9 174.7 545.6 173.9 547.9 173.8 554.1 173.8 555.3 174 560.9 177.8 562.6 178.4 565.5 178.2 571.7 176.9 574.6 176.8 578.6 177.9 579.7 178.4 580.8 179.4 583.1 183.2 585.4 188.5 593.9 222.1 595.6 226.5 596.2 227.1 596.8 227.3 598.5 227 600.7 225.8 607 221.7 613.3 216.9 615.5 215.6 623.5 213.2 626.9 212.6 629.7 212.5 636 212.8 642.3 213.5 646.2 214.4 649.1 215.6 650.8 217.7 659.3 231.8 660.5 233.1 661.6 233.7 663.9 233.3 669 230.1 677.5 226.8 682.1 225.7 693.4 223.6 703.1 220.6 707.7 219.8 709.9 219.8 712.2 220.3 727.6 225.8 734.4 227.1 739.5 227.7" stroke="#0A72C4"/>
<path d="M445.5 228.8 454 228.1 459.1 227.3 462 226.3 464.3 224.8 466.5 222.5 470 212.3 472.2 207.8 473.4 206.4 475.1 206.3 480.2 207.5 484.7 209.1 488.7 211.3 490.4 211.9 492.7 211.6 495 210.6 496.1 206.9 498.4 194.7 499 192.9 499.5 192.5 500.1 192.8 502.4 195.4 503.5 195.6 505.2 194.7 508.6 192.1 517.2 188.5 525.1 185.8 533.6 184.6 535.9 183.9 538.2 182.5 542.7 178.8 545 177.4 546.7 177 554.1 176.7 556.4 177.5 560.4 180.2 562.1 181 564.9 181 571.7 179.7 574.6 179.6 578.6 180.7 579.7 181.2 580.8 182.1 583.1 185.7 585.4 190.7 593.9 223.2 595.6 227.5 596.2 228.1 596.8 228.3 599 227.8 601.9 226.5 606.4 224.1 612.7 219.8 615.5 218.2 623.5 216.2 629.7 215.6 642.3 216.4 646.2 217.2 649.1 218.3 650.8 220.1 658.7 231.7 660.5 233.5 661.6 234.1 663.9 233.7 669 231.1 676.9 228.6 682.1 227.6 693.4 225.9 703.7 223.2 707.7 222.6 709.9 222.7 712.2 223.1 727.6 227.7 739.5 229.3" stroke="#E8561A"/>
<path d="M445.5 228.9 454 228.2 459.1 227.4 462 226.6 464.3 225.4 466.5 223.5 470 215.1 472.2 211.4 473.4 210.2 473.9 210.1 475.1 210.3 477.3 211.4 481.3 214.4 485.3 218.3 488.1 222.5 489.9 224.4 491 224.8 493.3 224.3 495 223.4 495.5 221.3 498.4 199.8 499 197.3 499.5 196.4 506.9 193.7 510.9 192.9 517.7 192.1 525.7 191.9 535.3 192.8 538.2 192.2 544.4 189.8 547.3 189.5 554.7 190.3 562.1 193.5 564.9 193.5 571.7 192.5 574.6 192.4 578.6 193.2 580.8 194.4 583.1 197.2 585.4 201.1 589.9 214.3 593.9 227.5 595.6 231.2 596.8 231.9 598.5 231.6 600.2 231 612.1 224.8 615 223.6 622.9 222 629.7 221.5 642.8 222.3 649.1 223.4 650.8 224.7 654.2 228.5 658.7 232.7 660.5 233.8 661.6 234.2 663.9 234.1 678.1 232 694 230.9 704.2 229.3 708.2 229 712.2 229.3 727 232.1 739.5 232.9" stroke="#F0AC1C"/>
<path d="M445.5 229.9 454 229.3 459.1 228.6 461.4 227.7 464.3 225.5 466.5 222.7 470 210.6 472.2 205.1 473.4 203.4 473.9 203.1 475.1 203.4 477.3 204.7 481.3 208.2 485.3 212.7 488.1 217.6 489.9 219.8 491 220.3 493.3 220.1 496.7 219.1 497.2 218 500.1 203.1 500.7 201.3 501.2 200.7 502.9 202.7 503.5 202.6 504.6 202.3 508.6 200 517.2 197.3 525.1 195.4 535.9 194.2 538.2 193.2 542.7 190.3 545 189.3 546.7 189 554.1 188.9 556.4 189.5 560.4 191.7 562.1 192.3 564.9 192.3 571.7 191.3 574.6 191.2 576.9 191.5 579.7 192.4 581.4 193.8 583.7 196.9 585.4 200.1 589.9 213.6 593.9 227.3 595.6 231.2 596.2 231.8 596.8 231.9 597.9 231.7 599.6 230.9 604.7 227 611.6 222.8 614.4 221.4 616.7 220.6 622.4 219.4 629.2 218.7 642.8 219.6 646.8 220.3 649.1 221 650.8 222.5 658.7 232.2 660.5 233.7 661.6 234.2 663.3 234 668.4 232.2 674.7 231 680.4 230.2 693.4 229 704.2 226.9 708.2 226.5 712.2 226.9 727 230.4 739.5 231.5" stroke="#8A2E96"/>
<path d="M445.5 226.2 459.1 226.2 460.3 226 463.1 224.3 470 218.3 471.7 217.4 472.8 217.1 474.5 217.2 476.8 218.1 485.3 224.4 487.6 225.6 489.3 226.1 491 226.1 492.7 225 494.4 222.5 495.5 220.1 497.2 215.1 497.8 206.9 500.1 109.2 501.8 80.4 502.9 66.5 504.1 56.6 505.2 51.6 506.3 50.2 508.1 48.8 510.3 47.7 516 45.8 520 44.8 523.4 44.3 525.7 44.2 526.8 44.8 528 46.2 531.9 52.6 533.1 53.6 533.6 53.7 535.3 53.3 537.1 52 543.3 45 545.6 43 547.3 42.4 549.6 42.8 551.3 43.9 553 45.6 554.7 47.6 555.3 48.9 556.4 53.5 559.2 69.1 560.4 73.2 560.9 74.1 562.1 74.2 563.8 73.6 570 70 572.9 68.9 574 68.8 575.2 69.3 576.9 71.7 578.6 75.5 582.5 85.8 584.8 94.5 586.5 107.1 589.9 142.1 593.9 175.4 595.6 185.5 596.2 187.1 596.8 187.5 597.9 187.1 599 186 601.3 182.6 606.4 172.1 611.6 162.8 618.9 147.3 622.4 141.1 624.6 138 626.3 136.3 628 135.3 629.7 135.1 632 135.5 634.9 136.6 637.1 138.1 640 140.7 645.1 146.9 650.8 156 651.9 159.9 653.1 166.1 658.7 208.3 660.5 216.7 661.6 219.2 662.7 219.3 663.9 218.9 666.7 216.7 669 214 677.5 202.5 691.2 190 698.6 184.2 702 182.3 704.8 181.2 708.2 180.6 713.3 181 717.9 182 722.4 183.7 727 186.1 731 188.9 735.5 192.9 739.5 197.1" stroke="#C0163A"/>
<path d="M445.5 225.9 451.2 223.1 456.3 219.6 459.7 216.3 462 212.3 470.5 190.9 472.8 186.6 479.6 175.1 485.3 162.4 494.4 137.7 499 123.8 509.8 92.6 513.7 82.5 517.7 74.3 520 70.7 522.3 67.8 530.2 59.6 539.3 49.1 543.3 45.5 546.7 43.7 547.9 43.5 549.6 43.9 554.7 47.7 556.4 48.6 557.5 48.7 559.8 48.4 563.2 46.9 564.4 45.3 567.2 39.9 568.9 38.2 571.7 36.4 574.6 35.1 576.9 34.8 578 35.3 579.1 36.5 580.8 39.3 586 51 591.1 67.3 592.8 71.6 596.8 78.6 597.9 79.9 599 80.5 600.2 80.5 601.3 80 607 74.3 612.1 71.2 620.6 60.8 624.1 58.6 626.9 57.3 629.2 56.9 630.9 57.6 632.6 59.4 637.1 65.8 638.3 66.9 639.4 67.6 641.7 67.3 647.9 64.1 649.7 63.6 650.8 63.6 651.4 64.2 652.5 66.4 654.8 73.3 657.6 90.7 658.7 95.2 662.7 106.3 664.4 109.7 666.1 111.8 667.3 112.3 667.8 112.2 669.6 110.8 671.3 108 674.7 101 676.4 98.1 678.1 96.5 679.2 96.4 680.4 97 681.5 98.1 687.2 106.6 689.5 108.9 690.6 109.3 693.4 109 703.1 106 707.1 105.5 708.2 106.3 709.4 107.9 713.9 117 715.6 119.2 716.8 119.6 727.6 119.6 729.3 119.8 731.5 120.8 735.5 123.1 739.5 126.1" stroke="#72B030"/>
<path d="M445.5 228.2 455.2 226.9 459.1 226.2 460.3 225.6 463.1 222.5 469.4 212.9 471.1 211.2 472.8 210.3 474.5 210.5 476.8 211.8 479.1 214 485.3 221.2 487 222.7 488.7 223.6 490.4 223.9 491.6 223.3 492.7 221.7 493.8 219.1 495.5 213 497.2 203.9 497.8 193.5 500.1 99.1 500.7 81.4 501.8 69.1 502.9 61.5 504.1 57.9 506.9 57 512 56.5 515.4 56.5 518.9 57.3 522.3 58.8 526.3 61.2 530.2 66.2 533.6 72.7 534.8 73.5 537.1 73.1 538.2 72.5 543.3 67.2 544.4 66.3 545.6 65.8 547.3 66 549.6 67.2 551.3 68.7 553.5 71.6 554.1 72.7 555.3 77 562.6 113.9 564.9 122.5 567.2 126.8 573.4 134.3 579.7 143.9 583.1 150.4 586 157.7 588.2 168.9 593.4 200.9 595.1 207.8 596.2 210.1 596.8 210.3 597.9 210.1 599.6 209.3 603 206.2 607.6 199.6 617.2 181.9 621.2 175.5 623.5 172.7 625.8 170.6 628 169.4 629.7 169.3 634.9 170.1 640 172.2 645.7 176.1 650.8 180.9 651.9 183.6 653.6 190.9 657.6 214.1 659.3 222.6 660.5 226.5 661.6 228.4 663.9 228.4 666.7 227.8 672.4 225.6 678.7 221.8 690.6 213.3 695.7 210 700.8 207.4 705.9 205.9 708.8 205.7 713.9 206 722.4 207.5 731 210.5 739.5 215" stroke="#72B030"/>
<path d="M445.5 230.4 454.6 229.3 459.1 228.5 460.3 228 463.1 225.3 469.4 217.1 471.1 215.6 472.8 214.8 475.1 215.2 477.3 216.5 484.7 223.4 488.1 225.7 489.9 226.2 491 225.9 492.7 223.4 494.4 218.2 496.1 210.4 497.2 203.9 497.8 196.2 500.7 103.8 502.4 85.9 503.5 78.5 504.1 76.6 504.6 76.2 505.8 76.1 510.9 75.6 513.7 75.7 515.4 76.2 518.3 78 520.6 80.2 522.3 84.6 525.7 96.3 533.1 115.6 537.1 123.7 539.9 128.2 543.3 132.8 555.8 146.9 562.6 153.5 567.2 156.6 574.6 159.5 577.4 160.9 579.7 162.5 580.8 164 582.5 168.2 584.3 173.9 589.9 198.1 592.2 206.7 594.5 212.7 596.2 214.7 597.9 214.7 600.2 213.9 602.5 212.5 604.7 210.6 608.7 206.4 618.4 194.6 622.9 190.2 625.2 188.7 626.9 187.9 628.6 187.5 630.3 187.5 635.4 188.3 640.6 190.2 645.7 193 650.8 196.8 651.9 198.8 653.1 202 659.3 226.6 660.5 229.3 661.6 230.7 666.7 230.3 672.4 228.7 678.7 226.1 695.7 217.8 700.8 216 705.4 215.1 708.2 214.8 713.3 214.9 722.4 215.8 731 217.6 739.5 220.3" stroke="#72B030"/>
<path d="M445.5 209.7 453.5 202.9 456.9 199.2 459.7 195.6 462.6 190.3 468.8 176.5 472.8 169.6 473.9 168.4 474.5 168.1 475.6 168.4 479.1 171 480.2 171.5 489.3 172.6 491.6 172.7 492.1 172.1 492.7 170 493.8 162.8 496.7 138.9 499 127.2 500.7 119.8 502.4 114 507.5 102.3 510.3 97 513.7 91.7 517.2 87.3 520.6 83.7 524 81 531.4 76.5 539.9 69.7 542.2 68.3 544.4 67.5 548.4 67.5 553 68 554.7 69.2 559.8 74.2 560.9 74.9 562.1 75.1 563.2 74.7 564.4 73.6 568.9 67.8 571.7 66.3 574 65.4 576.3 65.1 578.6 65.7 580.3 66.8 582.5 71.1 587.7 84.1 589.9 90.7 591.6 96.8 595.1 115.4 596.2 118.8 596.8 119.1 597.9 118.9 599.6 118 606.4 113.1 617.8 102.5 621.8 99.2 625.8 97 628 96.4 629.7 96.4 630.9 97.1 632 98.4 636 104.6 638.3 107 639.4 107.3 641.1 107 646.2 104.9 648.5 104.3 649.7 104.5 650.2 105.3 651.4 108.2 652.5 112.7 658.2 140.9 659.9 145.7 661.6 147.1 666.1 149.2 668.4 149.6 669.6 149.5 670.7 148.7 671.8 147.3 676.9 138.6 678.1 137.6 679.2 137.4 680.4 137.8 682.1 139.5 687.8 148.4 689.5 150.5 690.6 151.4 692.3 151.7 694.6 151.1 703.7 146.2 705.9 145.5 707.7 145.4 708.8 146 709.9 147.4 714.5 155.3 716.8 158.1 721.9 159.7 728.1 161.2 733.8 162.1 739.5 162.6" stroke="#0A72C4"/>
<path d="M445.5 223.1 450 221.8 454 220.1 458.6 217.4 459.7 216 461.4 209.9 466 186.3 467.7 181.5 470.5 175.1 475.1 167.1 485.3 151.7 496.1 132.3 498.4 129.1 502.9 123.8 505.8 119.4 516.6 99.1 521.1 91.7 526.8 85.2 529.7 82.7 531.9 81.2 539.9 77.3 549.6 73.7 552.4 72.9 554.1 73 555.8 73.9 562.1 80.8 563.8 82.2 564.9 82.6 566.1 82.6 567.2 82 571.7 77.3 573.4 76.3 575.2 76.4 576.9 76.8 579.1 77.8 580.3 78.7 582 82.1 586 93.8 591.6 116.8 593.4 122.4 595.1 125.8 597.9 128.2 600.2 129.6 601.9 130.2 603.6 130.5 607.6 130 612.1 128.5 622.4 124 625.2 123.1 628 122.6 629.7 122.6 631.5 122.9 638.8 126.6 641.7 127.3 644 127 649.1 124.8 650.8 124.6 651.9 126.7 653.1 131.2 658.2 163.7 659.9 172 662.2 177.7 664.4 182.6 666.1 185.4 667.8 187.1 669 187.5 669.6 187.3 670.7 186.1 672.4 182.6 676.4 172.3 678.1 169.6 679.2 169.3 680.4 169.5 682.1 170.4 689.5 176.8 692.3 178.3 694 178.3 696.3 177.9 704.2 174.7 707.7 173.9 713.3 174.1 719 175.4 724.1 177.4 729.3 180.3 734.4 184 739.5 188.6" stroke="#0A72C4"/>
<path d="M445.5 225.5 452.3 223.9 459.1 221.6 460.9 220.6 463.1 218.5 467.1 213.2 478.5 195.1 482.5 188.3 485.3 182.8 490.4 170.5 493.3 162 495 155.8 496.7 145.2 500.7 112.8 502.4 102.9 505.2 95.7 509.2 88.1 512 84.5 513.7 83.2 514.9 82.8 517.2 82.9 519.4 83.9 522.3 86 529.1 92.1 531.4 93.4 533.6 94 535.3 93.7 537.1 92.6 542.2 87.6 543.9 86.3 545.6 85.7 547.3 85.9 549 87.1 550.7 88.9 558.1 98.7 559.8 100.2 561.5 100.9 563.2 100.7 564.9 100.2 572.3 96.7 574 96.4 575.2 96.5 576.3 97.5 577.4 99.1 583.1 111.1 589.4 120.9 592.2 124.4 593.9 125.6 595.1 125.9 596.2 125.9 597.9 125.2 601.3 122.6 608.7 114.4 613.3 109.9 620.1 102.3 623.5 99 626.9 96.8 628.6 96.4 629.7 96.4 630.9 97.1 632.6 99.4 638.3 110.7 640 113.3 641.1 114.3 642.3 114.6 643.4 114.3 647.9 111 649.7 110.2 650.8 110 651.4 110.5 652.5 112.8 653.6 116.4 657.6 133.6 659.3 139.5 660.5 141.8 661.6 143.2 663.9 145.5 665.6 146.8 667.8 147.4 669.6 146.2 671.3 143.8 676.4 134.7 678.1 133 679.2 132.8 680.4 133.1 682.1 134.1 686.6 138.2 688.9 139.6 693.4 141.1 703.1 143.3 707.7 145 709.9 147.3 714.5 153.4 715.6 154.5 716.8 155.1 717.9 155.1 719.6 154.5 725.3 150.8 728.1 149.7 731 149.8 733.8 150.5 736.7 151.7 739.5 153.4" stroke="#E8561A"/>
<path d="M445.5 225.9 452.3 225.1 459.1 223.9 460.9 223.3 463.1 221.8 467.1 217.8 474.5 208.6 479.1 202.3 482.5 196.9 485.9 190.6 489.3 183.2 492.7 174.4 495 167.5 496.7 159 500.7 133.5 501.8 127.8 502.9 123.8 506.3 116.3 509.8 110.2 512.6 106.9 514.3 105.8 515.4 105.5 517.2 105.6 519.4 106.2 529.1 111.1 531.4 111.9 533.6 112.3 535.3 112 537.1 111.1 543.9 106 545.6 105.5 546.7 105.5 548.4 106.3 550.1 107.8 558.1 117.2 559.8 118.5 561.5 119.1 563.2 118.9 564.9 118.1 572.3 112.8 574 112.3 575.7 112.6 576.9 113.5 578.6 115.5 584.8 125 592.8 139 595.1 141.4 596.8 141.9 599.6 141.3 602.5 139.8 605.9 137.1 611.6 132.1 614.4 128.5 621.2 117 624.1 113 626.9 110.5 628 110.1 629.2 110.2 630.3 111.4 631.5 113.5 636 125.3 637.1 127.7 638.3 129.2 639.4 129.6 641.1 129 646.2 124.4 647.9 123.3 649.1 123 649.7 123.2 650.2 124.1 651.4 127.2 652.5 132 657 157.4 658.7 165.1 659.9 168.3 660.5 169.2 664.4 172.3 667.8 173.7 669 173.8 670.1 173.4 671.8 171.6 676.4 164.3 677.5 163.1 678.7 162.4 682.1 163 690.6 166.6 692.9 167 694.6 166.7 697.4 164.9 705.4 156.9 707.1 155.9 708.8 155.6 709.9 156.2 711.1 157.7 715.6 167.1 717.3 169.3 723.6 173.7 729.3 177 734.4 179.2 739.5 180.4" stroke="#F0AC1C"/>
<path d="M445.5 225.6 482.5 222.9 491.6 221.7 493.3 220.6 496.7 216.5 498.4 215 503.5 213.6 508.6 213 539.9 212.6 580.8 213.7 622.9 212.5 632 212.8 653.1 214.4 662.2 214.8 673 214.7 706.5 213.7 722.4 213.9 739.5 214.6" stroke="#3CB8EC"/>
<path d="M445.5 229.9 462.6 228.5 494.4 228.5 495 228.2 495.5 227.3 497.8 221.2 499 219.1 502.4 215.6 504.1 214.4 505.8 213.7 512.6 212 520.6 210.8 556.4 207.2 577.4 205.8 612.7 204.6 628.6 204.6 665 205.7 674.7 205.4 695.7 203.8 704.8 203.4 723 203.6 739.5 204.3" stroke="#8A2E96"/>
<path d="M445.5 213.3 456.3 211.5 466 210.3 486.4 208.9 493.8 208.1 495.5 207.7 500.1 205 501.8 204.5 512.6 204 537.6 203.4 567.8 201.5 580.8 201.1 600.7 201.8 625.8 203.8 652.5 208.3 667.8 211.4 674.7 212.3 714.5 212.7 725.9 213.3 739.5 214.5" stroke="#F0AC1C"/>
<path d="M445.5 231.2 454.6 229.5 462.6 228.6 495 228.5 524.5 230.9 534.8 231.4 617.8 230.8 739.5 233" stroke="#C0163A"/>
<path d="M445.5 232.1 462.6 230.8 494.4 230.8 497.8 231.1 507.5 233 520.6 233.3 542.2 233.5 618.9 233.1 739.5 235.3" stroke="#8A2E96"/>
<path d="M445.5 204.1 449.5 203.1 454.6 200.2 464.3 193 470.5 186.4 472.2 185.4 473.4 185.2 475.1 185.8 477.3 187.9 484.7 199 487 201.7 489.3 203.3 490.4 203.4 491 203.1 492.1 201.8 493.3 199.6 494.4 196.8 495 194.6 496.1 185.4 499 154 500.1 146.7 502.9 139.3 505.8 134.3 507.5 132.5 509.8 131.1 514.3 129 518.9 127.4 526.8 125.6 545 122 549.6 121.4 551.8 121.4 554.1 121.9 561.5 125.1 564.4 125.9 568.3 125.7 578.6 123.7 580.3 123.8 582 124.9 584.8 128.8 588.8 136.8 590.5 144 594.5 164.6 595.6 168.1 596.2 169 596.8 169.2 597.9 168.9 599.6 167.5 602.5 163.3 609.3 151.1 615.5 137.9 618.4 132.9 622.9 127.7 625.8 125.1 628 123.9 630.3 123.8 633.7 125 638.8 128 645.7 131.5 649.7 134.3 651.9 136.8 656.5 145.1 657.6 146.4 659.9 148.1 661.6 148.7 669 148.7 670.7 149.4 673 151.8 678.7 159.8 686 167.2 689.5 169.8 692.3 170.9 693.4 171 695.1 170.6 698 168.8 705.4 162.8 707.7 161.8 709.4 161.8 710.5 162.9 711.6 164.8 716.2 174.2 718.5 176.7 721.9 179.4 725.9 181.9 733.2 185.7 739.5 188.5" stroke="#C0163A"/></g>
</svg>
<div class="t tk" style="right:707.1px;top:234.7px">0</div>
<div class="t tk" style="right:707.1px;top:188.7px">0.2</div>
<div class="t tk" style="right:707.1px;top:142.8px">0.4</div>
<div class="t tk" style="right:707.1px;top:96.8px">0.6</div>
<div class="t tk" style="right:707.1px;top:50.9px">0.8</div>
<div class="t tk" style="right:707.1px;top:4.9px">1</div>
<div class="t tk" style="left:65.2px;top:246.2px;width:40px;margin-left:-20px;text-align:center">0.5</div>
<div class="t tk" style="left:136.2px;top:246.2px;width:40px;margin-left:-20px;text-align:center">1</div>
<div class="t tk" style="left:207.1px;top:246.2px;width:40px;margin-left:-20px;text-align:center">1.5</div>
<div class="t tk" style="left:278.1px;top:246.2px;width:40px;margin-left:-20px;text-align:center">2</div>
<div class="t tk" style="right:305.2px;top:232.9px">0</div>
<div class="t tk" style="right:305.2px;top:187.3px">0.2</div>
<div class="t tk" style="right:305.2px;top:141.8px">0.4</div>
<div class="t tk" style="right:305.2px;top:96.2px">0.6</div>
<div class="t tk" style="right:305.2px;top:50.6px">0.8</div>
<div class="t tk" style="right:305.2px;top:5.0px">1</div>
<div class="t tk" style="left:465.6px;top:244.4px;width:40px;margin-left:-20px;text-align:center">0.5</div>
<div class="t tk" style="left:536.6px;top:244.4px;width:40px;margin-left:-20px;text-align:center">1</div>
<div class="t tk" style="left:607.5px;top:244.4px;width:40px;margin-left:-20px;text-align:center">1.5</div>
<div class="t tk" style="left:678.5px;top:244.4px;width:40px;margin-left:-20px;text-align:center">2</div>
<div class="t" style="left:138.7px;top:16.2px;font-size:12.4px;color:#111">Measured Reflectances</div>
<div class="t" style="left:516px;top:17.5px;font-size:12.1px;color:#111">Simulated Using MODIS BRDFs</div>
<div class="t" style="left:141.3px;top:260.8px;font-size:13.5px;color:#333">Wavelength (<i style="font-family:'Liberation Serif'">μ</i>m)</div>
<div class="t" style="left:541.5px;top:259.8px;font-size:13.5px;color:#333">Wavelength (<i style="font-family:'Liberation Serif'">μ</i>m)</div>
<div class="t" style="left:7px;top:159.5px;font-size:13.4px;color:#2e2e2e;transform:rotate(-90deg);transform-origin:0 0">Reflectance</div>
<div class="t" style="left:408px;top:159.5px;font-size:13.4px;color:#2e2e2e;transform:rotate(-90deg);transform-origin:0 0">Reflectance</div>
<div class="t" style="left:174.2px;top:290.5px;font-size:18.2px;color:#000;font-family:'Liberation Serif'">(<b style="font-size:19.5px">a</b>)</div>
<div class="t" style="left:573px;top:290.2px;font-size:18.2px;color:#000;font-family:'Liberation Serif'">(<b style="font-size:19.5px">b</b>)</div>

</body></html>
